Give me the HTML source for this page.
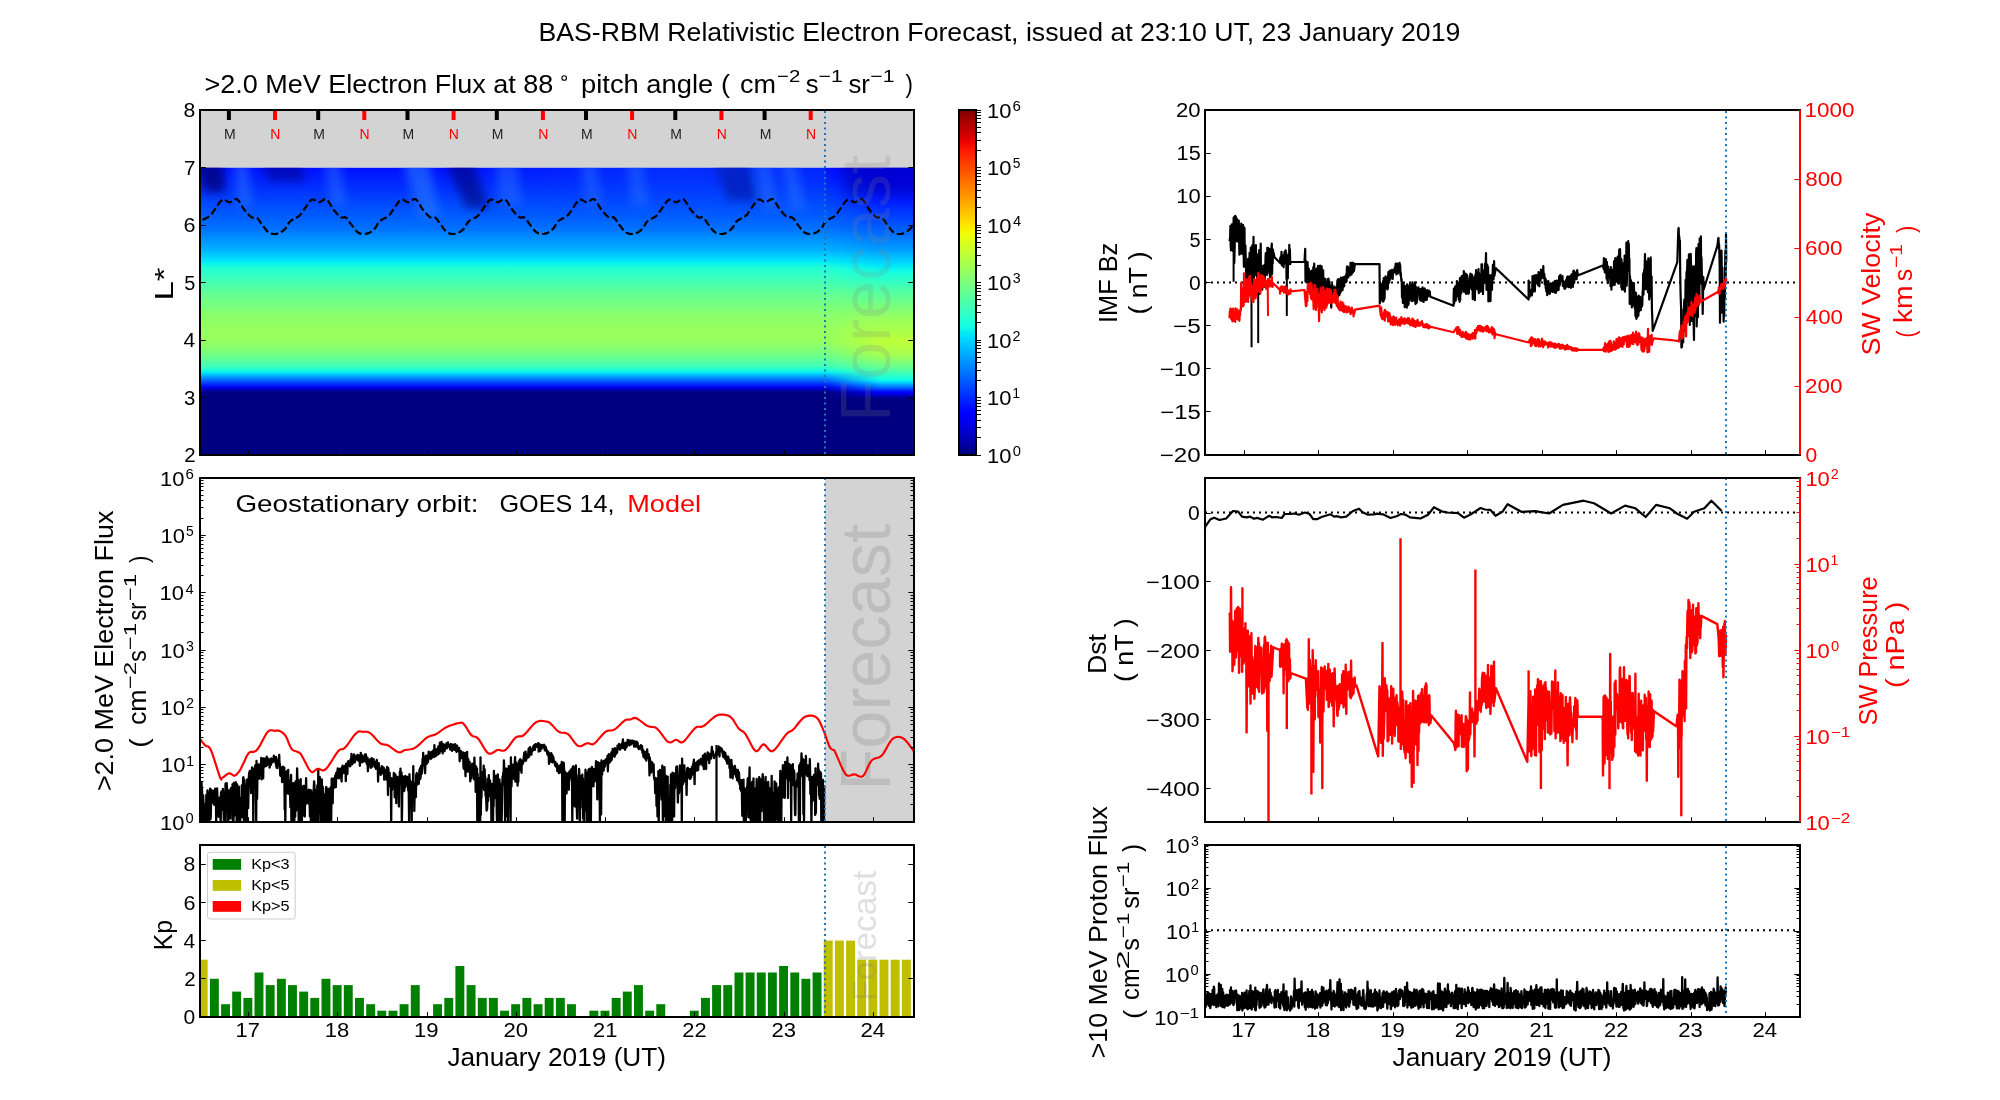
<!DOCTYPE html>
<html><head><meta charset="utf-8"><style>
html,body{margin:0;padding:0;background:#fff;}
svg{display:block;will-change:transform;}
text{font-family:"Liberation Sans", sans-serif;}
</style></head><body>
<svg width="2000" height="1100" viewBox="0 0 2000 1100">
<defs><linearGradient id="hmA" x1="0" y1="0" x2="0" y2="1"><stop offset="0.0000" stop-color="#000fff"/><stop offset="0.0139" stop-color="#0016ff"/><stop offset="0.0278" stop-color="#001cff"/><stop offset="0.0417" stop-color="#0022ff"/><stop offset="0.0557" stop-color="#0028ff"/><stop offset="0.0678" stop-color="#002eff"/><stop offset="0.0696" stop-color="#002fff"/><stop offset="0.0835" stop-color="#0035ff"/><stop offset="0.0974" stop-color="#003cff"/><stop offset="0.1113" stop-color="#0042ff"/><stop offset="0.1130" stop-color="#0043ff"/><stop offset="0.1252" stop-color="#0049ff"/><stop offset="0.1391" stop-color="#004fff"/><stop offset="0.1530" stop-color="#0056ff"/><stop offset="0.1670" stop-color="#005cff"/><stop offset="0.1809" stop-color="#0062ff"/><stop offset="0.1948" stop-color="#0069ff"/><stop offset="0.2087" stop-color="#006fff"/><stop offset="0.2104" stop-color="#0070ff"/><stop offset="0.2174" stop-color="#0076ff"/><stop offset="0.2226" stop-color="#007bff"/><stop offset="0.2365" stop-color="#0087ff"/><stop offset="0.2504" stop-color="#0093ff"/><stop offset="0.2643" stop-color="#009fff"/><stop offset="0.2783" stop-color="#00abff"/><stop offset="0.2870" stop-color="#00b2ff"/><stop offset="0.2922" stop-color="#00baff"/><stop offset="0.3061" stop-color="#00ccff"/><stop offset="0.3200" stop-color="#00dffc"/><stop offset="0.3287" stop-color="#04ebf3"/><stop offset="0.3339" stop-color="#0bf4eb"/><stop offset="0.3478" stop-color="#1fffd8"/><stop offset="0.3496" stop-color="#21ffd6"/><stop offset="0.3617" stop-color="#2affcd"/><stop offset="0.3757" stop-color="#34ffc3"/><stop offset="0.3896" stop-color="#3effb9"/><stop offset="0.4035" stop-color="#48ffaf"/><stop offset="0.4174" stop-color="#52ffa5"/><stop offset="0.4313" stop-color="#5cff9a"/><stop offset="0.4400" stop-color="#63ff94"/><stop offset="0.4452" stop-color="#66ff91"/><stop offset="0.4591" stop-color="#6dff8a"/><stop offset="0.4730" stop-color="#74ff82"/><stop offset="0.4870" stop-color="#7cff7b"/><stop offset="0.5009" stop-color="#83ff73"/><stop offset="0.5148" stop-color="#8bff6c"/><stop offset="0.5165" stop-color="#8cff6b"/><stop offset="0.5287" stop-color="#8fff68"/><stop offset="0.5304" stop-color="#8fff67"/><stop offset="0.5426" stop-color="#92ff64"/><stop offset="0.5565" stop-color="#96ff61"/><stop offset="0.5652" stop-color="#98ff5f"/><stop offset="0.5704" stop-color="#98ff5f"/><stop offset="0.5843" stop-color="#98ff5f"/><stop offset="0.5983" stop-color="#98ff5f"/><stop offset="0.6000" stop-color="#98ff5f"/><stop offset="0.6070" stop-color="#93ff63"/><stop offset="0.6122" stop-color="#90ff67"/><stop offset="0.6261" stop-color="#86ff71"/><stop offset="0.6400" stop-color="#7dff7a"/><stop offset="0.6417" stop-color="#7bff7b"/><stop offset="0.6522" stop-color="#6fff88"/><stop offset="0.6539" stop-color="#6dff8a"/><stop offset="0.6678" stop-color="#5dff9a"/><stop offset="0.6817" stop-color="#4cffab"/><stop offset="0.6904" stop-color="#42ffb5"/><stop offset="0.6957" stop-color="#33ffc3"/><stop offset="0.6974" stop-color="#2fffc8"/><stop offset="0.7096" stop-color="#0df6ea"/><stop offset="0.7113" stop-color="#08f0ef"/><stop offset="0.7235" stop-color="#00b4ff"/><stop offset="0.7322" stop-color="#008aff"/><stop offset="0.7374" stop-color="#0073ff"/><stop offset="0.7426" stop-color="#005cff"/><stop offset="0.7513" stop-color="#0036ff"/><stop offset="0.7530" stop-color="#002eff"/><stop offset="0.7652" stop-color="#0000ec"/><stop offset="0.7670" stop-color="#0000df"/><stop offset="0.7722" stop-color="#0000b9"/><stop offset="0.7791" stop-color="#000093"/><stop offset="0.7826" stop-color="#000080"/><stop offset="0.7878" stop-color="#000080"/><stop offset="0.7930" stop-color="#000080"/><stop offset="0.8052" stop-color="#000080"/><stop offset="0.8070" stop-color="#000080"/><stop offset="0.8209" stop-color="#000080"/><stop offset="1.0000" stop-color="#000080"/></linearGradient>
<linearGradient id="hmB" x1="0" y1="0" x2="0" y2="1"><stop offset="0.0000" stop-color="#0000ff"/><stop offset="0.0139" stop-color="#0000ff"/><stop offset="0.0278" stop-color="#0000ff"/><stop offset="0.0417" stop-color="#0000ff"/><stop offset="0.0557" stop-color="#0005ff"/><stop offset="0.0678" stop-color="#0009ff"/><stop offset="0.0696" stop-color="#000aff"/><stop offset="0.0835" stop-color="#000fff"/><stop offset="0.0974" stop-color="#0014ff"/><stop offset="0.1113" stop-color="#0019ff"/><stop offset="0.1130" stop-color="#0019ff"/><stop offset="0.1252" stop-color="#0022ff"/><stop offset="0.1391" stop-color="#002bff"/><stop offset="0.1530" stop-color="#0035ff"/><stop offset="0.1670" stop-color="#003eff"/><stop offset="0.1809" stop-color="#0048ff"/><stop offset="0.1948" stop-color="#0051ff"/><stop offset="0.2087" stop-color="#005bff"/><stop offset="0.2104" stop-color="#005cff"/><stop offset="0.2174" stop-color="#0061ff"/><stop offset="0.2226" stop-color="#0065ff"/><stop offset="0.2365" stop-color="#0072ff"/><stop offset="0.2504" stop-color="#007eff"/><stop offset="0.2643" stop-color="#008aff"/><stop offset="0.2783" stop-color="#0096ff"/><stop offset="0.2870" stop-color="#009eff"/><stop offset="0.2922" stop-color="#00a5ff"/><stop offset="0.3061" stop-color="#00b7ff"/><stop offset="0.3200" stop-color="#00c9ff"/><stop offset="0.3287" stop-color="#00d4ff"/><stop offset="0.3339" stop-color="#00dbff"/><stop offset="0.3478" stop-color="#06edf0"/><stop offset="0.3496" stop-color="#08f0ef"/><stop offset="0.3617" stop-color="#13fde3"/><stop offset="0.3757" stop-color="#20ffd7"/><stop offset="0.3896" stop-color="#2dffca"/><stop offset="0.4035" stop-color="#39ffbe"/><stop offset="0.4174" stop-color="#46ffb1"/><stop offset="0.4313" stop-color="#53ffa4"/><stop offset="0.4400" stop-color="#5aff9c"/><stop offset="0.4452" stop-color="#5eff98"/><stop offset="0.4591" stop-color="#68ff8e"/><stop offset="0.4730" stop-color="#73ff84"/><stop offset="0.4870" stop-color="#7dff7a"/><stop offset="0.5009" stop-color="#87ff70"/><stop offset="0.5148" stop-color="#91ff66"/><stop offset="0.5165" stop-color="#92ff65"/><stop offset="0.5287" stop-color="#9bff5c"/><stop offset="0.5304" stop-color="#9cff5a"/><stop offset="0.5426" stop-color="#a2ff55"/><stop offset="0.5565" stop-color="#a8ff4f"/><stop offset="0.5652" stop-color="#abff4c"/><stop offset="0.5704" stop-color="#adff49"/><stop offset="0.5843" stop-color="#b3ff43"/><stop offset="0.5983" stop-color="#b9ff3d"/><stop offset="0.6000" stop-color="#baff3d"/><stop offset="0.6070" stop-color="#bdff3a"/><stop offset="0.6122" stop-color="#baff3c"/><stop offset="0.6261" stop-color="#b3ff44"/><stop offset="0.6400" stop-color="#abff4c"/><stop offset="0.6417" stop-color="#aaff4d"/><stop offset="0.6522" stop-color="#a5ff52"/><stop offset="0.6539" stop-color="#a2ff55"/><stop offset="0.6678" stop-color="#8eff69"/><stop offset="0.6817" stop-color="#79ff7d"/><stop offset="0.6904" stop-color="#6dff8a"/><stop offset="0.6957" stop-color="#65ff92"/><stop offset="0.6974" stop-color="#63ff94"/><stop offset="0.7096" stop-color="#4affac"/><stop offset="0.7113" stop-color="#47ffb0"/><stop offset="0.7235" stop-color="#2fffc8"/><stop offset="0.7322" stop-color="#1dffda"/><stop offset="0.7374" stop-color="#13fde4"/><stop offset="0.7426" stop-color="#08f0ef"/><stop offset="0.7513" stop-color="#00bdff"/><stop offset="0.7530" stop-color="#00b2ff"/><stop offset="0.7652" stop-color="#006bff"/><stop offset="0.7670" stop-color="#0061ff"/><stop offset="0.7722" stop-color="#003dff"/><stop offset="0.7791" stop-color="#000eff"/><stop offset="0.7826" stop-color="#0000ff"/><stop offset="0.7878" stop-color="#0000dc"/><stop offset="0.7930" stop-color="#0000c0"/><stop offset="0.8052" stop-color="#000080"/><stop offset="0.8070" stop-color="#000080"/><stop offset="0.8209" stop-color="#000080"/><stop offset="1.0000" stop-color="#000080"/></linearGradient>
<linearGradient id="fcm" x1="825" y1="0" x2="880" y2="0" gradientUnits="userSpaceOnUse"><stop offset="0" stop-color="#fff" stop-opacity="0"/><stop offset="0.5" stop-color="#fff" stop-opacity="0.5"/><stop offset="1" stop-color="#fff" stop-opacity="1"/></linearGradient>
<mask id="fcmask" maskUnits="userSpaceOnUse" x="800" y="160" width="120" height="300"><rect x="800" y="160" width="120" height="300" fill="url(#fcm)"/></mask>
<filter id="blur3" x="-50%" y="-50%" width="200%" height="200%"><feGaussianBlur stdDeviation="5"/></filter>
<clipPath id="hmclip"><rect x="200" y="167.5" width="714" height="287.5"/></clipPath>
<linearGradient id="vfade" x1="0" y1="0" x2="0" y2="1"><stop offset="0" stop-color="#fff" stop-opacity="1"/><stop offset="1" stop-color="#fff" stop-opacity="0"/></linearGradient>
<linearGradient id="hlight" x1="440" y1="0" x2="825" y2="0" gradientUnits="userSpaceOnUse"><stop offset="0" stop-color="#0a60ff" stop-opacity="0"/><stop offset="0.6" stop-color="#0a60ff" stop-opacity="0.35"/><stop offset="1" stop-color="#0a60ff" stop-opacity="0.25"/></linearGradient>
<mask id="vmask" maskUnits="userSpaceOnUse" x="200" y="160" width="714" height="80"><rect x="200" y="167.5" width="714" height="55" fill="url(#vfade)"/></mask><linearGradient id="cbg" x1="0" y1="0" x2="0" y2="1"><stop offset="0.0000" stop-color="#800000"/><stop offset="0.0167" stop-color="#930000"/><stop offset="0.0333" stop-color="#a60000"/><stop offset="0.0500" stop-color="#b90000"/><stop offset="0.0667" stop-color="#cd0000"/><stop offset="0.0833" stop-color="#e00000"/><stop offset="0.1000" stop-color="#f30900"/><stop offset="0.1167" stop-color="#ff1900"/><stop offset="0.1333" stop-color="#ff2900"/><stop offset="0.1500" stop-color="#ff3900"/><stop offset="0.1667" stop-color="#ff4800"/><stop offset="0.1833" stop-color="#ff5800"/><stop offset="0.2000" stop-color="#ff6800"/><stop offset="0.2167" stop-color="#ff7800"/><stop offset="0.2333" stop-color="#ff8700"/><stop offset="0.2500" stop-color="#ff9700"/><stop offset="0.2667" stop-color="#ffa700"/><stop offset="0.2833" stop-color="#ffb700"/><stop offset="0.3000" stop-color="#ffc600"/><stop offset="0.3167" stop-color="#ffd600"/><stop offset="0.3333" stop-color="#ffe600"/><stop offset="0.3500" stop-color="#f7f600"/><stop offset="0.3667" stop-color="#e9ff0e"/><stop offset="0.3833" stop-color="#dbff1b"/><stop offset="0.4000" stop-color="#ceff29"/><stop offset="0.4167" stop-color="#c0ff37"/><stop offset="0.4333" stop-color="#b2ff45"/><stop offset="0.4500" stop-color="#a5ff52"/><stop offset="0.4667" stop-color="#97ff60"/><stop offset="0.4833" stop-color="#89ff6e"/><stop offset="0.5000" stop-color="#7bff7b"/><stop offset="0.5167" stop-color="#6eff89"/><stop offset="0.5333" stop-color="#60ff97"/><stop offset="0.5500" stop-color="#52ffa5"/><stop offset="0.5667" stop-color="#45ffb2"/><stop offset="0.5833" stop-color="#37ffc0"/><stop offset="0.6000" stop-color="#29ffce"/><stop offset="0.6167" stop-color="#1bffdb"/><stop offset="0.6333" stop-color="#0ef7e9"/><stop offset="0.6500" stop-color="#00e5f7"/><stop offset="0.6667" stop-color="#00d5ff"/><stop offset="0.6833" stop-color="#00c3ff"/><stop offset="0.7000" stop-color="#00b3ff"/><stop offset="0.7167" stop-color="#00a2ff"/><stop offset="0.7333" stop-color="#0091ff"/><stop offset="0.7500" stop-color="#0080ff"/><stop offset="0.7667" stop-color="#006eff"/><stop offset="0.7833" stop-color="#005eff"/><stop offset="0.8000" stop-color="#004cff"/><stop offset="0.8167" stop-color="#003cff"/><stop offset="0.8333" stop-color="#002aff"/><stop offset="0.8500" stop-color="#001aff"/><stop offset="0.8667" stop-color="#0008ff"/><stop offset="0.8833" stop-color="#0000ff"/><stop offset="0.9000" stop-color="#0000f3"/><stop offset="0.9167" stop-color="#0000e0"/><stop offset="0.9333" stop-color="#0000cd"/><stop offset="0.9500" stop-color="#0000b9"/><stop offset="0.9667" stop-color="#0000a6"/><stop offset="0.9833" stop-color="#000093"/><stop offset="1.0000" stop-color="#000080"/></linearGradient></defs>
<rect width="2000" height="1100" fill="#fff"/>
<rect x="200" y="167.5" width="714" height="287.5" fill="url(#hmA)"/>
<rect x="815" y="167.5" width="99" height="287.5" fill="url(#hmB)" mask="url(#fcmask)"/>
<g clip-path="url(#hmclip)"><g filter="url(#blur3)"><polygon points="196,160 222,160 226,192 204,192" fill="#000070" opacity="0.75"/><polygon points="262,160 300,160 306,182 268,182" fill="#000070" opacity="0.45"/><polygon points="445,160 472,160 490,208 466,208" fill="#000070" opacity="0.6"/><polygon points="712,160 748,160 760,200 728,200" fill="#000070" opacity="0.5"/><polygon points="840,160 918,160 918,195 845,195" fill="#000070" opacity="0.3"/><polygon points="234,160 248,160 252,208 238,208" fill="#2a7aff" opacity="0.5"/><polygon points="324,160 340,160 346,206 330,206" fill="#2a7aff" opacity="0.45"/><polygon points="402,160 428,160 440,218 420,218" fill="#2a7aff" opacity="0.6"/><polygon points="495,160 517,160 522,206 500,206" fill="#2a7aff" opacity="0.45"/><polygon points="580,160 597,160 602,206 586,206" fill="#2a7aff" opacity="0.45"/><polygon points="626,160 643,160 649,206 632,206" fill="#2a7aff" opacity="0.45"/><polygon points="754,160 771,160 779,210 762,210" fill="#2a7aff" opacity="0.5"/><polygon points="780,160 796,160 806,210 790,210" fill="#2a7aff" opacity="0.5"/></g></g>
<rect x="440" y="167.5" width="385" height="60" fill="url(#hlight)" mask="url(#vmask)"/>
<rect x="200" y="110" width="714" height="57.5" fill="#d3d3d3"/>
<g clip-path="url(#hmclip)"><path d="M196.3 228.4 197.6 226.7 198.5 224.8 199.6 222.9 201 221.2 203 219.8 205.5 218.5 207.9 217.2 210 215.8 211.6 214.2 212.8 212.4 214 210.6 215.4 208.6 217.1 206.2 218.9 203.5 220.8 201.1 222.6 199.6 224.4 199.6 226.2 200.6 228 201.8 229.8 202.3 231.6 201.6 233.4 200.3 235.2 199.2 237 199.2 238.8 200.9 240.6 203.7 242.4 206.8 244.2 209.5 246 211.8 247.9 214 249.7 215.8 251.4 217.2 252.9 217.7 254.2 217.4 255.5 217.2 256.8 217.6 258.1 218.9 259.4 220.7 260.7 222.8 262.2 224.8 263.8 226.9 265.6 229.3 267.4 231.4 269.4 232.9 271.6 233.7 273.9 234 276.2 233.8 278.4 233.4 280.4 232.6 282.3 231.4 284 229.9 285.6 228.4 286.8 226.7 287.8 224.8 288.9 222.9 290.3 221.2 292.3 219.8 294.7 218.5 297.2 217.2 299.3 215.8 300.8 214.2 302.1 212.4 303.3 210.6 304.7 208.6 306.4 206.2 308.2 203.5 310 201.1 311.9 199.6 313.7 199.6 315.5 200.6 317.3 201.8 319.1 202.3 320.9 201.6 322.7 200.3 324.5 199.2 326.3 199.2 328.1 200.9 329.9 203.7 331.7 206.8 333.5 209.5 335.3 211.8 337.2 214 339 215.8 340.7 217.2 342.2 217.7 343.5 217.4 344.8 217.2 346.1 217.6 347.4 218.9 348.7 220.7 350 222.8 351.5 224.8 353.1 226.9 354.9 229.3 356.7 231.4 358.7 232.9 360.9 233.7 363.2 234 365.5 233.8 367.7 233.4 369.7 232.6 371.6 231.4 373.3 229.9 374.9 228.4 376.1 226.7 377.1 224.8 378.2 222.9 379.6 221.2 381.6 219.8 384 218.5 386.5 217.2 388.6 215.8 390.1 214.2 391.4 212.4 392.6 210.6 394 208.6 395.6 206.2 397.5 203.5 399.3 201.1 401.2 199.6 403 199.6 404.8 200.6 406.6 201.8 408.4 202.3 410.2 201.6 412 200.3 413.8 199.2 415.6 199.2 417.4 200.9 419.2 203.7 421 206.8 422.8 209.5 424.6 211.8 426.5 214 428.3 215.8 430 217.2 431.4 217.7 432.8 217.4 434.1 217.2 435.4 217.6 436.7 218.9 438 220.7 439.3 222.8 440.8 224.8 442.4 226.9 444.1 229.3 446 231.4 448 232.9 450.1 233.7 452.5 234 454.8 233.8 457 233.4 459 232.6 460.8 231.4 462.6 229.9 464.2 228.4 465.4 226.7 466.4 224.8 467.4 222.9 468.9 221.2 470.9 219.8 473.3 218.5 475.8 217.2 477.9 215.8 479.4 214.2 480.7 212.4 481.9 210.6 483.3 208.6 484.9 206.2 486.7 203.5 488.6 201.1 490.5 199.6 492.3 199.6 494.1 200.6 495.9 201.8 497.7 202.3 499.5 201.6 501.3 200.3 503.1 199.2 504.9 199.2 506.7 200.9 508.5 203.7 510.3 206.8 512.1 209.5 513.9 211.8 515.8 214 517.6 215.8 519.3 217.2 520.7 217.7 522.1 217.4 523.4 217.2 524.7 217.6 526 218.9 527.2 220.7 528.6 222.8 530.1 224.8 531.7 226.9 533.4 229.3 535.3 231.4 537.3 232.9 539.4 233.7 541.8 234 544.1 233.8 546.3 233.4 548.2 232.6 550.1 231.4 551.9 229.9 553.5 228.4 554.7 226.7 555.7 224.8 556.7 222.9 558.1 221.2 560.2 219.8 562.6 218.5 565 217.2 567.1 215.8 568.7 214.2 570 212.4 571.2 210.6 572.5 208.6 574.2 206.2 576 203.5 577.9 201.1 579.7 199.6 581.5 199.6 583.3 200.6 585.1 201.8 586.9 202.3 588.7 201.6 590.5 200.3 592.3 199.2 594.1 199.2 595.9 200.9 597.7 203.7 599.5 206.8 601.3 209.5 603.2 211.8 605.1 214 606.9 215.8 608.5 217.2 610 217.7 611.4 217.4 612.6 217.2 613.9 217.6 615.3 218.9 616.5 220.7 617.9 222.8 619.3 224.8 621 226.9 622.7 229.3 624.6 231.4 626.5 232.9 628.7 233.7 631 234 633.4 233.8 635.5 233.4 637.5 232.6 639.4 231.4 641.2 229.9 642.7 228.4 644 226.7 645 224.8 646 222.9 647.4 221.2 649.5 219.8 651.9 218.5 654.3 217.2 656.4 215.8 658 214.2 659.2 212.4 660.4 210.6 661.8 208.6 663.5 206.2 665.3 203.5 667.2 201.1 669 199.6 670.8 199.6 672.6 200.6 674.4 201.8 676.2 202.3 678 201.6 679.8 200.3 681.6 199.2 683.4 199.2 685.2 200.9 687 203.7 688.8 206.8 690.6 209.5 692.5 211.8 694.3 214 696.2 215.8 697.8 217.2 699.3 217.7 700.6 217.4 701.9 217.2 703.2 217.6 704.5 218.9 705.8 220.7 707.2 222.8 708.6 224.8 710.3 226.9 712 229.3 713.9 231.4 715.8 232.9 718 233.7 720.3 234 722.7 233.8 724.8 233.4 726.8 232.6 728.7 231.4 730.4 229.9 732 228.4 733.3 226.7 734.3 224.8 735.3 222.9 736.7 221.2 738.7 219.8 741.2 218.5 743.6 217.2 745.7 215.8 747.3 214.2 748.5 212.4 749.7 210.6 751.1 208.6 752.8 206.2 754.6 203.5 756.5 201.1 758.3 199.6 760.1 199.6 761.9 200.6 763.7 201.8 765.5 202.3 767.3 201.6 769.1 200.3 770.9 199.2 772.7 199.2 774.5 200.9 776.3 203.7 778.1 206.8 779.9 209.5 781.8 211.8 783.6 214 785.4 215.8 787.1 217.2 788.6 217.7 789.9 217.4 791.2 217.2 792.5 217.6 793.8 218.9 795.1 220.7 796.4 222.8 797.9 224.8 799.5 226.9 801.3 229.3 803.1 231.4 805.1 232.9 807.3 233.7 809.6 234 812 233.8 814.1 233.4 816.1 232.6 818 231.4 819.7 229.9 821.3 228.4 822.6 226.7 823.5 224.8 824.6 222.9 826 221.2 828 219.8 830.5 218.5 832.9 217.2 835 215.8 836.6 214.2 837.8 212.4 839 210.6 840.4 208.6 842.1 206.2 843.9 203.5 845.8 201.1 847.6 199.6 849.4 199.6 851.2 200.6 853 201.8 854.8 202.3 856.6 201.6 858.4 200.3 860.2 199.2 862 199.2 863.8 200.9 865.6 203.7 867.4 206.8 869.2 209.5 871 211.8 872.9 214 874.7 215.8 876.4 217.2 877.9 217.7 879.2 217.4 880.5 217.2 881.8 217.6 883.1 218.9 884.4 220.7 885.7 222.8 887.2 224.8 888.8 226.9 890.6 229.3 892.4 231.4 894.4 232.9 896.6 233.7 898.9 234 901.2 233.8 903.4 233.4 905.4 232.6 907.3 231.4 909 229.9 910.6 228.4 911.8 226.7 912.8 224.8 913.9 222.9 915.3 221.2 917.3 219.8 919.7 218.5" fill="none" stroke="#000" stroke-width="2.2" stroke-dasharray="7.4 3.2"/></g>
<text x="890.4" y="422" font-size="71" fill="#808080" textLength="267.1" lengthAdjust="spacingAndGlyphs" transform="rotate(-90 890.4 422)" fill-opacity="0.2">Forecast</text>
<path d="M228.9 111v9M318.2 111v9M407.5 111v9M496.8 111v9M586 111v9M675.3 111v9M764.6 111v9" stroke="#000" stroke-width="4"/>
<path d="M275 111v9M364.3 111v9M453.6 111v9M542.9 111v9M632.1 111v9M721.4 111v9M810.7 111v9" stroke="#f00" stroke-width="4"/>
<text x="229.8" y="138.8" font-size="14" text-anchor="middle" fill="#222">M</text>
<text x="275.3" y="138.8" font-size="14" text-anchor="middle" fill="#f00">N</text>
<text x="319.1" y="138.8" font-size="14" text-anchor="middle" fill="#222">M</text>
<text x="364.6" y="138.8" font-size="14" text-anchor="middle" fill="#f00">N</text>
<text x="408.4" y="138.8" font-size="14" text-anchor="middle" fill="#222">M</text>
<text x="453.9" y="138.8" font-size="14" text-anchor="middle" fill="#f00">N</text>
<text x="497.7" y="138.8" font-size="14" text-anchor="middle" fill="#222">M</text>
<text x="543.2" y="138.8" font-size="14" text-anchor="middle" fill="#f00">N</text>
<text x="586.9" y="138.8" font-size="14" text-anchor="middle" fill="#222">M</text>
<text x="632.4" y="138.8" font-size="14" text-anchor="middle" fill="#f00">N</text>
<text x="676.2" y="138.8" font-size="14" text-anchor="middle" fill="#222">M</text>
<text x="721.7" y="138.8" font-size="14" text-anchor="middle" fill="#f00">N</text>
<text x="765.5" y="138.8" font-size="14" text-anchor="middle" fill="#222">M</text>
<text x="811" y="138.8" font-size="14" text-anchor="middle" fill="#f00">N</text>
<rect x="959" y="110" width="17" height="345" fill="url(#cbg)"/>
<rect x="825" y="478" width="89" height="344" fill="#d3d3d3"/>
<text x="889.8" y="790.5" font-size="71" fill="#808080" textLength="266.5" lengthAdjust="spacingAndGlyphs" transform="rotate(-90 889.8 790.5)" fill-opacity="0.27">Forecast</text>
<clipPath id="geoclip"><rect x="200" y="478" width="714" height="344"/></clipPath>
<g clip-path="url(#geoclip)"><path d="M200.5 822.7 200.8 821.5 201.1 811.8 201.5 782.4 201.8 788.1 202.1 791.4 202.4 824 202.7 798.7 203.1 795.4 203.4 801.2 203.7 824 204 822.8 204.3 811.3 204.7 804.4 205 822 205.3 813.5 205.6 824 205.9 824 206.3 794.9 206.6 824 206.9 824 207.2 796.6 207.5 790.3 207.9 811 208.2 826.8 208.5 824 208.8 824 209.1 820.6 209.5 792.3 209.8 803.3 210.1 788.7 210.4 819.4 210.7 817.7 211.1 801.5 211.4 789.9 211.7 798.5 212 791.1 212.3 795.2 212.7 796.4 213 802.5 213.3 790.8 213.6 797.9 213.9 804.5 214.3 790.7 214.6 804.8 214.9 804.7 215.2 788.7 215.5 797.4 215.9 798.4 216.2 822.7 216.5 796.1 216.8 816.7 217.1 788.5 217.5 798.3 217.8 798.6 218.1 816 218.4 801.6 218.7 816.8 219.1 802.2 219.4 806.8 219.7 797.8 220 797.2 220.3 809.7 220.7 824 221 792.5 221.3 809.3 221.6 791.5 221.9 809.5 222.3 808.8 222.6 796.2 222.9 788.8 223.2 793.7 223.5 808 223.9 824 224.2 820.4 224.5 818.8 224.8 817.6 225.1 822.9 225.5 783.6 225.8 791.9 226.1 799.5 226.4 793 226.7 783.2 227.1 789.4 227.4 801.4 227.7 824 228 807.1 228.3 824 228.7 808.6 229 790.4 229.3 793.8 229.6 799 229.9 817.3 230.3 818.5 230.6 799.6 230.9 788.2 231.2 804.9 231.5 799.3 231.9 797.2 232.2 807.7 232.5 784.5 232.8 824 233.1 810.9 233.5 824 233.8 782.9 234.1 793.1 234.4 803.6 234.7 796.7 235.1 815.4 235.4 786.7 235.7 782.1 236 783.7 236.3 789.6 236.7 824 237 784.1 237.3 794.7 237.6 824 237.9 824 238.3 820.2 238.6 799.7 238.9 786.6 239.2 814.9 239.5 821 239.9 816.6 240.2 824 240.5 802.7 240.8 806.3 241.1 797.7 241.5 813.2 241.8 785.4 242.1 793.9 242.4 817.3 242.7 799 243.1 777.7 243.4 777.2 243.7 793.7 244 824 244.3 779.7 244.7 783.6 245 788.6 245.3 819.9 245.6 792.6 245.9 794.7 246.3 787 246.6 799.1 246.9 824 247.2 779.4 247.5 791.3 247.9 782.7 248.2 808 248.5 791.3 248.8 779.5 249.1 772.7 249.5 777.8 249.8 771 250.1 775.8 250.4 775.8 250.7 777.6 251.1 793.1 251.4 779.1 251.7 776.8 252 767.5 252.3 788.6 252.7 777.8 253 771.7 253.3 824 253.6 790.2 253.9 775.3 254.3 768.2 254.6 772.9 254.9 775.1 255.2 765.3 255.5 779 255.9 782.2 256.2 821.2 256.5 761 256.8 779.3 257.1 798.9 257.5 768.9 257.8 779.4 258.1 767.7 258.4 773.7 258.7 764.3 259.1 778.6 259.4 768.8 259.7 773.6 260 765.4 260.3 767 260.7 772.9 261 763 261.3 757.8 261.6 779.4 261.9 770.6 262.3 762.4 262.6 760.6 262.9 760.4 263.2 778.3 263.5 758.5 263.9 760.9 264.2 766.9 264.5 758.7 264.8 764.7 265.1 764.7 265.5 760.4 265.8 762.9 266.1 766.1 266.4 759.1 266.7 756.7 267.1 765.1 267.4 762.4 267.7 762.3 268 758.6 268.3 762.5 268.7 762.2 269 761.2 269.3 759.3 269.6 767.6 269.9 766.1 270.3 763.8 270.6 764.5 270.9 764.8 271.2 758.3 271.5 759.8 271.9 762.5 272.2 760.2 272.5 762.2 272.8 760.2 273.1 759 273.5 761.5 273.8 755.7 274.1 758 274.4 761 274.7 757.7 275.1 757.6 275.4 757.2 275.7 763.6 276 757 276.3 766.2 276.7 767.7 277 760.1 277.3 768.1 277.6 765.8 277.9 760.4 278.3 765.8 278.6 758.7 278.9 760.5 279.2 754.8 279.5 762.9 279.9 764.3 280.2 775.1 280.5 775.7 280.8 775.5 281.1 767.1 281.5 774.2 281.8 770.2 282.1 782.2 282.4 771.8 282.7 767.7 283.1 766.8 283.4 777.1 283.7 773.5 284 781.7 284.3 767.7 284.7 809.5 285 781.8 285.3 824 285.6 787.1 285.9 772.7 286.3 784.2 286.6 771.5 286.9 782.4 287.2 792.4 287.5 793.3 287.9 789.7 288.2 769.8 288.5 791.8 288.8 793.9 289.1 792.9 289.5 792.1 289.8 780.4 290.1 794.4 290.4 807.1 290.7 785.3 291.1 774.8 291.4 824 291.7 819.4 292 796.4 292.3 793.9 292.7 807.1 293 786.9 293.3 783.2 293.6 821.8 293.9 788.1 294.3 824 294.6 789.8 294.9 783.2 295.2 816.7 295.5 781.5 295.9 785.4 296.2 810.6 296.5 797.4 296.8 788.6 297.1 768.3 297.5 780.8 297.8 782.2 298.1 780 298.4 793.2 298.7 824 299.1 821.7 299.4 800.7 299.7 790.5 300 813.6 300.3 781.3 300.7 779.2 301 823.5 301.3 791.9 301.6 798.9 301.9 822.5 302.3 799.6 302.6 793.3 302.9 789.9 303.2 786 303.5 791 303.9 795.9 304.2 815.7 304.5 786 304.8 816.5 305.1 799.5 305.5 791.6 305.8 795.8 306.1 778.2 306.4 793.5 306.7 803.5 307.1 792.8 307.4 799.6 307.7 801.5 308 802.8 308.3 800 308.7 789.7 309 803.9 309.3 795.8 309.6 802.1 309.9 816.4 310.3 798.8 310.6 790.1 310.9 824 311.2 790.7 311.5 818.9 311.9 824 312.2 824 312.5 799.5 312.8 821 313.1 793.4 313.5 795.5 313.8 788.1 314.1 781.3 314.4 784.2 314.7 824 315.1 789.6 315.4 824 315.7 790.5 316 824 316.3 813.8 316.7 794 317 818.1 317.3 785.4 317.6 786.5 317.9 820.9 318.3 770.6 318.6 802.8 318.9 787.2 319.2 813.2 319.5 798.9 319.9 777.2 320.2 806.4 320.5 824 320.8 793.7 321.1 815.3 321.5 825.1 321.8 779.4 322.1 802.7 322.4 824.4 322.7 786.5 323.1 796.5 323.4 793.7 323.7 804.6 324 816 324.3 794.2 324.7 824 325 824 325.3 799.9 325.6 821.1 325.9 788.8 326.3 787 326.6 803.8 326.9 795.3 327.2 824 327.5 824 327.9 824 328.2 788.8 328.5 814.8 328.8 790.8 329.1 804.3 329.5 790.8 329.8 824 330.1 814.5 330.4 787.7 330.7 796.9 331.1 825.9 331.4 801.3 331.7 778.7 332 791.6 332.3 785.4 332.7 803.3 333 783.1 333.3 787.4 333.6 778.5 333.9 785.5 334.3 779.2 334.6 787.5 334.9 785.6 335.2 775.5 335.5 784 335.9 787.1 336.2 773 336.5 774.3 336.8 774.9 337.1 775.3 337.5 770.9 337.8 768.4 338.1 778 338.4 772.4 338.7 772.3 339.1 778.3 339.4 768.9 339.7 773.7 340 770.2 340.3 768.8 340.7 769.4 341 773.1 341.3 775.8 341.6 781.5 341.9 767.3 342.3 774 342.6 765.7 342.9 767.5 343.2 772.2 343.5 766.5 343.9 768.9 344.2 771.9 344.5 772.9 344.8 772 345.1 765.7 345.5 767.1 345.8 781.2 346.1 763.9 346.4 770.8 346.7 771.3 347.1 765.7 347.4 774 347.7 762.4 348 763.5 348.3 761.1 348.7 763.5 349 765.3 349.3 763.5 349.6 761.7 349.9 766.3 350.3 766.3 350.6 759.2 350.9 760.5 351.2 761.7 351.5 753.8 351.9 757.6 352.2 764.4 352.5 763.4 352.8 759.5 353.1 757.6 353.5 758.6 353.8 758.2 354.1 754.4 354.4 762.4 354.7 762.5 355.1 759.4 355.4 756.4 355.7 760.4 356 758.6 356.3 756.9 356.7 758.9 357 756 357.3 755 357.6 755.7 357.9 755 358.3 760.6 358.6 759.1 358.9 757.8 359.2 758.1 359.5 755.3 359.9 765.8 360.2 756.9 360.5 761.5 360.8 752.8 361.1 756.1 361.5 760.6 361.8 758.2 362.1 762.3 362.4 755.4 362.7 756.9 363.1 761.6 363.4 757.1 363.7 761.4 364 757.9 364.3 757.2 364.7 761.1 365 754.5 365.3 756.8 365.6 759 365.9 754.3 366.3 759.1 366.6 763.4 366.9 757.5 367.2 764.7 367.5 757.7 367.9 771.3 368.2 764.9 368.5 765.9 368.8 762.8 369.1 761.6 369.5 763.5 369.8 759.5 370.1 761.8 370.4 762 370.7 767.8 371.1 765.8 371.4 767.4 371.7 758.1 372 766.6 372.3 763.2 372.7 763.9 373 759.7 373.3 762.1 373.6 759.2 373.9 763 374.3 762.1 374.6 766.8 374.9 765.8 375.2 766.2 375.5 765.2 375.9 768.8 376.2 761.3 376.5 767.8 376.8 760 377.1 768.4 377.5 762.8 377.8 768.2 378.1 781.5 378.4 768.3 378.7 763.1 379.1 767.6 379.4 768.5 379.7 772.1 380 770.1 380.3 768.6 380.7 774.9 381 768.9 381.3 769.6 381.6 771.9 381.9 766.1 382.3 770.9 382.6 769.5 382.9 773.5 383.2 773.6 383.5 767.3 383.9 768.8 384.2 779.6 384.5 769.8 384.8 771 385.1 770.6 385.5 770 385.8 778.7 386.1 772.4 386.4 779.6 386.7 774.5 387.1 766.9 387.4 776.1 387.7 778.8 388 795 388.3 768.2 388.7 775.8 389 773.1 389.3 776 389.6 772.8 389.9 786.1 390.3 779.1 390.6 786.3 390.9 786.3 391.2 824 391.5 778.2 391.9 790.1 392.2 778.7 392.5 780.6 392.8 781.1 393.1 787.7 393.5 788.4 393.8 773 394.1 787 394.4 779.9 394.7 797.3 395.1 782.4 395.4 774.5 395.7 787.6 396 787.8 396.3 803.2 396.7 776.8 397 781.8 397.3 778.3 397.6 777 397.9 790 398.3 777.8 398.6 785.8 398.9 806.5 399.2 781.7 399.5 783.9 399.9 771.8 400.2 779.4 400.5 768.6 400.8 784.2 401.1 780.4 401.5 772.5 401.8 824 402.1 809.3 402.4 776 402.7 777.3 403.1 791.1 403.4 783.9 403.7 777.3 404 791.1 404.3 790.7 404.7 780.1 405 787.7 405.3 775.8 405.6 776.6 405.9 784.2 406.3 776.8 406.6 776.9 406.9 784.7 407.2 778.2 407.5 786.8 407.9 781.6 408.2 790.5 408.5 776.3 408.8 795.4 409.1 823.1 409.5 774.2 409.8 793.9 410.1 780.2 410.4 806.2 410.7 806.4 411.1 795.1 411.4 782.2 411.7 824 412 783.1 412.3 788.6 412.7 796.4 413 784.4 413.3 766.1 413.6 799.9 413.9 783 414.3 811 414.6 797.2 414.9 788 415.2 783.7 415.5 795 415.9 797.1 416.2 774.8 416.5 774.2 416.8 773 417.1 784.9 417.5 775.5 417.8 782.7 418.1 778.1 418.4 775.2 418.7 783.8 419.1 779.7 419.4 770.1 419.7 773.9 420 768.2 420.3 778.9 420.7 776.1 421 766 421.3 771.6 421.6 773.9 421.9 772.7 422.3 768.7 422.6 758.8 422.9 762.3 423.2 752.9 423.5 765.5 423.9 756.5 424.2 764.8 424.5 757.7 424.8 762.5 425.1 773.3 425.5 760.8 425.8 759.2 426.1 755.6 426.4 758.5 426.7 763.9 427.1 755.8 427.4 757.7 427.7 760.2 428 762.2 428.3 757.7 428.7 751.6 429 756.9 429.3 754.9 429.6 753.2 429.9 757.7 430.3 755.1 430.6 759 430.9 754.3 431.2 752 431.5 758.3 431.9 757.5 432.2 756.1 432.5 751.9 432.8 753.8 433.1 750.7 433.5 756.5 433.8 752.4 434.1 757 434.4 745.1 434.7 750.5 435.1 754.5 435.4 751.3 435.7 756.2 436 754.5 436.3 750.1 436.7 749.1 437 751.7 437.3 749.9 437.6 754.6 437.9 754.5 438.3 746.3 438.6 746.9 438.9 752.7 439.2 751.5 439.5 753.4 439.9 742.7 440.2 745.8 440.5 751 440.8 746.4 441.1 745.9 441.5 742 441.8 751.5 442.1 747.2 442.4 747.8 442.7 753.4 443.1 746.2 443.4 744.1 443.7 748.4 444 748.6 444.3 747.5 444.7 751 445 745.9 445.3 747.1 445.6 744.7 445.9 747.5 446.3 747 446.6 743.2 446.9 748.4 447.2 746.8 447.5 745.9 447.9 742.3 448.2 746.5 448.5 744.8 448.8 746 449.1 746.9 449.5 745.6 449.8 744.8 450.1 749.5 450.4 747 450.7 743.8 451.1 746.7 451.4 745.1 451.7 747.2 452 750.8 452.3 746.3 452.7 744.9 453 744.4 453.3 747.9 453.6 746.4 453.9 747.2 454.3 749.9 454.6 747.3 454.9 746.9 455.2 744.2 455.5 744.8 455.9 746.9 456.2 751 456.5 751.8 456.8 751.5 457.1 745.7 457.5 751.1 457.8 750.8 458.1 748.9 458.4 748.3 458.7 750.4 459.1 747.8 459.4 751.8 459.7 761.3 460 755.3 460.3 751.7 460.7 751.1 461 751.2 461.3 758.1 461.6 753.3 461.9 757.6 462.3 753.8 462.6 753.6 462.9 752.4 463.2 758 463.5 767 463.9 768.8 464.2 753.8 464.5 758.6 464.8 752.8 465.1 764.1 465.5 776.3 465.8 764.2 466.1 767.6 466.4 765.1 466.7 756.3 467.1 751.8 467.4 768 467.7 771.7 468 763.2 468.3 759.2 468.7 768.5 469 771 469.3 763.8 469.6 761.8 469.9 770.9 470.3 781.4 470.6 773.7 470.9 774.1 471.2 765.9 471.5 778.3 471.9 772.5 472.2 763.6 472.5 765.6 472.8 770.1 473.1 773.7 473.5 764.5 473.8 764.8 474.1 779.4 474.4 757.6 474.7 767.9 475.1 766.3 475.4 772.5 475.7 791.9 476 766.4 476.3 777.1 476.7 772.3 477 768.3 477.3 824 477.6 774 477.9 824 478.3 807.5 478.6 777.9 478.9 824 479.2 800.3 479.5 824 479.9 824 480.2 824 480.5 757.5 480.8 814.9 481.1 796.2 481.5 797.4 481.8 775.2 482.1 786 482.4 772.1 482.7 775.5 483.1 772.1 483.4 782.7 483.7 765.6 484 788.7 484.3 790 484.7 769.5 485 789.9 485.3 777.1 485.6 795.9 485.9 786.1 486.3 802.1 486.6 810.7 486.9 791.2 487.2 809 487.5 789.7 487.9 778.8 488.2 800.9 488.5 792.4 488.8 775.1 489.1 782 489.5 788.4 489.8 795.9 490.1 780.5 490.4 785.9 490.7 792.4 491.1 789.8 491.4 821.6 491.7 824 492 787.6 492.3 783.9 492.7 792 493 824 493.3 795.1 493.6 806.6 493.9 770.8 494.3 798.4 494.6 779.6 494.9 778.8 495.2 781.3 495.5 796 495.9 775.7 496.2 789.9 496.5 795.6 496.8 814.9 497.1 824 497.5 790.6 497.8 774.4 498.1 790.8 498.4 797.9 498.7 813.8 499.1 824 499.4 779.3 499.7 784.7 500 790.6 500.3 784.1 500.7 792.7 501 792.8 501.3 820 501.6 823.4 501.9 808.5 502.3 783.7 502.6 776.4 502.9 784.8 503.2 772.7 503.5 784.1 503.9 760.5 504.2 766.1 504.5 776 504.8 787.5 505.1 824 505.5 776.8 505.8 773.7 506.1 768.6 506.4 768.7 506.7 777.6 507.1 789.6 507.4 816.7 507.7 772.9 508 824 508.3 788.4 508.7 766.1 509 788 509.3 783.6 509.6 776.2 509.9 783.4 510.3 774.6 510.6 824 510.9 757.4 511.2 779.1 511.5 786.5 511.9 770.7 512.2 776 512.5 775.5 512.8 764.6 513.1 771.1 513.5 774.9 513.8 778.5 514.1 779.1 514.4 777.2 514.7 763.5 515.1 757.2 515.4 781.7 515.7 772.1 516 762.5 516.3 777 516.7 763.6 517 771.2 517.3 775.7 517.6 785.7 517.9 769.8 518.3 781.8 518.6 769.4 518.9 761.1 519.2 761.7 519.5 767.5 519.9 759.5 520.2 759.2 520.5 770 520.8 760.5 521.1 762.7 521.5 772.8 521.8 760.5 522.1 760.8 522.4 762.5 522.7 763.9 523.1 760.7 523.4 762.1 523.7 758 524 755.5 524.3 752.7 524.7 758.9 525 760.7 525.3 755 525.6 751.7 525.9 760.7 526.3 759.1 526.6 756.6 526.9 754.4 527.2 755.6 527.5 754.2 527.9 757.5 528.2 755.5 528.5 749.9 528.8 748.5 529.1 756.8 529.5 753.5 529.8 754 530.1 747.1 530.4 748.2 530.7 750.7 531.1 751.2 531.4 754.7 531.7 750.2 532 751 532.3 750.7 532.7 748.8 533 750.3 533.3 746.3 533.6 748.7 533.9 745.3 534.3 748.1 534.6 747 534.9 749.9 535.2 744.8 535.5 744.1 535.9 747 536.2 744.9 536.5 746.9 536.8 745.4 537.1 746.7 537.5 746.6 537.8 743.4 538.1 745.7 538.4 743.1 538.7 751.6 539.1 745.9 539.4 745.5 539.7 745.7 540 744.5 540.3 750.8 540.7 746.3 541 748.5 541.3 747.1 541.6 748.6 541.9 744.9 542.3 747.4 542.6 745.2 542.9 745.7 543.2 746.9 543.5 747.3 543.9 745.8 544.2 744.8 544.5 747.7 544.8 750.4 545.1 747.8 545.5 746.8 545.8 746.8 546.1 748.9 546.4 751.1 546.7 749.8 547.1 753.5 547.4 750.8 547.7 755 548 753.9 548.3 752.2 548.7 752.3 549 763.9 549.3 756.8 549.6 755.8 549.9 754.2 550.3 753.7 550.6 761.6 550.9 759.2 551.2 753.1 551.5 755.6 551.9 754.4 552.2 761.2 552.5 762.4 552.8 756.2 553.1 756.4 553.5 758.1 553.8 761.8 554.1 761.6 554.4 761.6 554.7 762.7 555.1 765.7 555.4 761.8 555.7 766 556 764.2 556.3 767 556.7 765.7 557 764 557.3 771.1 557.6 767.7 557.9 769.3 558.3 766 558.6 770.2 558.9 773.1 559.2 768.2 559.5 771.5 559.9 771.2 560.2 770 560.5 765 560.8 772.4 561.1 767 561.5 772 561.8 761.9 562.1 764.3 562.4 824 562.7 764.7 563.1 766.2 563.4 774.8 563.7 762.7 564 768.1 564.3 777.9 564.7 824 565 771.5 565.3 772.5 565.6 778.5 565.9 779 566.3 776.8 566.6 793.4 566.9 773.7 567.2 783.6 567.5 774.5 567.9 779.1 568.2 773.2 568.5 773.1 568.8 789.8 569.1 774.7 569.5 771.5 569.8 774 570.1 777.4 570.4 776.7 570.7 771.2 571.1 769.3 571.4 776.3 571.7 780.7 572 773 572.3 824 572.7 766.9 573 766.8 573.3 766.3 573.6 768.6 573.9 776 574.3 775.9 574.6 806.3 574.9 770.5 575.2 806.5 575.5 773 575.9 765.3 576.2 788.5 576.5 775.1 576.8 808.1 577.1 818.7 577.5 787.7 577.8 784.8 578.1 780.6 578.4 786.8 578.7 787.5 579.1 769 579.4 775.5 579.7 824 580 824 580.3 783.5 580.7 784.7 581 787.7 581.3 776 581.6 780.4 581.9 776.8 582.3 774.6 582.6 808.1 582.9 778.3 583.2 818.4 583.5 788.2 583.9 824 584.2 783.7 584.5 782.4 584.8 811.2 585.1 789.9 585.5 769.7 585.8 791.7 586.1 773.8 586.4 783.1 586.7 824 587.1 824 587.4 772.3 587.7 779.8 588 783.4 588.3 771.1 588.7 769.4 589 776.2 589.3 824 589.6 824 589.9 768.6 590.3 773.7 590.6 783.8 590.9 823 591.2 772.4 591.5 774.3 591.9 766.9 592.2 778.9 592.5 772.2 592.8 786.1 593.1 784.2 593.5 786.4 593.8 768.8 594.1 771.2 594.4 782 594.7 779 595.1 778 595.4 773.3 595.7 771.5 596 761.2 596.3 769.9 596.7 781.2 597 772.7 597.3 799.4 597.6 777 597.9 762.1 598.3 766.9 598.6 769 598.9 776.1 599.2 792.5 599.5 763.1 599.9 824 600.2 769.6 600.5 766 600.8 775.7 601.1 814.6 601.5 760.4 601.8 768.7 602.1 774.8 602.4 765.5 602.7 771.2 603.1 764.7 603.4 762.1 603.7 770.5 604 760.8 604.3 766.3 604.7 766.7 605 766.1 605.3 763.4 605.6 759.6 605.9 760.7 606.3 763.2 606.6 758.9 606.9 762.8 607.2 759.4 607.5 755.9 607.9 771.4 608.2 757.9 608.5 757.2 608.8 754.2 609.1 763.1 609.5 762.6 609.8 761.3 610.1 759.7 610.4 761.4 610.7 760.8 611.1 754.3 611.4 752.4 611.7 759.8 612 755.6 612.3 752.8 612.7 748.9 613 753.1 613.3 750.2 613.6 749.9 613.9 756 614.3 753.4 614.6 756.8 614.9 748.2 615.2 755.2 615.5 748.9 615.9 752.1 616.2 753.6 616.5 751.7 616.8 749.4 617.1 752.8 617.5 745.7 617.8 749.7 618.1 747.4 618.4 747.4 618.7 745.5 619.1 744 619.4 748.6 619.7 744.6 620 749.7 620.3 749.2 620.7 747.3 621 745 621.3 746.9 621.6 748 621.9 743.5 622.3 746.3 622.6 747.1 622.9 739.4 623.2 748 623.5 747.2 623.9 745.2 624.2 743.6 624.5 743.8 624.8 746.3 625.1 749.8 625.5 742.6 625.8 747.1 626.1 744.7 626.4 747.3 626.7 746.6 627.1 745.6 627.4 744.4 627.7 740 628 743.7 628.3 740.4 628.7 740.6 629 743.8 629.3 745 629.6 745.4 629.9 740.5 630.3 741.5 630.6 741.4 630.9 741.6 631.2 744.3 631.5 743.6 631.9 741.9 632.2 740.5 632.5 741.3 632.8 741.6 633.1 743 633.5 741.1 633.8 743.5 634.1 746.6 634.4 743.4 634.7 741.4 635.1 745.8 635.4 745.6 635.7 746.5 636 745.7 636.3 742 636.7 741.6 637 742.5 637.3 743.2 637.6 742.7 637.9 747.8 638.3 745.8 638.6 746.1 638.9 749.1 639.2 746.7 639.5 747.8 639.9 746.7 640.2 748.2 640.5 746.3 640.8 745.2 641.1 747.2 641.5 749.9 641.8 749.3 642.1 746.2 642.4 751.9 642.7 753.3 643.1 750 643.4 756.7 643.7 751.1 644 753.3 644.3 752.7 644.7 758.1 645 754 645.3 758.7 645.6 752.9 645.9 751.8 646.3 760.7 646.6 752.3 646.9 755.5 647.2 749.5 647.5 755 647.9 754.5 648.2 758.2 648.5 754.1 648.8 754.4 649.1 759.5 649.5 775.4 649.8 757.6 650.1 760.9 650.4 770 650.7 766.2 651.1 765 651.4 772.4 651.7 761.9 652 768.1 652.3 763 652.7 768.1 653 771.2 653.3 770 653.6 764.4 653.9 776.4 654.3 778.9 654.6 779.9 654.9 779.7 655.2 793.2 655.5 777.8 655.9 778.1 656.2 786.2 656.5 805.9 656.8 781.9 657.1 787.4 657.5 816.4 657.8 779.2 658.1 793.2 658.4 771.1 658.7 824 659.1 792 659.4 786.7 659.7 783.6 660 769.9 660.3 788.3 660.7 780.3 661 779.8 661.3 792.9 661.6 799.7 661.9 795.3 662.3 765.7 662.6 793.1 662.9 824 663.2 824 663.5 772.9 663.9 802.4 664.2 799 664.5 767.1 664.8 796.9 665.1 816.2 665.5 798.4 665.8 775.7 666.1 821.3 666.4 783 666.7 795.6 667.1 802.5 667.4 778.3 667.7 776.6 668 824 668.3 797.9 668.7 817.1 669 800.8 669.3 824 669.6 818.2 669.9 824 670.3 784.9 670.6 819.9 670.9 774.4 671.2 776.6 671.5 784.7 671.9 774.5 672.2 824 672.5 772.7 672.8 773.3 673.1 790.2 673.5 773.9 673.8 815.2 674.1 816.4 674.4 782.3 674.7 773.5 675.1 788.2 675.4 775.3 675.7 776.5 676 781.7 676.3 766.8 676.7 770.9 677 766.5 677.3 776.5 677.6 788.4 677.9 802.5 678.3 778.6 678.6 779.4 678.9 793.3 679.2 791.5 679.5 777.2 679.9 765.4 680.2 774.7 680.5 775.3 680.8 770.5 681.1 773.6 681.5 780.8 681.8 824 682.1 758.6 682.4 776 682.7 784.6 683.1 783.8 683.4 777.5 683.7 771.3 684 781.9 684.3 765.5 684.7 777.8 685 772.1 685.3 772.3 685.6 777.4 685.9 774.6 686.3 781.5 686.6 795 686.9 775.6 687.2 768.2 687.5 776.1 687.9 768 688.2 771 688.5 776 688.8 773.2 689.1 777.5 689.5 778.7 689.8 769.2 690.1 778.9 690.4 770.5 690.7 770.5 691.1 777.7 691.4 768.9 691.7 769.1 692 766.9 692.3 774.6 692.7 768.5 693 764.4 693.3 763.9 693.6 763.3 693.9 759.7 694.3 770.1 694.6 784.2 694.9 764.5 695.2 769.8 695.5 768.3 695.9 767.1 696.2 762.9 696.5 769.3 696.8 770.7 697.1 764.2 697.5 761.3 697.8 770.1 698.1 770.1 698.4 764.6 698.7 760.3 699.1 762 699.4 761.1 699.7 762.7 700 764.3 700.3 761.2 700.7 759 701 761.6 701.3 761.5 701.6 763.2 701.9 761.4 702.3 761.3 702.6 765.7 702.9 755.6 703.2 758.3 703.5 763.4 703.9 769.1 704.2 762.5 704.5 754.4 704.8 758.1 705.1 753.6 705.5 760.1 705.8 758.1 706.1 769 706.4 757.3 706.7 758.5 707.1 756.2 707.4 759.6 707.7 752.4 708 758.6 708.3 756.4 708.7 758.3 709 753.7 709.3 763.1 709.6 756.1 709.9 756.5 710.3 756 710.6 758.3 710.9 758.5 711.2 753.7 711.5 753 711.9 746.8 712.2 754.2 712.5 751.6 712.8 751.2 713.1 755.4 713.5 754.9 713.8 758 714.1 758.1 714.4 757.2 714.7 755.2 715.1 755.8 715.4 755.2 715.7 753.4 716 752.9 716.3 752 716.7 755.2 717 753.5 717.3 754.3 717.6 749.5 717.9 753.4 718.3 749 718.6 746.3 718.9 750.2 719.2 749.8 719.5 756.5 719.9 749.1 720.2 748.9 720.5 747.7 720.8 748.1 721.1 748.9 721.5 750.8 721.8 748.9 722.1 751.9 722.4 750.4 722.7 753.6 723.1 756.5 723.4 753 723.7 757 724 751.8 724.3 753.1 724.7 758.5 725 756.7 725.3 753 725.6 757.2 725.9 755.6 726.3 760.6 726.6 761.5 726.9 759.3 727.2 763.6 727.5 756.7 727.9 758.8 728.2 756.6 728.5 762.2 728.8 762.9 729.1 759.2 729.5 767.9 729.8 768.3 730.1 762.4 730.4 777.5 730.7 762 731.1 765.6 731.4 760 731.7 764.5 732 764.9 732.3 769.3 732.7 778.4 733 766.8 733.3 767.8 733.6 774.3 733.9 774.3 734.3 769 734.6 772.5 734.9 765.8 735.2 770.9 735.5 768.6 735.9 770.9 736.2 777 736.5 775.6 736.8 772.8 737.1 780.1 737.5 777.6 737.8 769.9 738.1 780.9 738.4 781.6 738.7 772 739.1 773.7 739.4 784 739.7 779.6 740 782.4 740.3 789.4 740.7 785.9 741 785.5 741.3 791.3 741.6 780.1 741.9 792 742.3 815.7 742.6 816 742.9 809.4 743.2 793.9 743.5 779.6 743.9 824 744.2 811.3 744.5 817 744.8 788.7 745.1 823.3 745.5 800.1 745.8 820.7 746.1 795.7 746.4 800.8 746.7 797.9 747.1 786.3 747.4 786.4 747.7 779.4 748 778.1 748.3 817.3 748.7 779.6 749 778.6 749.3 779.2 749.6 767.5 749.9 817.9 750.3 790.5 750.6 819.7 750.9 818.5 751.2 824 751.5 788.6 751.9 783 752.2 781.9 752.5 824 752.8 821.1 753.1 820.2 753.5 778.3 753.8 824 754.1 824 754.4 824 754.7 822.1 755.1 788.7 755.4 824 755.7 806.3 756 804.6 756.3 794.9 756.7 778.9 757 800.9 757.3 823.3 757.6 824 757.9 794.3 758.3 783 758.6 814.6 758.9 791.8 759.2 777.1 759.5 785.1 759.9 822.9 760.2 824 760.5 779.5 760.8 789.3 761.1 810.1 761.5 811.2 761.8 785 762.1 800.1 762.4 779.5 762.7 774.2 763.1 781.2 763.4 785 763.7 785 764 824 764.3 782.2 764.7 789.9 765 828.8 765.3 798.1 765.6 777 765.9 801 766.3 823.2 766.6 824 766.9 822.9 767.2 782.6 767.5 801.4 767.9 824 768.2 781.9 768.5 793.7 768.8 824 769.1 824 769.5 788.5 769.8 823.4 770.1 809.2 770.4 824 770.7 807.6 771.1 824 771.4 796 771.7 775.8 772 839 772.3 803.3 772.7 806.7 773 823.4 773.3 793 773.6 823.5 773.9 824 774.3 801.6 774.6 781.5 774.9 823.7 775.2 790.4 775.5 794.5 775.9 801 776.2 783.5 776.5 812 776.8 810.6 777.1 819.8 777.5 793.1 777.8 797.5 778.1 789.5 778.4 824 778.7 787.5 779.1 824 779.4 787.7 779.7 788.8 780 791.7 780.3 770.9 780.7 790 781 781 781.3 824 781.6 781.6 781.9 786.8 782.3 785.4 782.6 773.2 782.9 765.2 783.2 797.4 783.5 769.3 783.9 779.8 784.2 768.5 784.5 771.3 784.8 797.9 785.1 761.9 785.5 775.3 785.8 766.3 786.1 774.7 786.4 778.4 786.7 771.2 787.1 771.3 787.4 757.4 787.7 770.7 788 798.1 788.3 767.1 788.7 779.6 789 763.8 789.3 780.5 789.6 765.6 789.9 775.8 790.3 764.9 790.6 766.7 790.9 774.5 791.2 820.5 791.5 773 791.9 773.8 792.2 775.3 792.5 768.1 792.8 764.1 793.1 785 793.5 777.3 793.8 770.1 794.1 771.3 794.4 773.3 794.7 798 795.1 815.1 795.4 814.6 795.7 785.8 796 782.2 796.3 782.6 796.7 786.2 797 780.2 797.3 786.4 797.6 773.5 797.9 786.1 798.3 777.9 798.6 785.4 798.9 824 799.2 765.5 799.5 769.7 799.9 824 800.2 767.9 800.5 762.8 800.8 776.5 801.1 767.5 801.5 753.3 801.8 760.6 802.1 758.4 802.4 760.2 802.7 758.9 803.1 772 803.4 814.3 803.7 759.8 804 824 804.3 785.7 804.7 761.4 805 762.9 805.3 760.4 805.6 768.7 805.9 756 806.3 772.2 806.6 774.7 806.9 772.8 807.2 774.3 807.5 776.2 807.9 765.3 808.2 766.2 808.5 775.3 808.8 768.9 809.1 767.2 809.5 780.1 809.8 759.2 810.1 772.1 810.4 794.2 810.7 785.8 811.1 788.9 811.4 824 811.7 801.7 812 776.9 812.3 784.1 812.7 800.6 813 788.3 813.3 796.7 813.6 794.7 813.9 774.8 814.3 785.3 814.6 787.4 814.9 788.8 815.2 814.9 815.5 768.3 815.9 812.9 816.2 774.8 816.5 778 816.8 775.4 817.1 784.9 817.5 776.4 817.8 778.6 818.1 763.7 818.4 781.6 818.7 769.6 819.1 795.5 819.4 778.3 819.7 798.8 820 781 820.3 772 820.7 791.4 821 773.3 821.3 823.5 821.6 787.7 821.9 799.9 822.3 818.1 822.6 824 822.9 779.8 823.2 821.6 823.5 824 823.9 822.6 824.2 785.2" fill="none" stroke="#000" stroke-width="2.3" stroke-linejoin="round"/><path d="M716.5 745V824" stroke="#000" stroke-width="2.2"/><path d="M199 736.8 199.2 737.1 199.4 737.6 199.7 738.2 200.1 739 200.7 739.8 201.4 740.8 202.2 741.9 203.2 743.1 204.2 744.3 205.2 745.5 206.2 746.1 207.3 746.3 208.3 746.6 209.5 747.7 210.9 750 212.6 754.4 214.6 760.6 216.7 767.2 218.6 773.2 220 777.3 220.8 779.2 221.2 779.7 221.4 779.3 221.6 778.5 222.3 777.8 223.4 777.1 224.7 776.1 226.2 774.9 227.7 773.9 229.1 773.3 230.3 773.5 231.4 774.1 232.6 774.9 233.7 775.6 234.8 775.6 235.9 775 236.9 774.1 238 772.9 239.2 771.3 240.5 769.3 241.9 766.5 243.6 763 245.3 759.2 246.9 755.8 248.4 753.4 249.7 752.2 250.9 751.8 252 751.9 253.1 752 254.1 751.7 255 751.2 255.8 750.9 256.5 750.3 257.5 749.3 258.6 747.7 260.2 745.1 262.1 741.5 264 737.7 266 734.2 267.7 731.8 269.3 730.6 270.7 730.2 272 730.3 273.3 730.6 274.5 730.7 275.8 730.6 276.9 730.6 278 730.6 279.1 730.8 280.2 731.2 281.4 731.9 282.5 732.6 283.6 733.6 284.8 734.8 285.9 736.4 287 738.5 288.1 741.3 289.2 744.2 290.4 746.8 291.6 748.9 292.9 750.1 294.4 750.9 295.9 751.3 297.2 751.7 298.4 752.3 299.2 752.8 299.7 753 300.2 753.4 300.8 754.2 301.8 755.7 303.3 758.4 305.2 762 307.2 766 309.1 769.4 310.9 771.6 312.4 772.2 313.7 771.6 315 770.5 316.3 769.4 317.7 768.8 319.2 768.9 320.6 769.6 322.1 770.3 323.8 770.3 325.7 769.3 328 766.6 330.6 762.7 333.4 758.2 336 754.1 338.2 751.1 339.8 749.7 341.1 749.3 342.2 749.2 343.4 748.9 345 747.7 347.1 745.3 349.4 742 351.9 738.4 354.3 735.2 356.4 733 358 731.8 359.4 731.4 360.7 731.5 361.9 731.7 363.2 731.8 364.5 731.8 365.7 731.7 367 731.7 368.4 732.1 370 733 371.9 734.5 374 736.8 376.1 739.2 378.3 741.5 380.2 743.2 381.9 744.1 383.5 744.4 384.9 744.6 386.5 744.8 388.2 745.5 390.1 746.7 392.3 748.3 394.5 750 396.5 751.4 398.4 752.3 399.9 752.4 401.2 752 402.4 751.3 403.7 750.6 405.2 750 407 749.7 408.9 749.5 410.9 749.2 413 748.7 415.1 747.7 417.4 746.1 419.9 743.9 422.4 741.5 424.8 739.2 427 737.5 429 736.4 430.8 735.8 432.6 735.4 434.3 734.9 436.1 734.1 438.1 732.9 440 731.5 442 730 444.1 728.5 446.4 727.3 449 726.1 452 725 455 723.9 457.8 723.2 460 722.7 461.5 722.6 462.4 722.8 463 723.2 463.6 723.9 464.5 725 465.8 726.6 467.1 728.8 468.5 731.2 470 733.5 471.4 735.2 472.7 736.2 473.9 736.5 475.2 736.8 476.6 737.3 478.2 738.6 480 741.2 482.1 744.6 484.2 748.3 486.4 751.4 488.4 753.4 490.3 753.8 492.2 753.2 494 752 495.8 750.8 497.5 750 499.1 750 500.7 750.4 502.2 750.7 503.7 750.7 505.5 750 507.4 748.1 509.5 745.4 511.6 742.4 513.7 739.5 515.7 737.5 517.3 736.6 518.8 736.4 520.2 736.4 521.8 736.2 523.6 735.2 525.9 733.1 528.4 730.2 531.1 727 533.7 724.1 536.1 722.2 538.4 721.2 540.7 720.9 542.8 721 544.7 721.3 546.4 721.6 547.6 721.8 548.4 722 549.1 722.4 549.9 723 550.9 723.9 552.3 725.2 553.8 726.9 555.4 728.8 557.1 730.5 558.9 731.8 560.6 732.5 562.4 732.7 564.2 732.8 566 733.1 568 734.1 569.9 736.1 572 738.9 574.1 741.9 576.2 744.4 578.2 746 580.1 746.3 582 745.8 583.9 744.8 585.6 743.8 587.3 743.2 588.7 743.3 589.9 743.8 591.1 744.3 592.5 744.4 594.1 743.8 596.1 742 598.4 739.4 600.9 736.5 603.3 733.8 605.5 731.8 607.4 730.9 609.2 730.5 610.9 730.5 612.7 730.3 614.5 729.5 616.6 728 618.8 726 621 723.8 623 721.9 624.8 720.5 626.1 719.8 627.2 719.5 628.1 719.5 629.1 719.6 630.1 719.5 631.2 719.2 632.3 718.6 633.5 718.1 634.8 717.9 636.4 718.2 638.3 719.3 640.6 721 643.1 722.9 645.5 724.8 647.7 726.1 649.7 726.8 651.4 726.9 653.1 727 654.9 727.3 656.8 728.4 659 730.7 661.4 733.8 663.8 737.2 666.1 740.2 668.2 742 670 742.5 671.7 742.1 673.2 741.1 674.7 740.2 676.1 739.8 677.5 740.2 678.7 741.1 679.9 742.1 681.2 742.6 683 742 685.2 740.1 687.8 736.9 690.5 733.4 693.2 730.1 695.5 727.8 697.3 726.8 698.7 726.7 700.1 726.8 701.6 726.8 703.4 726.1 705.7 724.5 708.2 722.2 710.9 719.8 713.6 717.5 715.9 715.9 718 715 719.9 714.6 721.7 714.5 723.4 714.6 725 714.8 726.5 715.1 727.9 715.5 729.2 716.1 730.5 717 731.8 718.2 733.2 719.9 734.5 722 735.9 724.3 737.3 726.5 738.6 728.4 739.9 729.7 741.2 730.5 742.5 731.2 743.9 732.3 745.5 734.1 747.3 737.2 749.4 741.2 751.6 745.5 753.7 749.1 755.7 751.1 757.4 751.1 759 749.5 760.5 747.2 762 745.2 763.6 744.3 765.3 745.2 767 747.2 768.7 749.5 770.6 751.1 772.7 751.1 775.3 749.1 778.2 745.4 781.2 741.2 784 737.1 786.4 734.1 788.1 732.5 789.4 731.8 790.5 731.3 791.6 730.8 793.2 729.5 795.2 727.4 797.4 724.5 799.8 721.5 802.2 718.9 804.5 717 806.9 716.1 809.3 715.6 811.7 715.6 813.9 716.1 815.9 717 817.6 718.5 819 720.4 820.2 722.8 821.4 725.5 822.7 728.4 824.1 731.8 825.6 735.9 827 740 828.4 743.8 829.5 746.6 830.6 748.3 831.5 749.1 832.3 749.5 833 749.8 833.6 750.2 833.9 750.4 834 750.1 834.1 750.1 834.4 750.6 835.2 752.3 836.8 755.8 838.9 760.7 841.2 766.1 843.6 771 845.7 774.3 847.5 775.7 849.3 775.8 851 775.3 852.6 774.6 854.3 774.3 856.1 774.8 857.8 775.7 859.5 776.5 861.2 776.8 863 776.1 864.7 773.9 866.3 770.6 868 766.8 869.8 763.2 871.6 760.5 873.6 759 875.6 758.2 877.7 757.7 879.9 756.9 882 755.3 884 752.6 886.1 748.9 888.2 745 890.3 741.6 892.3 739.1 894.4 737.7 896.5 737 898.5 736.8 900.6 737.2 902.7 738.1 904.9 739.7 907.2 742.2 909.4 745.1 911.5 747.9 913.1 750.2 914.2 752 914.9 753.6 915.4 755 915.7 756.2 916 757.1" fill="none" stroke="#f00" stroke-width="2.15" stroke-linejoin="round"/></g>
<text x="235.4" y="511.5" font-size="24.5" textLength="243.1" lengthAdjust="spacingAndGlyphs">Geostationary orbit:</text>
<text x="499.4" y="511.5" font-size="24.5" textLength="115.1" lengthAdjust="spacingAndGlyphs">GOES 14,</text>
<text x="627.2" y="511.5" font-size="24.5" fill="#f00" textLength="73.9" lengthAdjust="spacingAndGlyphs">Model</text>
<clipPath id="kpclip"><rect x="200" y="845" width="714" height="172"/></clipPath>
<g clip-path="url(#kpclip)"><rect x="198.7" y="959.7" width="8.93" height="57.3" fill="#bfbf00"/><rect x="209.9" y="978.8" width="8.93" height="38.2" fill="#008000"/><rect x="221.1" y="1004.2" width="8.93" height="12.8" fill="#008000"/><rect x="232.2" y="991.6" width="8.93" height="25.4" fill="#008000"/><rect x="243.4" y="997.9" width="8.93" height="19.1" fill="#008000"/><rect x="254.5" y="972.5" width="8.93" height="44.5" fill="#008000"/><rect x="265.7" y="985.1" width="8.93" height="31.9" fill="#008000"/><rect x="276.9" y="978.8" width="8.93" height="38.2" fill="#008000"/><rect x="288" y="985.1" width="8.93" height="31.9" fill="#008000"/><rect x="299.2" y="991.6" width="8.93" height="25.4" fill="#008000"/><rect x="310.3" y="997.9" width="8.93" height="19.1" fill="#008000"/><rect x="321.5" y="978.8" width="8.93" height="38.2" fill="#008000"/><rect x="332.7" y="985.1" width="8.93" height="31.9" fill="#008000"/><rect x="343.8" y="985.1" width="8.93" height="31.9" fill="#008000"/><rect x="355" y="997.9" width="8.93" height="19.1" fill="#008000"/><rect x="366.2" y="1004.2" width="8.93" height="12.8" fill="#008000"/><rect x="377.3" y="1010.7" width="8.93" height="6.3" fill="#008000"/><rect x="388.5" y="1010.7" width="8.93" height="6.3" fill="#008000"/><rect x="399.6" y="1004.2" width="8.93" height="12.8" fill="#008000"/><rect x="410.8" y="985.1" width="8.93" height="31.9" fill="#008000"/><rect x="433.1" y="1004.2" width="8.93" height="12.8" fill="#008000"/><rect x="444.3" y="997.9" width="8.93" height="19.1" fill="#008000"/><rect x="455.4" y="966" width="8.93" height="51" fill="#008000"/><rect x="466.6" y="985.1" width="8.93" height="31.9" fill="#008000"/><rect x="477.8" y="997.9" width="8.93" height="19.1" fill="#008000"/><rect x="488.9" y="997.9" width="8.93" height="19.1" fill="#008000"/><rect x="500.1" y="1010.7" width="8.93" height="6.3" fill="#008000"/><rect x="511.2" y="1004.2" width="8.93" height="12.8" fill="#008000"/><rect x="522.4" y="997.9" width="8.93" height="19.1" fill="#008000"/><rect x="533.6" y="1004.2" width="8.93" height="12.8" fill="#008000"/><rect x="544.7" y="997.9" width="8.93" height="19.1" fill="#008000"/><rect x="555.9" y="997.9" width="8.93" height="19.1" fill="#008000"/><rect x="567" y="1004.2" width="8.93" height="12.8" fill="#008000"/><rect x="589.4" y="1010.7" width="8.93" height="6.3" fill="#008000"/><rect x="600.5" y="1010.7" width="8.93" height="6.3" fill="#008000"/><rect x="611.7" y="997.9" width="8.93" height="19.1" fill="#008000"/><rect x="622.8" y="991.6" width="8.93" height="25.4" fill="#008000"/><rect x="634" y="985.1" width="8.93" height="31.9" fill="#008000"/><rect x="645.2" y="1010.7" width="8.93" height="6.3" fill="#008000"/><rect x="656.3" y="1004.2" width="8.93" height="12.8" fill="#008000"/><rect x="689.8" y="1010.7" width="8.93" height="6.3" fill="#008000"/><rect x="701" y="997.9" width="8.93" height="19.1" fill="#008000"/><rect x="712.1" y="985.1" width="8.93" height="31.9" fill="#008000"/><rect x="723.3" y="985.1" width="8.93" height="31.9" fill="#008000"/><rect x="734.5" y="972.5" width="8.93" height="44.5" fill="#008000"/><rect x="745.6" y="972.5" width="8.93" height="44.5" fill="#008000"/><rect x="756.8" y="972.5" width="8.93" height="44.5" fill="#008000"/><rect x="767.9" y="972.5" width="8.93" height="44.5" fill="#008000"/><rect x="779.1" y="966" width="8.93" height="51" fill="#008000"/><rect x="790.3" y="972.5" width="8.93" height="44.5" fill="#008000"/><rect x="801.4" y="978.8" width="8.93" height="38.2" fill="#008000"/><rect x="812.6" y="972.5" width="8.93" height="44.5" fill="#008000"/><rect x="823.7" y="940.6" width="8.93" height="76.4" fill="#bfbf00"/><rect x="834.9" y="940.6" width="8.93" height="76.4" fill="#bfbf00"/><rect x="846.1" y="940.6" width="8.93" height="76.4" fill="#bfbf00"/><rect x="857.2" y="959.7" width="8.93" height="57.3" fill="#bfbf00"/><rect x="868.4" y="959.7" width="8.93" height="57.3" fill="#bfbf00"/><rect x="879.5" y="959.7" width="8.93" height="57.3" fill="#bfbf00"/><rect x="890.7" y="959.7" width="8.93" height="57.3" fill="#bfbf00"/><rect x="901.9" y="959.7" width="8.93" height="57.3" fill="#bfbf00"/></g>
<text x="875.7" y="1000.7" font-size="33" fill="#808080" textLength="130" lengthAdjust="spacingAndGlyphs" transform="rotate(-90 875.7 1000.7)" fill-opacity="0.25">Forecast</text>
<rect x="207.5" y="852.3" width="87.7" height="66.7" rx="2.5" fill="#fff" fill-opacity="0.8" stroke="#ccc" stroke-width="1"/>
<rect x="212.7" y="859" width="28.4" height="10.8" fill="#008000"/>
<text x="251.2" y="869" font-size="14" textLength="38.4" lengthAdjust="spacingAndGlyphs">Kp&lt;3</text>
<rect x="212.7" y="880" width="28.4" height="10.8" fill="#bfbf00"/>
<text x="251.2" y="890" font-size="14" textLength="38.4" lengthAdjust="spacingAndGlyphs">Kp&lt;5</text>
<rect x="212.7" y="901" width="28.4" height="10.8" fill="#ff0000"/>
<text x="251.2" y="911" font-size="14" textLength="38.4" lengthAdjust="spacingAndGlyphs">Kp&gt;5</text>
<clipPath id="bzclip"><rect x="1205" y="110" width="595" height="345"/></clipPath>
<clipPath id="dsclip"><rect x="1205" y="478" width="595" height="344"/></clipPath>
<clipPath id="prclip"><rect x="1205" y="845" width="595" height="172"/></clipPath>
<path d="M1205 282.5H1800M1205 512.5H1800M1205 930.3H1800" stroke="#000" stroke-width="2" stroke-dasharray="2 4"/>
<g clip-path="url(#bzclip)"><path d="M1229.5 241.1 1229.8 239.2 1230.1 238.2 1230.4 225.9 1230.7 246.3 1231 250.5 1231.3 239.1 1231.6 234.8 1231.9 224.4 1232.2 230.6 1232.5 237.2 1232.8 231.1 1233.1 251.2 1233.4 227.3 1233.7 217.4 1234 245.1 1234.3 262.9 1234.6 250.6 1234.9 236.4 1235.2 215.8 1235.5 241.3 1235.8 216.5 1236.1 219.8 1236.4 219.9 1236.7 235 1237 218.9 1237.3 241.4 1237.6 220.7 1237.9 238 1238.2 224.5 1238.5 230.3 1238.8 220.7 1239.1 240.1 1239.4 254.7 1239.7 252.4 1240 254.1 1240.3 226 1240.6 228.5 1240.9 247 1241.2 223.6 1241.5 250.9 1241.8 248.6 1242.1 253.8 1242.4 247.2 1242.7 236.6 1243 224.8 1243.3 227.4 1243.6 251.2 1243.9 266.8 1244.2 259.4 1244.5 227.9 1244.8 262.7 1245.1 258.9 1245.4 245.3 1245.7 256.2 1246 268.9 1246.3 280.7 1246.6 282.1 1246.9 277.1 1247.2 269.7 1247.5 269.3 1247.8 290.9 1248.1 258.8 1248.4 261.9 1248.7 277.1 1249 262.7 1249.3 264.5 1249.6 252.9 1249.9 275.3 1250.2 286.4 1250.5 285.5 1250.8 247.6 1251.1 288.9 1251.4 269.8 1251.7 263.3 1252 277 1252.3 245.4 1252.6 247 1252.9 263.4 1253.2 292.7 1253.5 236.8 1253.8 273.4 1254.1 277.5 1254.4 257 1254.7 246.5 1255 267 1255.3 269.4 1255.6 273.4 1255.9 245 1256.2 275.1 1256.5 253.6 1256.8 269 1257.1 278.6 1257.4 284.9 1257.7 256.9 1258 254.9 1258.3 280.1 1258.6 272 1258.9 282.3 1259.2 250 1259.5 294 1259.8 259.1 1260.1 261.9 1260.4 272.4 1260.7 243.7 1261 283.5 1261.3 281.9 1261.6 265.6 1261.9 276.2 1262.2 289.8 1262.5 266.1 1262.8 272.8 1263.1 269.9 1263.4 284 1263.7 282.9 1264 268.5 1264.3 265 1264.6 286.8 1264.9 277.8 1265.2 272.2 1265.5 258.5 1265.8 253 1266.1 259.7 1266.4 263.3 1266.7 268.8 1267 274.9 1267.3 247.8 1267.6 253.4 1267.9 269.3 1268.2 247.9 1268.5 256.6 1268.8 260.5 1269.1 264 1269.4 273.4 1269.7 249 1270 277.3 1270.3 277.2 1270.6 277.1 1270.9 269.7 1271.2 272.2 1271.5 246.8 1271.8 243.7 1272.1 274.1 1272.4 259.6 1272.7 263.5 1273 249.7 1273.3 257.8 1273.6 252.7 1274.5 257.3 1280 262.7 1280 263.1 1280.3 257.6 1280.6 257.2 1280.9 260.6 1281.2 258.7 1281.5 251.8 1281.8 265.3 1282.1 265.2 1282.4 265.4 1282.7 259.8 1283 258.4 1283.3 255.3 1283.6 267.2 1283.9 261.5 1284.2 264.2 1284.5 252 1284.8 259.4 1285.1 251.1 1285.4 254.4 1285.7 250.3 1286 261.6 1286.3 253.2 1286.6 279 1286.9 265.5 1287.2 276.8 1287.5 263.1 1287.8 278.4 1288.1 255 1288.4 264.6 1288.7 256.5 1289 263.7 1289.3 244.8 1289.6 256.4 1289.9 249.4 1290.2 264.1 1290.9 262 1304.5 262 1305.2 248.8 1305.5 281.6 1305.8 273.4 1306.1 261.4 1306.4 264.2 1306.7 282.6 1307 264.6 1307.3 265.9 1307.6 262.2 1307.9 277.5 1308.2 274 1308.5 278.5 1308.8 268.7 1309.1 285.8 1309.4 281 1309.7 271.2 1310 291 1310.3 282 1310.6 278.9 1310.9 291.6 1311.2 278.6 1311.5 294.3 1311.8 270.6 1312.1 292.4 1312.4 275.7 1312.7 297.8 1313 282.7 1313.3 267.2 1313.6 280.9 1313.9 289.2 1314.2 263.6 1314.5 277.3 1314.8 289.7 1315.1 293.8 1315.4 297.9 1315.7 277.1 1316 269 1316.3 277.5 1316.6 277.1 1316.9 292.1 1317.2 269.8 1317.5 267.7 1317.8 276.4 1318.1 265.8 1318.4 283.8 1318.7 278.8 1319 292.1 1319.3 294.5 1319.6 283.2 1319.9 270.3 1320.2 265.6 1320.5 266.8 1320.8 274.5 1321.1 288.6 1321.4 267.3 1321.7 266.3 1322 295 1322.3 273 1322.6 294 1322.9 276 1323.2 270.3 1323.5 301.8 1323.8 287.3 1324.1 285.9 1324.4 283.9 1324.7 278.5 1325 280.3 1325.3 292.4 1325.6 284.8 1325.9 284.9 1326.2 298 1326.5 296.7 1326.8 286.5 1327.1 292.5 1327.4 279 1327.7 295 1328 283.9 1328.3 279 1328.6 278.7 1328.9 284.5 1329.2 282 1329.5 281.6 1329.8 298.7 1330.1 291.6 1330.4 300.4 1330.7 292.2 1331 303.4 1331.3 307.6 1331.6 285.4 1331.9 299.8 1332.2 284.3 1332.5 289 1332.8 294.1 1333.1 300.8 1333.4 292.8 1333.7 294.3 1334 299.9 1334.3 300.2 1334.6 286.5 1334.9 292.8 1335.2 287.9 1335.5 301.6 1335.8 298.6 1336.1 294 1336.4 299 1336.7 291.7 1337 290.8 1337.3 281.9 1337.6 280 1337.9 296.8 1338.2 279.1 1338.5 288.8 1338.8 290.3 1339.1 284.2 1339.4 295.2 1339.7 292.9 1340 279.1 1340.3 292.8 1340.6 291.5 1340.9 277.7 1341.2 291.1 1341.5 287.4 1341.8 285 1342.1 285.8 1342.4 284.9 1342.7 289.9 1343 277.3 1343.3 280.6 1343.6 283.9 1343.9 282.9 1344.2 286.3 1344.5 276.5 1344.8 276.8 1345.1 277.9 1345.4 279.5 1345.7 279.9 1346 282.2 1346.3 274 1346.6 281.4 1346.9 267.3 1347.2 266.4 1347.5 275.4 1347.8 274.7 1348.1 273.1 1348.4 277.3 1348.7 267.3 1349 269.5 1349.3 273.7 1349.6 275.2 1349.9 267.4 1350.2 275.3 1350.5 262.8 1350.8 269.8 1351.1 269.3 1351.4 264.9 1351.7 274.4 1352 265.3 1352.3 262.7 1352.6 265.5 1352.9 272.4 1353.2 270.6 1353.5 263.2 1353.8 271.1 1354.1 270.2 1354.4 267.6 1355 264.1 1379.5 264.1 1379.8 303.4 1380.1 301.4 1380.4 284.2 1380.7 299.9 1381 288.3 1381.3 290.9 1381.6 300.1 1381.9 296.1 1382.2 283.7 1382.5 295 1382.8 301.4 1383.1 281.2 1383.4 301.4 1383.7 278 1384 300 1384.3 297.3 1384.6 298.6 1384.9 281.1 1385.2 287.6 1385.5 276.4 1385.8 280.7 1386.1 286.2 1386.4 288.2 1386.7 277.6 1387 278.1 1387.3 289.5 1387.6 284.4 1387.9 288.7 1388.2 274.3 1388.5 271.8 1388.8 278.6 1389.1 282.6 1389.4 271.6 1389.7 280.2 1390 270.6 1390.3 276.6 1390.6 272.3 1390.9 273.4 1391.2 275 1391.5 278.5 1391.8 269.9 1392.1 276.9 1392.4 278.6 1392.7 278.8 1393 270.8 1393.3 269.9 1393.6 272.6 1393.9 272.7 1394.2 271 1394.5 271.8 1394.8 267.4 1395.1 270.1 1395.4 266.9 1395.7 263.7 1396 271.4 1396.3 274.5 1396.6 268.9 1396.9 269.8 1397.2 267 1397.5 263.6 1397.8 265.2 1398.1 273.4 1398.4 269.7 1398.7 270.7 1399 263.6 1399.3 266.4 1399.6 262.8 1399.9 267.4 1400.2 265.2 1400.5 275.4 1400.8 272.9 1401.1 277.6 1401.4 281.1 1401.7 279.4 1402 297.6 1402.3 282.8 1402.6 292.8 1402.9 302.9 1403.2 289.5 1403.5 282.9 1403.8 294.1 1404.1 287.3 1404.4 291.1 1404.7 307.2 1405 304.5 1405.3 286.2 1405.6 306.5 1405.9 304.8 1406.2 306.4 1406.5 291.1 1406.8 307.7 1407.1 284.3 1407.4 299.3 1407.7 288.3 1408 305.3 1408.3 286.6 1408.6 304.2 1408.9 290.7 1409.2 297.5 1409.5 292.3 1409.8 284.2 1410.1 286.2 1410.4 299 1410.7 299.8 1411 290.6 1411.3 300.7 1411.6 285.3 1411.9 285.8 1412.2 283.7 1412.5 286.9 1412.8 287.2 1413.1 292.4 1413.4 291.4 1413.7 296 1414 300.6 1414.3 285 1414.6 289.9 1414.9 282.3 1415.2 286.8 1415.5 304.1 1415.8 286.6 1416.1 288.1 1410 295.5 1410.3 291.7 1410.6 291.2 1410.9 295.7 1411.2 298 1411.5 288 1411.8 295.1 1412.1 301.2 1412.4 282.4 1412.7 294.9 1413 300.3 1413.3 287.1 1413.6 288.4 1413.9 289 1414.2 294.2 1414.5 288.5 1414.8 296.1 1415.1 301.4 1415.4 289.6 1415.7 297.4 1416 301.4 1416.3 300.3 1416.6 303 1416.9 301.7 1417.2 291.1 1417.5 294 1417.8 292.6 1418.1 289 1418.4 287.3 1418.7 289.1 1419 293.4 1419.3 293.9 1419.6 299.1 1419.9 296.4 1420.2 300.4 1420.5 289 1420.8 298.2 1421.1 299.1 1421.4 298 1421.7 301 1422 299 1422.3 288.3 1422.6 287.4 1422.9 301 1423.2 292.6 1423.5 302 1423.8 299.4 1424.1 291.1 1424.4 288.8 1424.7 288.5 1425 291.2 1425.3 295.3 1425.6 300.1 1425.9 291.2 1426.2 293.5 1426.5 295.7 1426.8 299.8 1427.1 290 1427.4 292.4 1427.7 294.3 1428 296.4 1428.3 291.8 1428.6 291.5 1428.9 290.6 1429.2 295.6 1429.5 295.3 1429.8 291.6 1430.1 295.5 1430.4 296.8 1453.6 305.7 1453.6 297.8 1453.9 288.5 1454.2 303.3 1454.5 292 1454.8 289.1 1455.1 286.5 1455.4 290.1 1455.7 300.7 1456 294.7 1456.3 285.5 1456.6 296.2 1456.9 281.1 1457.2 286.1 1457.5 294.5 1457.8 294 1458.1 283.6 1458.4 289.7 1458.7 299.5 1459 294.5 1459.3 294.1 1459.6 301.8 1459.9 278 1460.2 300.1 1460.5 280.4 1460.8 288.2 1461.1 293.6 1461.4 277.7 1461.7 276 1462 285.9 1462.3 288.5 1462.6 279.1 1462.9 280.2 1463.2 275.4 1463.5 291.7 1463.8 271 1464.1 279.4 1464.4 277.1 1464.7 286.6 1465 291.6 1465.3 280.7 1465.6 273.5 1465.9 293.5 1466.2 293.9 1466.5 289.9 1466.8 292.8 1467.1 274.9 1467.4 283.9 1467.7 283.1 1468 289.2 1468.3 293.7 1468.6 292.1 1468.9 293.1 1469.2 281.3 1469.5 279.5 1469.8 276.9 1470.1 276.8 1470.4 273.5 1470.7 277.9 1471 281.1 1471.3 288.5 1471.6 289.3 1471.9 274.6 1472.2 275.3 1472.5 285.1 1472.8 299.2 1473.1 290.3 1473.4 288 1473.7 291.6 1474 279.1 1474.3 285.9 1474.6 276.8 1474.9 300.2 1475.2 280.1 1475.5 274.4 1475.8 279.8 1476.1 270.2 1476.4 284.8 1476.7 273.2 1477 281.7 1477.3 289.4 1477.6 272.5 1477.9 272.7 1478.2 289.3 1478.5 269 1478.8 293.2 1479.1 273 1479.4 280.6 1479.7 290.1 1480 289.9 1480.3 275.5 1480.6 291.6 1480.9 281.3 1481.2 288.6 1481.5 264.3 1481.8 284 1482.1 264.3 1482.4 290.3 1482.7 282 1483 294.1 1483.3 279.3 1483.6 271.8 1483.9 278.2 1484.2 270.3 1484.5 270 1484.8 282.8 1485.1 263.7 1485.4 280.2 1485.7 266.7 1486 253.2 1486.3 279.4 1486.6 290 1486.9 284.7 1487.2 264.5 1487.5 266.2 1487.8 286.8 1488.1 267 1488.4 301.5 1488.7 275.2 1489 287.1 1489.3 301 1489.6 287.1 1489.9 277.6 1490.2 275.4 1490.5 301.2 1490.8 282.4 1491.1 275.4 1491.4 287.5 1491.7 282.1 1492 289.8 1492.3 275 1492.6 274.2 1492.9 264.8 1493.2 274 1493.5 279.4 1493.8 275.2 1494.1 261 1494.4 275.7 1495.9 268.2 1528.6 299.5 1528.6 280.5 1528.9 282 1529.2 285.2 1529.5 297 1529.8 296.2 1530.1 292 1530.4 289.8 1530.7 294.1 1531 292.9 1531.3 291 1531.6 295.3 1531.9 295.3 1532.2 291.8 1532.5 276.1 1532.8 291.9 1533.1 281.8 1533.4 280.3 1533.7 280 1534 282.3 1534.3 275.7 1534.6 281.5 1534.9 291.4 1535.2 275.3 1535.5 282.8 1535.8 278.8 1536.1 281.1 1536.4 275.1 1536.7 278 1537 279.2 1537.3 280 1537.6 284.1 1537.9 282.4 1538.2 285.3 1538.5 272.1 1538.8 277.3 1539.1 278.7 1539.4 286.3 1539.7 273.3 1540 272.9 1540.3 276.7 1540.6 280.3 1540.9 269.6 1541.2 270.3 1541.5 276.2 1541.8 278.2 1542.1 275 1542.4 273.8 1542.7 272.7 1543 272.9 1543.3 266 1543.6 276.7 1543.9 278.4 1544.2 273.6 1544.5 277 1544.8 284.4 1545.1 284.6 1545.4 278.4 1545.7 288.3 1546 280.2 1546.3 291.4 1546.6 281.5 1546.9 284.3 1547.2 295.1 1547.5 293.4 1547.8 291.9 1548.1 291.2 1548.4 281.1 1548.7 288.1 1549 287.1 1549.3 286.1 1549.6 294 1549.9 293.1 1550.2 285.3 1550.5 287.1 1550.8 283.3 1551.1 284.4 1551.4 287.7 1551.7 290.9 1552 288.7 1552.3 291.9 1552.6 286.5 1552.9 282.7 1553.2 284.4 1553.5 291.4 1553.8 288.5 1554.1 289.5 1554.4 292.3 1554.7 286.6 1555 280.9 1555.3 292 1555.6 289.3 1555.9 292.8 1556.2 281.4 1556.5 283.2 1556.8 280.5 1557.1 286.5 1557.4 290.4 1557.7 284.7 1558 285.5 1558.3 281.7 1558.6 289.9 1558.9 281.4 1559.2 276.4 1559.5 285.7 1559.8 284.6 1560.1 279.7 1560.4 274.8 1560.7 277.2 1561 277.3 1561.3 281.3 1561.6 281.3 1561.9 280.7 1562.2 278.1 1562.5 276.2 1562.8 285.9 1563.1 283.9 1563.4 285.2 1563.7 281.4 1564 283.3 1564.3 288.5 1564.6 285.9 1564.9 289 1565.2 281.6 1565.5 287.8 1565.8 284.5 1566.1 280 1566.4 286.5 1566.7 282.3 1567 277.2 1567.3 286.5 1567.6 284.6 1567.9 276.3 1568.2 277.3 1568.5 287.1 1568.8 285.3 1569.1 286.9 1569.4 282.2 1569.7 279.1 1570 276.3 1570.3 277.4 1570.6 275.9 1570.9 287.9 1571.2 285.8 1571.5 274.3 1571.8 284.6 1572.1 276.7 1572.4 278.4 1572.7 274.6 1573 286.9 1573.3 271.1 1573.6 272.2 1573.9 270.7 1574.2 282.9 1574.5 278.4 1574.8 274.1 1575.1 272.3 1575.4 273.3 1575.7 273.1 1576 278.6 1576.3 277.1 1576.6 279.2 1576.9 274 1577.2 270.1 1577.5 273.2 1578.3 275.3 1602.8 265.5 1603.6 268.8 1603.9 258 1604.2 268.7 1604.5 269 1604.8 272.3 1605.1 265.4 1605.4 264.9 1605.7 259 1606 261.4 1606.3 269.5 1606.6 278.7 1606.9 261.9 1607.2 278.1 1607.5 280.8 1607.8 283.1 1608.1 266.6 1608.4 278.4 1608.7 274.5 1609 276.1 1609.3 270.5 1609.6 274.2 1609.9 276.3 1610.2 269.6 1610.5 286.3 1610.8 267 1611.1 276.6 1611.4 289.6 1611.7 279.7 1612 275.7 1612.3 272 1612.6 285.4 1612.9 269.5 1613.2 273.5 1613.5 269.5 1613.8 270.7 1614.1 261 1614.4 281.9 1614.7 285 1615 262.1 1615.3 258.2 1615.6 278.2 1615.9 281.8 1616.2 258.7 1616.5 279 1616.8 260.4 1617.1 273.3 1617.4 281.2 1617.7 256.6 1618 283.2 1618.3 256.5 1618.6 258.7 1618.9 283.7 1619.2 249.5 1619.5 270.7 1619.8 278.2 1620.1 249.2 1620.4 278 1620.7 260.3 1621 258.6 1621.3 287.3 1621.6 259.8 1621.9 289.5 1622.2 284.2 1622.5 263.7 1622.8 289.7 1623.1 274.2 1623.4 271.2 1623.7 263.2 1624 277.5 1624.3 282.2 1624.6 255.7 1624.9 291.7 1625.2 282.3 1625.5 268.7 1625.8 284.6 1626.1 285.6 1626.4 242.7 1626.7 285.7 1627 274.9 1627.3 243.3 1627.6 265.1 1627.9 270.5 1628.2 241.2 1628.5 249.9 1628.8 244.1 1629.1 264.7 1629.4 258.7 1629.7 304 1630 276.2 1630.3 288.9 1630.6 299.3 1630.9 280 1631.2 293.3 1631.5 296 1631.8 307.5 1632.1 296.9 1632.4 283.9 1632.7 293.9 1633 301.1 1633.3 291.2 1633.6 305.5 1633.9 283 1634.2 299.7 1634.5 291.7 1634.8 308.5 1635.1 296.1 1635.4 315.9 1635.7 307.6 1636 292.8 1636.3 318.8 1636.6 315.9 1636.9 308.9 1637.2 297.1 1637.5 316.8 1637.8 309.6 1638.1 313.4 1638.4 315.4 1638.7 295.6 1639 311.7 1639.3 303.7 1639.6 296.9 1639.9 305 1640.2 296.8 1640.5 305.1 1640.8 310.2 1641.1 298.5 1641.4 298.1 1641.7 306.6 1642 305.8 1642.3 304.9 1642.6 292.3 1642.9 289.3 1643.2 273.4 1643.5 294.6 1643.8 286.8 1644.1 270.3 1644.4 274.6 1644.7 265.5 1645 254 1645.3 288.9 1645.6 267.6 1645.9 273.9 1646.2 261.3 1646.5 272 1646.8 289.6 1647.1 263.2 1647.4 272.5 1647.7 263.6 1648 292.4 1648.3 258.4 1648.6 260.1 1648.9 267.8 1649.2 299.6 1649.5 277.6 1649.8 260.4 1650.1 264.3 1650.4 284.8 1650.7 257.4 1651 296.7 1651.3 281 1651.6 276.5 1651.9 308.8 1652.2 315.4 1652.5 324.5 1652.7 330.9 1677.3 262.2 1678.1 236.1 1678.4 228.8 1678.7 228 1679 245.6 1679.3 236.7 1679.6 246 1679.9 240.4 1680.2 271.4 1680.5 290.3 1680.8 300.4 1681.1 308.2 1681.4 347.6 1681.7 332.9 1682 347 1682.3 334.7 1682.6 332.2 1682.9 324.7 1683.2 342.3 1683.5 309.6 1683.8 330.6 1684.1 302.5 1684.4 299.4 1684.7 330.7 1685 330.7 1685.3 306.6 1685.6 279.9 1685.9 327.7 1686.2 299.5 1686.5 272.1 1686.8 284.4 1687.1 271.4 1687.4 259.8 1687.7 284.4 1688 289.2 1688.3 291.8 1688.6 319.2 1688.9 254.4 1689.2 278.8 1689.5 290.2 1689.8 325 1690.1 270.7 1690.4 285.7 1690.7 253.8 1691 264.1 1691.3 270.1 1691.6 305.8 1691.9 321 1692.2 267.7 1692.5 320.4 1692.8 266.6 1693.1 277.3 1693.4 321.8 1693.7 325.8 1694 339.9 1694.3 266.3 1694.6 267.8 1694.9 285.9 1695.2 275.4 1695.5 311.6 1695.8 316.2 1696.1 253.5 1696.4 248.2 1696.7 326.5 1697 312.5 1697.3 296.6 1697.6 300.2 1697.9 317.2 1698.2 272.1 1698.5 244.1 1698.8 264.1 1699.1 285.8 1699.4 302.4 1699.7 238.5 1700 283.6 1700.3 246.7 1700.6 261.1 1700.9 236.4 1701.2 282.5 1701.5 257.4 1701.8 272.4 1702.1 284.5 1702.4 286.1 1702.7 314 1703 297.1 1703.3 276.9 1703.5 290 1717.4 245.8 1718.2 238.4 1718.5 237.9 1718.8 247.9 1719.1 244.2 1719.4 253.4 1719.7 266.6 1720 322.8 1720.3 301.7 1720.6 302.3 1720.9 308.3 1721.2 285.2 1721.5 250.6 1721.8 271.9 1722.1 312.7 1722.4 267.9 1722.7 305 1723 312.4 1723.3 286.3 1723.6 321.6 1723.9 309.8 1724.2 316.3 1724.5 290.7 1724.8 298.9 1725.1 270.6 1725.4 250.3 1725.7 282 1726 233.9 1726.3 261.8" fill="none" stroke="#000" stroke-width="2.2" stroke-linejoin="round"/><path d="M1286.8 265.4 1286.8 315.9" fill="none" stroke="#000" stroke-width="2" stroke-linejoin="round"/><path d="M1251.4 281.8 1251.6 347.2" fill="none" stroke="#000" stroke-width="2" stroke-linejoin="round"/><path d="M1258.2 281.8 1258.2 343.1" fill="none" stroke="#000" stroke-width="2" stroke-linejoin="round"/><path d="M1233.6 240.9 1233.6 281.8" fill="none" stroke="#000" stroke-width="2" stroke-linejoin="round"/><path d="M1229.5 318.2 1229.8 311.5 1230.1 316 1230.4 308.5 1230.7 309.5 1231 311.5 1231.3 319.3 1231.6 309.3 1231.9 310.5 1232.2 310.9 1232.5 321.4 1232.8 313.2 1233.1 308.5 1233.4 318.8 1233.7 321 1234 316.8 1234.3 314.9 1234.6 320.9 1234.9 312.9 1235.2 321.8 1235.5 308.4 1235.8 314.8 1236.1 318.5 1236.4 315.9 1236.7 310 1237 313 1237.3 309.3 1237.6 319.3 1237.9 318 1238.2 314.7 1238.5 317.7 1238.8 314.6 1239.1 311.8 1239.4 320.8 1239.7 310.7 1240 315.6 1240.3 309.7 1240.6 311.1 1240.9 309.7 1241.2 282.7 1241.5 302.9 1241.8 293.2 1242.1 290.5 1242.4 301.6 1242.7 306.5 1243 298.3 1243.3 288.2 1243.6 305.6 1243.9 283.3 1244.2 284.2 1244.5 283.8 1244.8 292.7 1245.1 283.7 1245.4 293.4 1245.7 302 1246 279.9 1246.3 298.3 1246.6 285.3 1246.9 279.2 1247.2 300.9 1247.5 291.6 1247.8 292 1248.1 301.9 1248.4 290.7 1248.7 297.2 1249 283.9 1249.3 276.8 1249.6 295.1 1249.9 276.1 1250.2 288.8 1250.5 280.9 1250.8 281.3 1251.1 294.2 1251.4 284.8 1251.7 299.9 1252 287.6 1252.3 295.7 1252.6 293.2 1252.9 293.8 1253.2 286.7 1253.5 302.1 1253.8 283.9 1254.1 279.2 1254.4 282.3 1254.7 286.7 1255 293.6 1255.3 291.5 1255.6 298.4 1255.9 295.2 1256.2 279.7 1256.5 283.5 1256.8 284.8 1257.1 278.1 1257.4 278.1 1257.7 291.7 1258 273.9 1258.3 286.5 1258.6 272.9 1258.9 278.8 1259.2 281 1259.5 291.4 1259.8 277 1260.1 278 1260.4 293.4 1260.7 285.3 1261 289.3 1261.3 274.9 1261.6 286.2 1261.9 281.1 1262.2 280.1 1262.5 276.5 1262.8 287.4 1263.1 276 1263.4 286.7 1263.7 276.5 1264 281.6 1264.3 283.6 1264.6 279.1 1264.9 283.6 1265.2 285.7 1265.5 287.1 1265.8 285 1266.1 288 1266.4 289 1266.7 288.9 1267 280.9 1267.3 286 1267.6 287.7 1267.9 279.1 1268.2 286.1 1268.5 281.3 1268.8 279 1269.1 281.4 1269.4 281.6 1269.7 283.9 1270 286.5 1270.3 282.1 1270.6 280.9 1270.9 284.7 1271.2 280.9 1271.5 279.2 1271.8 276.7 1272.1 284.9 1272.4 287 1273.2 283.2 1280 290 1280 293.7 1280.3 290.7 1280.6 287.2 1280.9 287.8 1281.2 286.5 1281.5 289.8 1281.8 286.3 1282.1 291 1282.4 289.1 1282.7 290.6 1283 286.8 1283.3 290.8 1283.6 287.8 1283.9 292.6 1284.2 286.8 1284.5 290.4 1284.8 288.8 1285.1 291.9 1285.4 286.6 1285.7 292.4 1286 293.2 1286.3 287.7 1286.6 289.4 1286.9 291.7 1287.2 293.9 1287.5 292.7 1287.8 290.1 1288.1 290.5 1288.4 294.5 1288.7 291 1289 293.2 1289.3 293.9 1289.6 293.7 1289.9 292.4 1290.2 293.6 1290.5 289.3 1290.9 291.3 1304.5 290 1305.9 306.2 1306.2 304.3 1306.5 305.7 1306.8 291.8 1307.1 298.1 1307.4 301.1 1307.7 286.1 1308 284.3 1308.3 284.6 1308.6 287 1308.9 284 1309.2 285.6 1309.5 286 1309.8 292.2 1310.1 294.2 1310.4 283.1 1310.7 282.6 1311 298.6 1311.3 288.1 1311.6 284 1311.9 299.4 1312.2 288.2 1312.5 293.3 1312.8 299.9 1313.1 291.8 1313.4 301.6 1313.7 309.3 1314 295.3 1314.3 299.7 1314.6 284.9 1314.9 287 1315.2 285.3 1315.5 306.4 1315.8 300.9 1316.1 310 1316.4 293.9 1316.7 299.1 1317 297.7 1317.3 288.9 1317.6 294 1317.9 293.1 1318.2 294.3 1318.5 307.2 1318.8 308.2 1319.1 321.1 1319.4 295.9 1319.7 298.9 1320 294.1 1320.3 307.5 1320.6 287.9 1320.9 301 1321.2 308.1 1321.5 309.2 1321.8 312.3 1322.1 308.2 1322.4 308 1322.7 303.2 1323 287.2 1323.3 287.3 1323.6 290 1323.9 292.7 1324.2 296.2 1324.5 310.1 1324.8 300.1 1325.1 298.6 1325.4 301 1325.7 291 1326 290.8 1326.3 307.6 1326.6 297.2 1326.9 305.6 1327.2 288.6 1327.5 302.1 1327.8 303.5 1328.1 289.8 1328.4 296.9 1328.7 290.4 1329 301 1329.3 289.2 1329.6 293.5 1329.9 302.6 1330.2 297.5 1330.5 296 1330.8 290 1331.1 296.3 1331.4 298.3 1331.7 303.6 1332 296.7 1332.3 298 1332.6 302.2 1332.9 295.4 1333.2 300.6 1333.5 296.6 1333.8 292.8 1334.1 293.1 1334.4 302.5 1334.7 289.9 1335 291.6 1335.3 297.8 1335.6 290.2 1335.9 303.4 1336.2 300 1336.5 299.1 1336.8 305.9 1337.1 304.2 1337.4 295.6 1337.7 298.8 1338 307.6 1338.3 304 1338.6 304.8 1338.9 308.9 1339.2 308.9 1339.5 304.5 1339.8 310.1 1340.1 305.6 1340.4 301.5 1340.7 310.3 1341 305.2 1341.3 304 1341.6 303.9 1341.9 304.6 1342.2 309.9 1342.5 302.3 1342.8 311.2 1343.1 310.9 1343.4 303.7 1343.7 307.7 1344 312.2 1344.3 307.5 1344.6 306.4 1344.9 306.3 1345.2 308.6 1345.5 310.5 1345.8 306 1346.1 310.5 1346.4 312.5 1346.7 307.5 1347 307.6 1347.3 312.1 1347.6 310.8 1347.9 307.6 1348.2 308.5 1348.5 306.6 1348.8 308.3 1349.1 307.6 1349.4 311.8 1349.7 311 1350 308.6 1350.3 309.5 1350.6 314.1 1350.9 310.6 1351.2 308.8 1351.5 309.9 1351.8 307.5 1352.1 312.6 1352.4 312.5 1352.7 310.1 1353 313 1353.3 313.4 1353.6 316.4 1353.9 310.8 1354.2 313.8 1355 309.7 1379.5 305.7 1380.9 315.9 1381.2 307.6 1381.5 311.6 1381.8 318.4 1382.1 318.3 1382.4 317.2 1382.7 315.4 1383 319.2 1383.3 314.7 1383.6 316.3 1383.9 312.5 1384.2 319.5 1384.5 310.7 1384.8 320.7 1385.1 309.8 1385.4 316.5 1385.7 315 1386 314.2 1386.3 314.2 1386.6 312.4 1386.9 311.8 1387.2 314.6 1387.5 317.1 1387.8 316.2 1388.1 321.5 1388.4 318.2 1388.7 312.6 1389 316.3 1389.3 319.1 1389.6 313.4 1389.9 321.8 1390.2 316 1390.5 318.1 1390.8 324.4 1391.1 317.5 1391.4 323 1391.7 323.4 1392 318 1392.3 319.5 1392.6 323.1 1392.9 325.1 1393.2 316.8 1393.5 316.5 1393.8 316.8 1394.1 324.2 1394.4 322.3 1394.7 324.6 1395 324 1395.3 324.5 1395.6 321 1395.9 321.7 1396.2 317.5 1396.5 322.8 1396.8 320.8 1397.1 321.8 1397.4 323.4 1397.7 325.3 1398 322.4 1398.3 324.2 1398.6 323.2 1398.9 319.7 1399.2 319.5 1399.5 323.8 1399.8 319 1400.1 325.6 1400.4 319.7 1400.7 320.3 1401 323.8 1401.3 317.2 1401.6 323.6 1401.9 323.3 1402.2 321.8 1402.5 319.4 1402.8 322.7 1403.1 318.9 1403.4 322.4 1403.7 319.1 1404 318.6 1404.3 324.1 1404.6 318.3 1404.9 319.2 1405.2 319.5 1405.5 323.1 1405.8 322.6 1406.1 321.4 1406.4 319.6 1406.7 321 1407 321 1407.3 322.6 1407.6 320.3 1407.9 318 1408.2 323.7 1408.5 319.7 1408.8 320.7 1409.1 318.4 1409.4 321.8 1409.7 322.6 1410 323 1410.3 325.3 1410.6 324.6 1410.9 322 1411.2 322.6 1411.5 320 1411.8 322.5 1412.1 321.2 1412.4 318.5 1412.7 326 1413 322.5 1413.3 319.4 1413.6 320.2 1413.9 322.4 1414.2 325.9 1414.5 324.6 1414.8 326.5 1415.1 323 1415.4 327 1415.7 323.4 1416 326.5 1416.3 322.5 1416.6 321.3 1416.9 325 1417.2 323.3 1417.5 319.9 1417.8 325.4 1418.1 325 1418.4 325.7 1418.7 324.1 1419 325.8 1419.3 325 1419.6 325.1 1419.9 325.3 1414.1 321.3 1414.4 321.1 1414.7 321.5 1415 321.1 1415.3 321.4 1415.6 322 1415.9 324.8 1416.2 323.6 1416.5 323.5 1416.8 323.7 1417.1 322.4 1417.4 320.4 1417.7 321.7 1418 324.3 1418.3 321.5 1418.6 323.9 1418.9 324.5 1419.2 322.9 1419.5 325.5 1419.8 324.9 1420.1 325.6 1420.4 324.1 1420.7 324.9 1421 323.2 1421.3 322.1 1421.6 324.4 1421.9 321.2 1422.2 323.5 1422.5 323 1422.8 325 1423.1 326.2 1423.4 327.2 1423.7 325.2 1424 326.6 1424.3 326.5 1424.6 324.9 1424.9 325.9 1425.2 327.3 1425.5 325.4 1425.8 327.3 1426.1 324 1426.4 326.8 1426.7 326.9 1427 324.1 1427.3 326 1427.6 326.5 1427.9 325.3 1428.2 328.4 1428.5 328.3 1428.8 325.4 1429.1 325.6 1429.4 326.6 1429.7 327.8 1430 326.3 1430.4 326.8 1453.6 332.2 1456.4 327.9 1456.7 327.6 1457 331.1 1457.3 334 1457.6 326.9 1457.9 331.4 1458.2 332.3 1458.5 327.3 1458.8 333.3 1459.1 332.7 1459.4 331.5 1459.7 334.9 1460 329.9 1460.3 331.5 1460.6 332.5 1460.9 332.7 1461.2 333.2 1461.5 336.9 1461.8 337 1462.1 335.2 1462.4 336.5 1462.7 331.9 1463 333.6 1463.3 334.5 1463.6 333.8 1463.9 336.4 1464.2 336.8 1464.5 333.9 1464.8 333.9 1465.1 333.4 1465.4 336.7 1465.7 331.8 1466 338.5 1466.3 333.3 1466.6 332.8 1466.9 334 1467.2 333.7 1467.5 335.9 1467.8 339.2 1468.1 336.1 1468.4 334.3 1468.7 338.2 1469 337.4 1469.3 339.2 1469.6 334.6 1469.9 338.5 1470.2 339.5 1470.5 335.9 1470.8 335.2 1471.1 334.7 1471.4 335.6 1471.7 334.6 1472 338.4 1472.3 338.6 1472.6 333.2 1472.9 337.3 1473.2 338.1 1473.5 337.3 1473.8 334.9 1474.1 335.8 1474.4 332.7 1474.7 335.4 1475 329.9 1475.3 338.6 1475.6 332.7 1475.9 331.9 1476.2 333.4 1476.5 331.9 1476.8 331.3 1477.1 327.5 1477.4 330.6 1477.7 329.5 1478 326.2 1478.3 328.7 1478.6 327.9 1478.9 330 1479.2 328.2 1479.5 325.9 1479.8 328.8 1480.1 329.8 1480.4 331.2 1480.7 326.2 1481 329 1481.3 330.7 1481.6 329 1481.9 327.2 1482.2 330.9 1482.5 327.1 1482.8 330.5 1483.1 331.7 1483.4 328.3 1483.7 327.9 1484 329.7 1484.3 328.9 1484.6 328.3 1484.9 330.3 1485.2 330.1 1485.5 329.8 1485.8 326.5 1486.1 326.7 1486.4 327.6 1486.7 331.3 1487 325.9 1487.3 325.9 1487.6 326.8 1487.9 326.6 1488.2 328.6 1488.5 327.8 1488.8 332.4 1489.1 331.1 1489.4 332.4 1489.7 329.3 1490 330.9 1490.3 330.1 1490.6 330.4 1490.9 332.2 1491.2 329.3 1491.5 329.7 1491.8 327.1 1492.1 327.8 1492.4 334.4 1492.7 327.9 1493 331.1 1493.3 331.1 1493.6 331.6 1493.9 329.2 1494.2 329.6 1494.5 338.2 1494.8 332 1495.1 335.8 1495.4 333.3 1495.9 334.3 1528.6 342.5 1530 339.4 1530.3 342.4 1530.6 342.2 1530.9 346.2 1531.2 337.5 1531.5 337.4 1531.8 345.1 1532.1 338.2 1532.4 338.9 1532.7 338 1533 339 1533.3 339.3 1533.6 343 1533.9 343.3 1534.2 340.3 1534.5 342.1 1534.8 345.4 1535.1 339.4 1535.4 339.1 1535.7 340.3 1536 346.1 1536.3 342.7 1536.6 343.9 1536.9 340.7 1537.2 340.6 1537.5 343.8 1537.8 340.2 1538.1 339 1538.4 346.4 1538.7 346.2 1539 339.5 1539.3 341.5 1539.6 346.3 1539.9 343.6 1540.2 342.3 1540.5 346.4 1540.8 345.5 1541.1 344.8 1541.4 341.5 1541.7 341.2 1542 338.7 1542.3 340.6 1542.6 343.5 1542.9 345.5 1543.2 347.2 1543.5 341.5 1543.8 342.2 1544.1 344.1 1544.4 345.1 1544.7 344.1 1545 341.3 1545.3 343.4 1545.6 344.4 1545.9 342.4 1546.2 343.4 1546.5 343.2 1546.8 343.1 1547.1 344.4 1547.4 344.6 1547.7 343 1548 347.3 1548.3 343.9 1548.6 343.9 1548.9 346.4 1549.2 342.3 1549.5 344.8 1549.8 342.1 1550.1 344.2 1550.4 346.2 1550.7 342.9 1551 346.6 1551.3 345.7 1551.6 342.7 1551.9 343 1552.2 344.3 1552.5 346.4 1552.8 343.5 1553.1 345.2 1553.4 346.1 1553.7 347.1 1554 346.7 1554.3 347.7 1554.6 343.6 1554.9 347.7 1555.2 345.3 1555.5 344 1555.8 344.9 1556.1 347.7 1556.4 346.3 1556.7 345.6 1557 344.7 1557.3 344.5 1557.6 344.7 1557.9 346.2 1558.2 346.9 1558.5 343.8 1558.8 344.1 1559.1 344.1 1559.4 347.3 1559.7 348.6 1560 348 1560.3 346.1 1560.6 347.9 1560.9 345 1561.2 348.6 1561.5 346.4 1561.8 344.7 1562.1 344.6 1562.4 345.4 1562.7 344.9 1563 345.6 1563.3 345.5 1563.6 348.7 1563.9 346.9 1564.2 346.9 1564.5 346.1 1564.8 348.3 1565.1 345.9 1565.4 349.6 1565.7 346 1566 349.2 1566.3 349 1566.6 348.1 1566.9 347.3 1567.2 344.9 1567.5 348.1 1567.8 347.9 1568.1 349.1 1568.4 347 1568.7 347.3 1569 346.5 1569.3 347.7 1569.6 348.3 1569.9 348.5 1570.2 347 1570.5 347.4 1570.8 347.1 1571.1 349.1 1571.4 347.8 1571.7 350.2 1572 347.8 1572.3 349.6 1572.6 348.5 1572.9 350.2 1573.2 350.6 1573.5 348.5 1573.8 348.3 1574.1 349.9 1574.4 349.8 1574.7 350.4 1575 348 1575.3 348.5 1575.6 350.7 1575.9 348.5 1576.2 350.9 1576.5 348.5 1576.8 349.7 1577.1 350.7 1577.4 348.8 1578.3 349.8 1602.8 349.8 1603.6 348.1 1603.9 351.2 1604.2 347.1 1604.5 347.5 1604.8 348.2 1605.1 343.2 1605.4 347.5 1605.7 351.6 1606 345.1 1606.3 347.3 1606.6 345.8 1606.9 349.9 1607.2 350.1 1607.5 344 1607.8 345.5 1608.1 350.4 1608.4 351.9 1608.7 342.3 1609 343.8 1609.3 341.3 1609.6 342.6 1609.9 345.9 1610.2 351.3 1610.5 340.8 1610.8 343.7 1611.1 344.1 1611.4 351 1611.7 345.8 1612 345.1 1612.3 346 1612.6 347.4 1612.9 350 1613.2 348.3 1613.5 343.5 1613.8 341.3 1614.1 348.8 1614.4 345.9 1614.7 343.3 1615 343 1615.3 349.6 1615.6 348.6 1615.9 348.8 1616.2 345.8 1616.5 339 1616.8 345.5 1617.1 348.2 1617.4 347.8 1617.7 343.5 1618 341.6 1618.3 348 1618.6 337.5 1618.9 342.9 1619.2 337.3 1619.5 346.8 1619.8 346.6 1620.1 338.1 1620.4 341.4 1620.7 345.4 1621 343.1 1621.3 345.9 1621.6 341.5 1621.9 338 1622.2 338.4 1622.5 346.9 1622.8 339.7 1623.1 337.1 1623.4 338.4 1623.7 344.7 1624 338.2 1624.3 338.5 1624.6 337.2 1624.9 337.9 1625.2 336.6 1625.5 339.3 1625.8 337.9 1626.1 341.7 1626.4 336.5 1626.7 342.7 1627 346.8 1627.3 345.3 1627.6 338.8 1627.9 335.5 1628.2 345.4 1628.5 346.9 1628.8 341.1 1629.1 337.7 1629.4 338.6 1629.7 346.4 1630 343.1 1630.3 335.4 1630.6 340.4 1630.9 338.6 1631.2 343.3 1631.5 335.1 1631.8 341.7 1632.1 343.6 1632.4 341.7 1632.7 339.5 1633 332.5 1633.3 344.1 1633.6 334.8 1633.9 334.5 1634.2 340.1 1634.5 338.7 1634.8 341.9 1635.1 341.1 1635.4 336.4 1635.7 336.2 1636 331.7 1636.3 339 1636.6 343.8 1636.9 334.2 1637.2 344.2 1637.5 345.2 1637.8 342 1638.1 335.3 1638.4 344.1 1638.7 333.2 1639 340.9 1639.3 333.8 1639.6 340.5 1639.9 341.9 1640.2 337.2 1640.5 336.9 1640.8 342.6 1641.1 340.9 1641.4 348.8 1641.7 350.4 1642 347.3 1642.3 337.9 1642.6 351.4 1642.9 345.6 1643.2 342.3 1643.5 338.7 1643.8 347.2 1644.1 351.4 1644.4 341.1 1644.7 348.7 1645 341.5 1645.3 344.7 1645.6 338.8 1645.9 345.2 1646.2 342.9 1646.5 341.4 1646.8 342.3 1647.1 337.6 1647.4 352.4 1647.7 344 1648 328.8 1648.3 341.5 1648.6 346 1648.9 346.7 1649.2 351.8 1649.5 341.1 1649.8 339.5 1650.1 336.1 1650.4 341.2 1650.7 344.1 1651 336 1651.3 336.2 1651.6 334.8 1651.9 344.8 1652.2 342.8 1652.5 341.8 1653.6 338.3 1677.3 340.8 1678.9 341.5 1679.2 338.6 1679.5 335 1679.8 331.8 1680.1 333.7 1680.4 330.1 1680.7 330.8 1681 336.5 1681.3 334.6 1681.6 325.6 1681.9 338.7 1682.2 329.1 1682.5 329.5 1682.8 337.4 1683.1 329 1683.4 336.7 1683.7 321.9 1684 321.5 1684.3 327.2 1684.6 319.7 1684.9 317.9 1685.2 328.2 1685.5 316.9 1685.8 315.3 1686.1 336.5 1686.4 318.1 1686.7 323.7 1687 315.4 1687.3 313 1687.6 322.3 1687.9 319.9 1688.2 317.2 1688.5 312.6 1688.8 313.3 1689.1 307.3 1689.4 311.5 1689.7 312.1 1690 315.3 1690.3 313.6 1690.6 310.8 1690.9 313.1 1691.2 309.3 1691.5 301.8 1691.8 307.8 1692.1 306.9 1692.4 315.9 1692.7 311.7 1693 304.6 1693.3 306.4 1693.6 309.3 1693.9 311.4 1694.2 306.1 1694.5 312.8 1694.8 310.8 1695.1 297.9 1695.4 310.4 1695.7 299.3 1696 306.8 1696.3 300 1696.6 294.2 1696.9 296.4 1697.2 305.7 1697.5 296.6 1697.8 297.3 1698.1 299.6 1698.4 296.7 1698.7 300.4 1699 305 1699.3 299.1 1699.6 295.6 1699.9 302.3 1701 301.5 1718.2 291.7 1718.2 291.1 1718.5 292.9 1718.8 287.7 1719.1 288.7 1719.4 294.2 1719.7 290.4 1720 289.1 1720.3 288.7 1720.6 289.5 1720.9 285.7 1721.2 284.2 1721.5 284.6 1721.8 285.1 1722.1 288.5 1722.4 283.8 1722.7 288 1723 285 1723.3 288.8 1723.6 285.6 1723.9 283.6 1724.2 282.4 1724.5 286.1 1724.8 284.7 1725.1 280.2 1725.4 284.2 1725.7 278.5 1726 278.2 1726.3 283.9" fill="none" stroke="#f00" stroke-width="2.2" stroke-linejoin="round"/><path d="M1243.9 272.3 1243.9 295.4" fill="none" stroke="#f00" stroke-width="2" stroke-linejoin="round"/><path d="M1267.7 281.8 1268 315.9" fill="none" stroke="#f00" stroke-width="2" stroke-linejoin="round"/></g>
<g clip-path="url(#dsclip)"><path d="M1205 529 1205.2 526.7 1210.5 519.2 1214.2 517.7 1219.5 520 1226.2 518.5 1233 511 1238.2 511.7 1242 516.7 1246.5 517.3 1250.2 516.7 1254 518.8 1257 517.9 1263 519.7 1269 515.8 1272 517.3 1276.5 517 1281.7 518 1284.7 514 1290 514 1294.5 513.5 1299 514.7 1305 512.5 1309.5 514 1313.2 519.2 1317 519.2 1321.5 517 1330.5 514.3 1334.2 516.7 1337.2 516.2 1341 517.4 1346.2 516.7 1353 511 1359 508.7 1362.7 512.2 1368 514.7 1374 514.3 1377 513.7 1383 514.3 1390.5 518 1396.5 516.2 1401 514 1405.5 514.7 1410 517.4 1420.5 518.5 1428 514.7 1434 507.2 1441.5 511.3 1447.5 512.5 1458 513.2 1464 517.7 1470 514.7 1476 511 1480.5 508 1485 509.5 1490.2 509.8 1495.5 515.8 1502.4 511.8 1507.6 504.2 1521.4 511.8 1535.2 511.1 1549.1 513.5 1562.9 504.9 1583.6 500.7 1594 503.2 1611.2 513.5 1625 505.6 1635.4 508.3 1645.7 517 1656.1 504.9 1669.9 508.3 1676.8 513.5 1687.2 518.7 1694.1 511.8 1704.4 508.3 1711.4 500.7 1721.7 511.1" fill="none" stroke="#000" stroke-width="2.2" stroke-linejoin="round"/><path d="M1229.5 612.6 1229.8 614.8 1230.1 651.7 1230.4 646.7 1230.7 632.9 1231 587.2 1231.3 625.4 1231.6 619.5 1231.9 640.8 1232.2 629.5 1232.5 671.2 1232.8 663.9 1233.1 657 1233.4 644.6 1233.7 621.7 1234 641.1 1234.3 664.7 1234.6 621.4 1234.9 637.2 1235.2 610.9 1235.5 644.3 1235.8 657.6 1236.1 611.8 1236.4 629.6 1236.7 608.5 1237 611.7 1237.3 650.8 1237.6 636.8 1237.9 627.8 1238.2 607 1238.5 651 1238.8 656.8 1239.1 672.8 1239.4 631.1 1239.7 608.7 1240 611.8 1240.3 620.3 1240.6 619.6 1240.9 643.2 1241.2 643.5 1241.5 656.4 1241.8 617.9 1242.1 671.7 1242.4 624.2 1242.7 639.4 1243 632.5 1243.3 649.1 1243.6 663.5 1243.9 654.6 1244.2 628.4 1244.5 641.3 1244.8 628.9 1245.1 661 1245.4 623.1 1245.7 651.2 1246 641.3 1246.3 653 1246.6 732.4 1246.9 681.8 1247.2 673.6 1247.5 679.8 1247.8 630.6 1248.1 648.2 1248.4 671.5 1248.7 650.1 1249 668.2 1249.3 686.5 1249.6 636.5 1249.9 656.6 1250.2 640.6 1250.5 703.5 1250.8 654.8 1251.1 669.6 1251.4 633.1 1251.7 663.8 1252 693.3 1252.3 656.8 1252.6 689.7 1252.9 693.7 1253.2 660.2 1253.5 689.7 1253.8 665 1254.1 685.8 1254.4 698.8 1254.7 690.5 1255 675 1255.3 646 1255.6 659 1255.9 656.7 1256.2 680.4 1256.5 649 1256.8 647.5 1257.1 687 1257.4 664.8 1257.7 687.5 1258 657.5 1258.3 638 1258.6 689.7 1258.9 642.6 1259.2 691.8 1259.5 674.7 1259.8 670.2 1260.1 670.5 1260.4 654.2 1260.7 647.4 1261 672.2 1261.3 648.3 1261.6 667 1261.9 661.9 1262.2 693.5 1262.5 682.7 1262.8 692.8 1263.1 685.8 1263.4 692.2 1263.7 692.2 1264 645.1 1264.3 689.2 1264.6 639 1264.9 636.8 1265.2 639.5 1265.5 645.5 1265.8 642.7 1266.1 676.5 1266.4 649.8 1266.7 686.9 1267 674.7 1267.3 730.7 1267.6 644.1 1267.9 642.8 1268.2 661.9 1268.5 659.3 1268.8 666.2 1269.1 681.3 1269.4 656.1 1269.7 680.7 1270 654.3 1270.3 660.5 1270.6 664.5 1270.9 660.2 1271.2 645.7 1271.5 676.9 1273.2 647.3 1280 650 1280 666.6 1280.3 666.7 1280.6 648.7 1280.9 662.2 1281.2 659.8 1281.5 654.2 1281.8 643.8 1282.1 659.9 1282.4 666.5 1282.7 644.3 1283 650 1283.3 647 1283.6 693.3 1283.9 648.3 1284.2 675.2 1284.5 644.4 1284.8 651.3 1285.1 646 1285.4 657.2 1285.7 660.3 1286 640.4 1286.3 669.6 1286.6 639.3 1286.9 651.7 1287.2 646.1 1287.5 641.2 1287.8 670.4 1288.1 660.9 1288.4 681 1288.7 656 1289 643.4 1289.3 665.5 1289.6 671.7 1289.9 659.2 1290.2 678.5 1290.9 673.2 1305.9 678.6 1307.3 708 1307.6 678.5 1307.9 709.7 1308.2 679.9 1308.5 701.6 1308.8 639.1 1309.1 703.6 1309.4 678.5 1309.7 659.7 1310 663.5 1310.3 691.8 1310.6 690.8 1310.9 674.6 1311.2 693 1311.5 716.7 1311.8 667.3 1312.1 691.9 1312.4 699.6 1312.7 650.1 1313 675.2 1313.3 771.9 1313.6 713 1313.9 688.1 1314.2 695.6 1314.5 671.6 1314.8 719.3 1315.1 665.6 1315.4 689.6 1315.7 660.1 1316 667.2 1316.3 686.5 1316.6 689.9 1316.9 681 1317.2 690.4 1317.5 675.1 1317.8 696.6 1318.1 671.2 1318.4 716.6 1318.7 717.2 1319 690.4 1319.3 698.1 1319.6 711.3 1319.9 690 1320.2 742.6 1320.5 699.3 1320.8 687.6 1321.1 667.4 1321.4 674 1321.7 697.1 1322 721 1322.3 668.4 1322.6 694.2 1322.9 694.7 1323.2 672.5 1323.5 711.4 1323.8 684.5 1324.1 686.8 1324.4 671.3 1324.7 666.5 1325 668.9 1325.3 670.5 1325.6 674.2 1325.9 675.8 1326.2 689.7 1326.5 671.7 1326.8 699.7 1327.1 675.8 1327.4 671.1 1327.7 670.9 1328 690.4 1328.3 664 1328.6 706.7 1328.9 706.7 1329.2 676.5 1329.5 674.6 1329.8 669.8 1330.1 678.9 1330.4 674 1330.7 687.6 1331 697.3 1331.3 702 1331.6 674.3 1331.9 699.5 1332.2 705.6 1332.5 697.3 1332.8 673.2 1333.1 683.2 1333.4 682.1 1333.7 726.2 1334 698.7 1334.3 683.6 1334.6 668.4 1334.9 680.3 1335.2 687 1335.5 685.4 1335.8 698.3 1336.1 699.5 1336.4 696.5 1336.7 701.4 1337 706.2 1337.3 715.3 1337.6 715.8 1337.9 685.9 1338.2 697.2 1338.5 709.7 1338.8 706.8 1339.1 705 1339.4 705.9 1339.7 684.3 1340 689 1340.3 693 1340.6 702.7 1340.9 699.2 1341.2 687.8 1341.5 685.8 1341.8 695.3 1342.1 674.4 1342.4 703.2 1342.7 703.8 1343 688.5 1343.3 671.2 1343.6 707.2 1343.9 675 1344.2 678.6 1344.5 705.2 1344.8 702 1345.1 673.8 1345.4 692.1 1345.7 664.7 1346 691.7 1346.3 713.8 1346.6 671.9 1346.9 688.4 1347.2 685 1347.5 689.7 1347.8 688.7 1348.1 680.7 1348.4 684.9 1348.7 675.7 1349 673.9 1349.3 671.7 1349.6 673.8 1349.9 696.5 1350.2 675.4 1350.5 688.8 1350.8 698.3 1351.1 660.8 1351.4 687.9 1351.7 691.2 1352 695.7 1352.3 678.8 1352.6 681.3 1352.9 687.6 1353.2 693 1353.5 693.5 1353.8 680.3 1354.1 678.9 1354.4 687.5 1354.7 677.5 1355 685.9 1356.4 685.4 1378.2 756.3 1379.5 686.2 1379.8 737.9 1380.1 707.3 1380.4 726 1380.7 704.7 1381 742.8 1381.3 687.7 1381.6 704.3 1381.9 719.1 1382.2 685.4 1382.5 643 1382.8 755.8 1383.1 728.3 1383.4 726.4 1383.7 738.9 1384 725.5 1384.3 718.1 1384.6 678.2 1384.9 679.4 1385.2 710.9 1385.5 709.5 1385.8 699.1 1386.1 708.5 1386.4 685.5 1386.7 688.7 1387 704 1387.3 690.4 1387.6 741.2 1387.9 720 1388.2 735.3 1388.5 740.6 1388.8 698.4 1389.1 715.3 1389.4 724.5 1389.7 733.7 1390 734.9 1390.3 710.1 1390.6 724.5 1390.9 722.7 1391.2 686.1 1391.5 720.6 1391.8 697.5 1392.1 743.6 1392.4 705.8 1392.7 725.9 1393 695 1393.3 688.7 1393.6 726.4 1393.9 718.5 1394.2 699.9 1394.5 732.4 1394.8 735.9 1395.1 718.2 1395.4 697.6 1395.7 703.1 1396 725.3 1396.3 717.8 1396.6 695.3 1396.9 724 1397.2 718.9 1397.5 702.8 1397.8 723.5 1398.1 707.3 1398.4 741.6 1398.7 728 1399 737.4 1399.3 718.1 1399.6 722.7 1399.9 717.4 1400.2 710.1 1400.5 704.9 1400.8 748.9 1401.1 693.6 1401.4 700.1 1401.7 744.4 1402 691.5 1402.3 693.4 1402.6 708.8 1402.9 735.3 1403.2 699.8 1403.5 706.4 1403.8 739.8 1404.1 749.9 1404.4 746.2 1404.7 752.8 1405 740.1 1405.3 748.9 1405.6 758.4 1405.9 748.3 1406.2 701.2 1406.5 745.3 1406.8 734.1 1407.1 732.1 1407.4 730.6 1407.7 709.3 1408 707.6 1408.3 752 1408.6 705.5 1408.9 748.7 1409.2 724.3 1409.5 717.5 1409.8 740.7 1410.1 762.6 1410.4 703.2 1410.7 750.9 1411 746.2 1411.3 732.8 1411.6 759.4 1411.9 742.3 1412.2 720.2 1412.5 743.8 1412.8 720.5 1413.1 690.9 1413.4 731.7 1413.7 749.3 1414 702.5 1414.3 719 1414.6 719 1414.9 717.3 1415.2 700.6 1415.5 702.4 1415.8 736.6 1416.1 726.3 1416.4 741.1 1416.7 720 1417 732.8 1417.3 717.6 1417.6 715.5 1417.9 723.3 1418.2 726.4 1418.5 750.8 1418.8 705.5 1419.1 732.4 1419.4 702.3 1419.7 722.4 1410 730.8 1410.3 744.5 1410.6 712.3 1410.9 720.4 1411.2 757.3 1411.5 734.7 1411.8 786.7 1412.1 752.6 1412.4 722.6 1412.7 746.6 1413 714.2 1413.3 720.4 1413.6 719.8 1413.9 714.8 1414.2 709 1414.5 737.7 1414.8 735.8 1415.1 731 1415.4 723 1415.7 744.4 1416 716.1 1416.3 721 1416.6 701.5 1416.9 728.4 1417.2 707 1417.5 765.1 1417.8 704.8 1418.1 696.2 1418.4 695.6 1418.7 697.8 1419 705.9 1419.3 704.9 1419.6 711.9 1419.9 722 1420.2 702.7 1420.5 723.1 1420.8 693.2 1421.1 705 1421.4 708.5 1421.7 711.9 1422 689.2 1422.3 721.6 1422.6 712.1 1422.9 706.1 1423.2 695.3 1423.5 700.1 1423.8 706.9 1424.1 722.2 1424.4 717.1 1424.7 693.4 1425 686.5 1425.3 701.9 1425.6 706.8 1425.9 683.4 1426.2 722.4 1426.5 684.9 1426.8 713.8 1427.1 713.6 1427.4 714.4 1427.7 696.1 1428 718.9 1428.3 698.3 1428.6 720.9 1428.9 725.2 1429.2 695.3 1429.5 700.2 1429.8 723.4 1430.1 714.4 1430.4 723 1431.3 715.4 1453.6 742.7 1455 747.3 1455.3 750 1455.6 723.7 1455.9 710.8 1456.2 734.5 1456.5 747.3 1456.8 714.2 1457.1 729.1 1457.4 714.4 1457.7 724.1 1458 717.2 1458.3 742.3 1458.6 746.3 1458.9 715.1 1459.2 734.8 1459.5 717.8 1459.8 717.4 1460.1 727.1 1460.4 733.6 1460.7 718 1461 728.1 1461.3 719.1 1461.6 715.3 1461.9 746.7 1462.2 723.3 1462.5 740.3 1462.8 743 1463.1 742.9 1463.4 730.5 1463.7 724.1 1464 746.9 1464.3 742.9 1464.6 726.4 1464.9 730.3 1465.2 742.1 1465.5 729.4 1465.8 716.1 1466.1 716.6 1466.4 719 1466.7 771.3 1467 719.9 1467.3 735.4 1467.6 730.7 1467.9 769.2 1468.2 721.4 1468.5 730.8 1468.8 740.3 1469.1 738.6 1469.4 737.4 1469.7 722.7 1470 692.4 1470.3 734.2 1470.6 721.9 1470.9 717.1 1471.2 713.5 1471.5 713.3 1471.8 712 1472.1 708.7 1472.4 721.5 1472.7 711.7 1473 719.2 1473.3 722.2 1473.6 720.6 1473.9 723.9 1474.2 718.5 1474.5 756.4 1474.8 713.8 1475.1 716.1 1475.4 715.7 1475.7 707.7 1476 723.8 1476.3 718.9 1476.6 723.6 1476.9 701.1 1477.2 704.3 1477.5 720.7 1477.8 705.4 1478.1 710.8 1478.4 708.6 1478.7 706.7 1479 695.7 1479.3 688.8 1479.6 692.6 1479.9 704.1 1480.2 693.8 1480.5 706 1480.8 711.7 1481.1 701.8 1481.4 690.9 1481.7 705.3 1482 678.7 1482.3 676.1 1482.6 673.8 1482.9 672.6 1483.2 687.6 1483.5 701.7 1483.8 688 1484.1 688.3 1484.4 673.2 1484.7 679.8 1485 682.7 1485.3 692.1 1485.6 695.2 1485.9 700.4 1486.2 708 1486.5 707.6 1486.8 675.8 1487.1 686.6 1487.4 683 1487.7 686.5 1488 664.9 1488.3 706.8 1488.6 680.1 1488.9 706.1 1489.2 694 1489.5 677.8 1489.8 681.7 1490.1 694.8 1490.4 713.9 1490.7 706.1 1491 695.6 1491.3 665.6 1491.6 666.6 1491.9 682.7 1492.2 685.1 1492.5 675.8 1492.8 689.5 1493.1 702.4 1493.4 686.8 1493.7 706 1494 661.6 1494.3 702.2 1495.9 688.2 1527.3 761.8 1528.6 698.4 1528.9 751.4 1529.2 702.8 1529.5 709.5 1529.8 704.6 1530.1 706.2 1530.4 691.1 1530.7 717.7 1531 719.6 1531.3 756.1 1531.6 748.2 1531.9 723 1532.2 742.7 1532.5 748.9 1532.8 713.9 1533.1 696.8 1533.4 717.3 1533.7 707.2 1534 734 1534.3 700 1534.6 739.2 1534.9 755.1 1535.2 689.4 1535.5 701 1535.8 710.5 1536.1 755.6 1536.4 701.4 1536.7 725.5 1537 695.8 1537.3 685.3 1537.6 724.1 1537.9 679.3 1538.2 718.1 1538.5 680 1538.8 721.1 1539.1 688.9 1539.4 752.1 1539.7 715.8 1540 745.5 1540.3 726 1540.6 721.7 1540.9 681.3 1541.2 746.2 1541.5 702.1 1541.8 750.1 1542.1 685.8 1542.4 691 1542.7 700.4 1543 695.5 1543.3 695.4 1543.6 728.8 1543.9 691.2 1544.2 721.9 1544.5 684 1544.8 739.1 1545.1 690.9 1545.4 682.1 1545.7 705.2 1546 687.8 1546.3 702.6 1546.6 719.9 1546.9 699.7 1547.2 691.3 1547.5 701.9 1547.8 732.4 1548.1 710.1 1548.4 730.1 1548.7 732.2 1549 691.8 1549.3 699.8 1549.6 723.8 1549.9 734.2 1550.2 720 1550.5 734.4 1550.8 721.4 1551.1 707.3 1551.4 733.4 1551.7 710.4 1552 681.4 1552.3 709 1552.6 708.6 1552.9 688.9 1553.2 699.4 1553.5 694.5 1553.8 701.4 1554.1 682.3 1554.4 731 1554.7 701 1555 721.8 1555.3 670.5 1555.6 738.2 1555.9 690.2 1556.2 717.2 1556.5 717.8 1556.8 733 1557.1 705.3 1557.4 722.6 1557.7 720.6 1558 682.4 1558.3 731.9 1558.6 716.6 1558.9 701 1559.2 731.9 1559.5 699.1 1559.8 733.8 1560.1 696.7 1560.4 741 1560.7 693.3 1561 739.6 1561.3 734.9 1561.6 699.6 1561.9 706.8 1562.2 710.8 1562.5 695 1562.8 737.8 1563.1 725.3 1563.4 721.9 1563.7 742.8 1564 708.2 1564.3 731.9 1564.6 721 1564.9 708 1565.2 740.7 1565.5 732.2 1565.8 696.9 1566.1 708.9 1566.4 709.3 1566.7 714.3 1567 713.8 1567.3 739.7 1567.6 765.3 1567.9 726.8 1568.2 703.9 1568.5 735.9 1568.8 719.8 1569.1 735 1569.4 705.2 1569.7 704.6 1570 697.4 1570.3 704.4 1570.6 707.1 1570.9 731.5 1571.2 713 1571.5 719.7 1571.8 735.7 1572.1 727.4 1572.4 742.3 1572.7 730.6 1573 722.8 1573.3 719.7 1573.6 726.7 1573.9 726 1574.2 706.3 1574.5 718.6 1574.8 725.3 1575.1 708.7 1575.4 698 1575.7 719.2 1576 729.9 1576.3 706.3 1576.6 738.8 1576.9 718.6 1577.2 700.3 1577.5 704.3 1577.7 716.8 1602.3 716.8 1603.6 728.5 1603.9 759.9 1604.2 724.5 1604.5 717.7 1604.8 715.9 1605.1 736.1 1605.4 701.9 1605.7 733.5 1606 717 1606.3 707.5 1606.6 698.2 1606.9 724.5 1607.2 744.8 1607.5 750.2 1607.8 733.1 1608.1 749.2 1608.4 750.5 1608.7 707.6 1609 743.1 1609.3 759.1 1609.6 703.5 1602.7 724 1603 775.4 1603.3 742.8 1603.6 696.9 1603.9 704.8 1604.2 696 1604.5 763.5 1604.8 750.7 1605.1 695.4 1605.4 718 1605.7 741.4 1606 754.9 1606.3 697.5 1606.6 723 1606.9 731.8 1607.2 724.4 1607.5 725.9 1607.8 759 1608.1 755 1608.4 711.7 1608.7 736.5 1609 699.7 1609.3 721 1609.6 718.8 1609.9 735 1610.2 654 1610.5 740.8 1610.8 701.4 1611.1 741.7 1611.4 753 1611.7 725.5 1612 724.2 1612.3 759.9 1612.6 755 1612.9 716.7 1613.2 756.8 1613.5 737.3 1613.8 747.7 1614.1 732.7 1614.4 746.7 1614.7 682.9 1615 723.2 1615.3 734.5 1615.6 680.6 1615.9 709.8 1616.2 703.2 1616.5 697.7 1616.8 706.8 1617.1 694.2 1617.4 705.9 1617.7 703.3 1618 708.2 1618.3 728.3 1618.6 708 1618.9 708.8 1619.2 699.5 1619.5 722.3 1619.8 670.2 1620.1 667.5 1620.4 691.2 1620.7 680.9 1621 721.4 1621.3 680.6 1621.6 709 1621.9 722 1622.2 723.3 1622.5 678.9 1622.8 726.6 1623.1 728.4 1623.4 710.7 1623.7 721.2 1624 667.2 1624.3 711.9 1624.6 688.4 1624.9 684.5 1625.2 702.1 1625.5 720.7 1625.8 719.5 1626.1 710.3 1626.4 680 1626.7 694.2 1627 690.5 1627.3 727.2 1627.6 734.6 1627.9 714.9 1628.2 738.3 1628.5 684.1 1628.8 680.9 1629.1 707.9 1629.4 675.9 1629.7 676.7 1630 702.9 1630.3 711.6 1630.6 720.6 1630.9 731.3 1631.2 732.7 1631.5 709.3 1631.8 740 1632.1 693.3 1632.4 721.9 1632.7 693 1633 703.2 1633.3 710 1633.6 700.4 1633.9 728.2 1634.2 714.3 1634.5 700.4 1634.8 710.4 1635.1 751.2 1635.4 673.8 1635.7 747.3 1636 716.4 1636.3 752.5 1636.6 731.7 1636.9 731.4 1637.2 750.9 1637.5 734.6 1637.8 733.7 1638.1 755.5 1638.4 721.5 1638.7 693.7 1639 739.5 1639.3 709.5 1639.6 750.5 1639.9 721.3 1640.2 722.4 1640.5 755.6 1640.8 723.6 1641.1 700.7 1641.4 711.1 1641.7 743.9 1642 749.9 1642.3 725.6 1642.6 738.7 1642.9 750.3 1643.2 710.3 1643.5 705.3 1643.8 718.8 1644.1 723.6 1644.4 730.8 1644.7 694.8 1645 698.2 1645.3 725.1 1645.6 729 1645.9 698 1646.2 738.9 1646.5 710.6 1646.8 780.8 1647.1 716.2 1647.4 748 1647.7 706.2 1648 741.1 1648.3 741.8 1648.6 691.4 1648.9 742.9 1649.2 729.3 1649.5 741.1 1649.8 747 1650.1 694.3 1650.4 716.2 1650.7 740 1651 732.9 1651.3 702.6 1651.6 700.6 1651.9 737.9 1652.2 726.9 1652.5 736.8 1652.8 709.7 1653.1 731.6 1654 711.3 1676.4 726.3 1677.7 714.6 1678 718.9 1678.3 776.7 1678.6 714.6 1678.9 748.4 1679.2 716.3 1679.5 679.8 1679.8 723.7 1680.1 695.7 1680.4 680.8 1680.7 705.4 1681 722.9 1681.3 739.3 1681.6 733.5 1681.9 695.1 1682.2 712.7 1682.5 671.2 1682.8 688.5 1683.1 715.5 1683.4 702.6 1683.7 709.6 1684 709.8 1684.3 683.5 1684.6 721.1 1684.9 660.8 1685.2 692.9 1685.5 701.4 1685.8 644.6 1686.1 708.6 1686.4 646.3 1686.7 636.6 1687 648.6 1687.3 623 1687.6 610.9 1687.9 636.1 1688.2 635.5 1688.5 599.9 1688.8 617.2 1689.1 612.9 1689.4 602.4 1689.7 612.1 1690 631.2 1690.3 658.1 1690.6 632.4 1690.9 620.2 1691.2 629.8 1691.5 610.4 1691.8 652.3 1692.1 648.8 1692.4 650.8 1692.7 618.6 1693 604.8 1693.3 629 1693.6 642.1 1693.9 616.5 1694.2 618.6 1694.5 644.8 1694.8 635.9 1695.1 636.1 1695.4 653.4 1695.7 652.9 1696 652 1696.3 608.3 1696.6 640.9 1696.9 645.5 1697.2 616.3 1697.5 642.7 1697.8 624.4 1698.1 633.8 1698.4 603.2 1698.7 629.7 1699 614.3 1699.3 622.2 1699.6 622.4 1699.9 624.4 1700.2 638.1 1700.5 625.4 1700.8 627.4 1701.4 615.9 1717.3 624.1 1718.6 637.7 1718.9 644.8 1719.2 656.2 1719.5 651.6 1719.8 652.1 1720.1 630.8 1720.4 638.3 1720.7 638.8 1721 655.9 1721.3 630.1 1721.6 631.1 1721.9 645.1 1722.2 641.1 1722.5 646.6 1722.8 667.3 1723.1 626.8 1723.4 677.2 1723.7 658.9 1724 643.2 1724.3 624.2 1724.6 622.7 1724.9 621 1725.2 654.5 1725.5 652.7 1725.8 643.7 1726.1 634.6" fill="none" stroke="#f00" stroke-width="2.4" stroke-linejoin="round"/><path d="M1242.4 624.2 1242.4 587.3" fill="none" stroke="#f00" stroke-width="2.4" stroke-linejoin="round"/><path d="M1268.5 659.3 1268.5 830" fill="none" stroke="#f00" stroke-width="2.4" stroke-linejoin="round"/><path d="M1286.8 651.7 1286.8 729.1" fill="none" stroke="#f00" stroke-width="2.4" stroke-linejoin="round"/><path d="M1311.4 716.7 1311.4 794.5" fill="none" stroke="#f00" stroke-width="2.4" stroke-linejoin="round"/><path d="M1322.3 668.4 1322.3 789.1" fill="none" stroke="#f00" stroke-width="2.4" stroke-linejoin="round"/><path d="M1400.5 704.9 1400.5 538.2" fill="none" stroke="#f00" stroke-width="2.4" stroke-linejoin="round"/><path d="M1413.6 719.8 1413.6 783.6" fill="none" stroke="#f00" stroke-width="2.4" stroke-linejoin="round"/><path d="M1412.7 746.6 1412.7 783.6" fill="none" stroke="#f00" stroke-width="2.4" stroke-linejoin="round"/><path d="M1475.4 715.7 1475.4 569.5" fill="none" stroke="#f00" stroke-width="2.4" stroke-linejoin="round"/><path d="M1528.6 698.4 1528.6 670.4" fill="none" stroke="#f00" stroke-width="2.4" stroke-linejoin="round"/><path d="M1540.9 681.3 1540.9 789.1" fill="none" stroke="#f00" stroke-width="2.4" stroke-linejoin="round"/><path d="M1681.3 739.3 1681.3 816.3" fill="none" stroke="#f00" stroke-width="2.4" stroke-linejoin="round"/><path d="M1609.5 703.5 1609.5 789.1" fill="none" stroke="#f00" stroke-width="2.4" stroke-linejoin="round"/></g>
<g clip-path="url(#prclip)"><path d="M1205.5 993.4 1205.8 1006.6 1206.1 1002.3 1206.4 996.3 1206.7 1000.5 1207 1002.6 1207.3 998.7 1207.6 992.3 1207.9 993 1208.2 1002.2 1208.5 1004.8 1208.8 1005.7 1209.1 993.3 1209.4 1003.9 1209.7 1002.1 1210 1006.4 1210.3 1008.1 1210.6 994.2 1210.9 1000.3 1211.2 1005.4 1211.5 994.3 1211.8 1001.1 1212.1 1001 1212.4 995.7 1212.7 989.9 1213 1001.8 1213.3 1002.1 1213.6 1005 1213.9 986.6 1214.2 988.6 1214.5 1003.9 1214.8 1002.5 1215.1 1000.2 1215.4 1004.3 1215.7 1001.9 1216 995.6 1216.3 1007.1 1216.6 996.3 1216.9 1001.6 1217.2 997 1217.5 994.3 1217.8 1002.1 1218.1 1006 1218.4 1006.3 1218.7 1005.4 1219 983.3 1219.3 991.1 1219.6 990.8 1219.9 988.9 1220.2 998.6 1220.5 993.4 1220.8 985 1221.1 1006.1 1221.4 1000.8 1221.7 996.7 1222 1005.5 1222.3 988.9 1222.6 1007.2 1222.9 998.9 1223.2 992.5 1223.5 1005 1223.8 998.8 1224.1 995.8 1224.4 1007.5 1224.7 995.9 1225 1006.2 1225.3 1005.9 1225.6 995.4 1225.9 996 1226.2 1004.1 1226.5 999.8 1226.8 994.6 1227.1 998.8 1227.4 998.6 1227.7 1005.9 1228 1005.1 1228.3 1003.2 1228.6 1003.5 1228.9 1003.9 1229.2 995 1229.5 1004.6 1229.8 1004.4 1230.1 990.1 1230.4 998.1 1230.7 1003.3 1231 987.5 1231.3 1001.8 1231.6 990.9 1231.9 999.1 1232.2 997.5 1232.5 1002.4 1232.8 991.2 1233.1 1002.7 1233.4 1005.2 1233.7 1002.4 1234 995.4 1234.3 1003.7 1234.6 1001.3 1234.9 995.9 1235.2 990.6 1235.5 995.7 1235.8 992.8 1236.1 990.6 1236.4 995.6 1236.7 996.2 1237 994.3 1237.3 1010.3 1237.6 1005.2 1237.9 1010 1238.2 997.8 1238.5 1008.2 1238.8 995.5 1239.1 1002 1239.4 1010 1239.7 997.1 1240 1002.8 1240.3 1005.4 1240.6 996.9 1240.9 1007.3 1241.2 996 1241.5 997.8 1241.8 1008.6 1242.1 992.9 1242.4 1010.5 1242.7 999 1243 1005.9 1243.3 1002.9 1243.6 1008 1243.9 1008.2 1244.2 1002.3 1244.5 992.6 1244.8 995.6 1245.1 996.2 1245.4 998.5 1245.7 1005.2 1246 1007.9 1246.3 1001.4 1246.6 990.3 1246.9 1007.2 1247.2 1003.5 1247.5 1009.3 1247.8 1006.2 1248.1 1008.9 1248.4 999 1248.7 995.2 1249 1001.4 1249.3 991 1249.6 1007.9 1249.9 1001.1 1250.2 999.5 1250.5 985.3 1250.8 1008.3 1251.1 1000.5 1251.4 996.3 1251.7 1009.6 1252 994.9 1252.3 991.2 1252.6 992.7 1252.9 991.6 1253.2 995.7 1253.5 1006.7 1253.8 994.8 1254.1 994.8 1254.4 991.6 1254.7 992.9 1255 1009.8 1255.3 987.7 1255.6 1010.4 1255.9 1009.3 1256.2 995.7 1256.5 1005.3 1256.8 998.9 1257.1 994.8 1257.4 991 1257.7 997.6 1258 998.6 1258.3 996.5 1258.6 992.2 1258.9 997.5 1259.2 997.8 1259.5 1007.8 1259.8 1007.8 1260.1 995.9 1260.4 994.1 1260.7 992.8 1261 1006.6 1261.3 1005.9 1261.6 1003 1261.9 1000.2 1262.2 1001 1262.5 993.7 1262.8 997 1263.1 991 1263.4 989.5 1263.7 993.9 1264 1005.6 1264.3 997.6 1264.6 1007.7 1264.9 997.4 1265.2 1006.1 1265.5 1006.9 1265.8 1002.1 1266.1 989.5 1266.4 1005.2 1266.7 989.6 1267 985 1267.3 996.8 1267.6 1002.5 1267.9 998 1268.2 994.2 1268.5 1004.6 1268.8 991.7 1269.1 1001.4 1269.4 1001.8 1269.7 989.4 1270 997.8 1270.3 993.4 1270.6 992.8 1270.9 999 1271.2 995.6 1271.5 1003.1 1271.8 996.6 1272.1 1001 1272.4 1000 1272.7 998 1273 998.7 1273.3 1000 1273.6 1000.4 1273.9 1001 1274.2 1001.2 1274.5 1007.5 1274.8 991.5 1275.1 992.3 1275.4 990.2 1275.7 996.8 1276 1007.1 1276.3 994 1276.6 996.4 1276.9 992.4 1277.2 999.4 1277.5 998.9 1277.8 989.9 1278.1 1001 1278.4 1000.3 1278.7 994.8 1279 1007.1 1279.3 994.4 1279.6 1003.3 1279.9 998.7 1280.2 1008.7 1280.5 994.2 1280.8 1003.2 1281.1 1001 1281.4 992.1 1281.7 995.3 1282 994.5 1282.3 1003.3 1282.6 1000.5 1282.9 991.1 1283.2 1005.6 1283.5 984.5 1283.8 1007.4 1284.1 1006.3 1284.4 1010.1 1284.7 993 1285 1004.2 1285.3 1006.3 1285.6 1008.2 1285.9 1003.7 1286.2 991.2 1286.5 991.3 1286.8 1010.4 1287.1 1003.9 1287.4 996.9 1287.7 1008.2 1288 997.4 1288.3 1004.8 1288.6 1006.9 1288.9 1008.6 1289.2 1007.4 1289.5 1006.2 1289.8 1007.8 1290.1 1010.5 1290.4 1008.9 1290.7 1006.3 1291 996.5 1291.3 1007 1291.6 1008.6 1291.9 1006.2 1292.2 1004.5 1292.5 998.8 1292.8 1000.8 1293.1 1000.9 1293.4 1000.6 1293.7 1001.9 1294 991 1294.3 1006.7 1294.6 978.6 1294.9 993.4 1295.2 998.9 1295.5 1000.3 1295.8 993.8 1296.1 992.6 1296.4 998.3 1296.7 991.4 1297 990.1 1297.3 999.9 1297.6 1000.5 1297.9 996.4 1298.2 1006.8 1298.5 1005.3 1298.8 1008.1 1299.1 989.3 1299.4 989.4 1299.7 993.5 1300 1000.9 1300.3 994.3 1300.6 993 1300.9 999.2 1301.2 997.9 1301.5 981.3 1301.8 996.1 1302.1 1004.8 1302.4 993.2 1302.7 1002.8 1303 993.4 1303.3 1000.9 1303.6 997.6 1303.9 1002.3 1304.2 993.4 1304.5 994.2 1304.8 1007.3 1305.1 1004.9 1305.4 992.4 1305.7 1009.8 1306 1001.1 1306.3 995 1306.6 1002.9 1306.9 992.8 1307.2 1000.3 1307.5 1006.4 1307.8 989.2 1308.1 996.7 1308.4 996.6 1308.7 1007.4 1309 991.9 1309.3 992.1 1309.6 995.5 1309.9 1004.4 1310.2 992 1310.5 992.7 1310.8 1006.8 1311.1 996.6 1311.4 997.8 1311.7 1005.1 1312 990 1312.3 1007.5 1312.6 1004.7 1312.9 992 1313.2 1001.1 1313.5 1005.8 1313.8 1007 1314.1 997.1 1314.4 1005.5 1314.7 1000.8 1315 1008.7 1315.3 998.3 1315.6 991.3 1315.9 994 1316.2 1006.1 1316.5 993.7 1316.8 1006.9 1317.1 1007.7 1317.4 994.4 1317.7 1001 1318 1005.5 1318.3 995.2 1318.6 1003.7 1318.9 995.3 1319.2 999 1319.5 1003.2 1319.8 998 1320.1 993.2 1320.4 1007.7 1320.7 996 1321 995.9 1321.3 1000 1321.6 996.2 1321.9 986.9 1322.2 1005.6 1322.5 1000.7 1322.8 997.9 1323.1 1002.9 1323.4 987.6 1323.7 997.7 1324 1000 1324.3 1001.4 1324.6 991.7 1324.9 998.2 1325.2 995.7 1325.5 998 1325.8 1005 1326.1 1002.9 1326.4 990.7 1326.7 999.4 1327 1005.4 1327.3 991.8 1327.6 997.5 1327.9 1003.1 1328.2 998.8 1328.5 1000.4 1328.8 989.9 1329.1 996.1 1329.4 990.3 1329.7 999.1 1330 988.9 1330.3 980.1 1330.6 992.2 1330.9 999.3 1331.2 1000.8 1331.5 1009.5 1331.8 997.2 1332.1 993.3 1332.4 1001.8 1332.7 1000.2 1333 1004.6 1333.3 1005.9 1333.6 991 1333.9 993.3 1334.2 992.2 1334.5 1001.1 1334.8 1006.5 1335.1 995 1335.4 998.8 1335.7 994.7 1336 1002 1336.3 997.5 1336.6 998.2 1336.9 1005.3 1337.2 992.5 1337.5 982.2 1337.8 998.5 1338.1 1000.9 1338.4 999.5 1338.7 1006.5 1339 1007 1339.3 991.2 1339.6 979.4 1339.9 999.5 1340.2 1000.9 1340.5 991.3 1340.8 983.8 1341.1 1010.2 1341.4 994.9 1341.7 997.5 1342 1007.5 1342.3 991.3 1342.6 999.2 1342.9 998.6 1343.2 998.8 1343.5 1010.2 1343.8 1004 1344.1 1000.4 1344.4 995.2 1344.7 1004.9 1345 992.3 1345.3 1004.9 1345.6 1003.1 1345.9 995.9 1346.2 1007.5 1346.5 993.9 1346.8 995.4 1347.1 1005 1347.4 999.5 1347.7 996.1 1348 1004.9 1348.3 999.5 1348.6 989.8 1348.9 1003.5 1349.2 1006.6 1349.5 1000.3 1349.8 996.1 1350.1 1002.8 1350.4 990.5 1350.7 992.2 1351 989.6 1351.3 993.8 1351.6 998.7 1351.9 990.4 1352.2 999.3 1352.5 990.3 1352.8 995.3 1353.1 992.1 1353.4 1004.6 1353.7 995.6 1354 998.1 1354.3 996.5 1354.6 1005 1354.9 989.9 1355.2 987.9 1355.5 997.6 1355.8 997 1356.1 999.5 1356.4 1007.2 1356.7 1009.1 1357 1003.3 1357.3 1000.6 1357.6 995.4 1357.9 993.6 1358.2 1007.9 1358.5 992 1358.8 995.9 1359.1 1000.3 1359.4 991 1359.7 996.1 1360 1004 1360.3 1002.6 1360.6 1002.9 1360.9 998.9 1361.2 1001.1 1361.5 1005.7 1361.8 997.3 1362.1 998.1 1362.4 997.6 1362.7 1005.7 1363 991.4 1363.3 990 1363.6 996.4 1363.9 1002.9 1364.2 1008.5 1364.5 1002.3 1364.8 1005.7 1365.1 1007.3 1365.4 1009.1 1365.7 1005.2 1366 1007.9 1366.3 1005 1366.6 996.7 1366.9 993.4 1367.2 998.2 1367.5 981.7 1367.8 1003.3 1368.1 988.4 1368.4 995.3 1368.7 1006.1 1369 1000.7 1369.3 999.6 1369.6 991.6 1369.9 998.8 1370.2 997.1 1370.5 1006.4 1370.8 990.1 1371.1 1004.8 1371.4 1005.6 1371.7 996.8 1372 1002.4 1372.3 1006.5 1372.6 994.5 1372.9 996.5 1373.2 993.9 1373.5 1006.5 1373.8 1003.1 1374.1 993.9 1374.4 992.7 1374.7 1002.7 1375 989.7 1375.3 1005.5 1375.6 1004.8 1375.9 1002.8 1376.2 1000.9 1376.5 992.2 1376.8 997.5 1377.1 993.3 1377.4 1010.5 1377.7 1000.3 1378 997.7 1378.3 1008.8 1378.6 996.6 1378.9 995.3 1379.2 1006.5 1379.5 990.5 1379.8 1005.4 1380.1 997.2 1380.4 998.9 1380.7 999.5 1381 1008.1 1381.3 998.9 1381.6 999.4 1381.9 1002.8 1382.2 999.6 1382.5 994.4 1382.8 992.7 1383.1 1006.9 1383.4 996.2 1383.7 991.1 1384 994.7 1384.3 995.5 1384.6 996 1384.9 1002.4 1385.2 994.6 1385.5 1000.8 1385.8 992.8 1386.1 998.6 1386.4 993 1386.7 991.7 1387 1002.4 1387.3 1008.6 1387.6 1002.2 1387.9 999.7 1388.2 994.8 1388.5 993.7 1388.8 1000.6 1389.1 1003.9 1389.4 998.3 1389.7 993.9 1390 1003.3 1390.3 994.9 1390.6 1004 1390.9 1009.1 1391.2 1006.3 1391.5 1000.7 1391.8 992.5 1392.1 995.5 1392.4 1000.8 1392.7 1002.1 1393 1005.6 1393.3 995.9 1393.6 991.4 1393.9 991.2 1394.2 1002.2 1394.5 997.5 1394.8 995.7 1395.1 1007.4 1395.4 996.2 1395.7 997.9 1396 988.8 1396.3 997.5 1396.6 999 1396.9 1001.1 1397.2 1005.2 1397.5 1006.1 1397.8 994.7 1398.1 1005.2 1398.4 1004.9 1398.7 992.8 1399 990.8 1399.3 997 1399.6 989.6 1399.9 999.1 1400.2 989.5 1400.5 992.5 1400.8 994 1401.1 994.4 1401.4 991.4 1401.7 990.3 1402 996.7 1402.3 991 1402.6 995.4 1402.9 993.7 1403.2 1005.9 1403.5 1002.5 1403.8 1003.3 1404.1 1006 1404.4 993.5 1404.7 1005.3 1405 986.9 1405.3 997.1 1405.6 996 1405.9 994.9 1406.2 1001.5 1406.5 999.4 1406.8 1001.7 1407.1 982.7 1407.4 1007.6 1407.7 989.8 1408 995.3 1408.3 999.2 1408.6 1001 1408.9 991.7 1409.2 997.9 1409.5 1002.2 1409.8 1005.4 1410.1 1002.9 1410.4 992.2 1410.7 1004.5 1411 995.1 1411.3 1007.8 1411.6 994.7 1411.9 994.2 1412.2 993.3 1412.5 992.8 1412.8 996.3 1413.1 1007.2 1413.4 1006.3 1413.7 994.9 1414 994.8 1414.3 989.3 1414.6 1001.3 1414.9 1004.9 1415.2 1005.7 1415.5 995.2 1415.8 1002.4 1416.1 990.9 1416.4 996.9 1416.7 990 1417 993.5 1417.3 995.7 1417.6 1005.5 1417.9 995.9 1418.2 995.2 1418.5 1008.8 1418.8 1001.8 1419.1 1001.7 1419.4 991.2 1419.7 996.6 1420 990.8 1420.3 993.5 1420.6 1007.4 1420.9 995 1421.2 1003.5 1421.5 989.7 1421.8 990.7 1422.1 1000.2 1422.4 988.9 1422.7 990.7 1423 1004.8 1423.3 989.9 1423.6 1007.4 1423.9 999.7 1424.2 993.4 1424.5 997.5 1424.8 1002.7 1425.1 993.8 1425.4 995.6 1425.7 993.8 1426 999.3 1426.3 994.2 1426.6 995.5 1426.9 1007.4 1427.2 1008.1 1427.5 1000.5 1427.8 997.7 1428.1 994.9 1428.4 991.4 1428.7 1003 1429 1008.2 1429.3 991.5 1429.6 994.8 1429.9 993 1430.2 999 1430.5 993.6 1430.8 994.7 1431.1 999.2 1431.4 996.7 1431.7 993.3 1432 1009.4 1432.3 993.3 1432.6 992 1432.9 1009.1 1433.2 992.2 1433.5 991.2 1433.8 997.6 1434.1 1009 1434.4 1002.5 1434.7 1005.8 1435 1001.3 1435.3 996.6 1435.6 995.2 1435.9 1002.4 1436.2 1007.7 1436.5 1006.5 1436.8 1006.6 1437.1 1002.8 1437.4 994.3 1437.7 997.3 1438 983.5 1438.3 998.5 1438.6 1009.4 1438.9 995 1439.2 1000 1439.5 995.5 1439.8 983.6 1440.1 1008.8 1440.4 999.4 1440.7 990.6 1441 1003.8 1441.3 1003.5 1441.6 998.8 1441.9 1009.2 1442.2 991.9 1442.5 1000.6 1442.8 993.5 1443.1 1010.5 1443.4 1007.7 1443.7 1006.3 1444 994.8 1444.3 1006.4 1444.6 990.8 1444.9 988.7 1445.2 1006.7 1445.5 990.7 1445.8 992.3 1446.1 997.6 1446.4 1007.2 1446.7 993 1447 994.7 1447.3 993.4 1447.6 999 1447.9 984.5 1448.2 1003.7 1448.5 992.1 1448.8 991 1449.1 995 1449.4 1001.9 1449.7 998.7 1450 997.6 1450.3 996 1450.6 997.2 1450.9 1006.1 1451.2 994 1451.5 997.9 1451.8 992.6 1452.1 1002.5 1452.4 993 1452.7 995.3 1453 997.5 1453.3 1002.4 1453.6 1008 1453.9 1000.2 1454.2 996.3 1454.5 1001.5 1454.8 1008.1 1455.1 991.1 1455.4 1004 1455.7 1007.9 1456 1005 1456.3 984.9 1456.6 995.4 1456.9 1006 1457.2 999.9 1457.5 1002.1 1457.8 1009.2 1458.1 1002.6 1458.4 1003.6 1458.7 988.3 1459 1003.7 1459.3 995.7 1459.6 988.7 1459.9 1002.9 1460.2 997 1460.5 1000.9 1460.8 988.9 1461.1 998.8 1461.4 1003 1461.7 1008.2 1462 988.7 1462.3 1004.3 1462.6 998.8 1462.9 1001.5 1463.2 997.2 1463.5 994.2 1463.8 1000.3 1464.1 997.1 1464.4 1004.2 1464.7 989.5 1465 1003.3 1465.3 997.4 1465.6 993.2 1465.9 1006.2 1466.2 997.6 1466.5 998.9 1466.8 1001.1 1467.1 992.1 1467.4 996.7 1467.7 996.8 1468 987.5 1468.3 1003.2 1468.6 1001.9 1468.9 990.4 1469.2 993 1469.5 1001.7 1469.8 993.3 1470.1 999.7 1470.4 994.8 1470.7 1000.9 1471 993.1 1471.3 1005 1471.6 1000.3 1471.9 1004.3 1472.2 988 1472.5 987.9 1472.8 997.4 1473.1 1005.2 1473.4 1005.6 1473.7 1007.2 1474 992.2 1474.3 1002.6 1474.6 992.3 1474.9 1004.7 1475.2 997.3 1475.5 993.5 1475.8 1009.6 1476.1 992.6 1476.4 993 1476.7 995.3 1477 1007.6 1477.3 989.4 1477.6 1007.5 1477.9 991 1478.2 1000.6 1478.5 1005 1478.8 1007.7 1479.1 993.9 1479.4 990.3 1479.7 1001.4 1480 990 1480.3 1003.7 1480.6 1004.7 1480.9 1004 1481.2 989.6 1481.5 1005.6 1481.8 1000.5 1482.1 1003.4 1482.4 990.5 1482.7 1008.2 1483 1000.3 1483.3 999 1483.6 990.8 1483.9 1007.8 1484.2 1008.2 1484.5 1002.6 1484.8 997.1 1485.1 993.6 1485.4 991 1485.7 1005.6 1486 1005.7 1486.3 993.3 1486.6 1005.8 1486.9 1000.9 1487.2 990.8 1487.5 997.6 1487.8 991.8 1488.1 995.8 1488.4 994.1 1488.7 1002.7 1489 997.5 1489.3 1007.1 1489.6 996.3 1489.9 991.7 1490.2 990.4 1490.5 991.4 1490.8 988.2 1491.1 989.4 1491.4 993.4 1491.7 999.6 1492 995.1 1492.3 1001.7 1492.6 995.3 1492.9 988.8 1493.2 1004.9 1493.5 996.2 1493.8 991.8 1494.1 984.4 1494.4 992.5 1494.7 1003.1 1495 1005.9 1495.3 997.6 1495.6 994.3 1495.9 992.3 1496.2 1002.7 1496.5 989.7 1496.8 995.6 1497.1 1004.3 1497.4 1000.2 1497.7 995.5 1498 990.4 1498.3 1002.8 1498.6 995.2 1498.9 1007.1 1499.2 991 1499.5 1006.8 1499.8 997.1 1500.1 1000.8 1500.4 997.4 1500.7 997.9 1501 1005.2 1501.3 1004.5 1501.6 988.5 1501.9 1000.4 1502.2 1008.2 1502.5 1007.1 1502.8 1007.9 1503.1 1008.1 1503.4 1004.1 1503.7 1007.6 1504 993.7 1504.3 977.8 1504.6 992 1504.9 1003.7 1505.2 998.1 1505.5 996.7 1505.8 1000.7 1506.1 999.6 1506.4 1001.4 1506.7 1008 1507 993 1507.3 998.1 1507.6 982.9 1507.9 996.7 1508.2 1007.6 1508.5 1007 1508.8 1006.6 1509.1 1005.3 1509.4 993.1 1509.7 1002.5 1510 1001.5 1510.3 1008.3 1510.6 988 1510.9 991.6 1511.2 996.3 1511.5 992.8 1511.8 1007.4 1512.1 1007.4 1512.4 999.8 1512.7 1007.9 1513 994.5 1513.3 1004.1 1513.6 993.1 1513.9 998.9 1514.2 991.1 1514.5 1003.1 1514.8 994.9 1515.1 997.1 1515.4 992.5 1515.7 1007.4 1516 990.1 1516.3 1002.8 1516.6 998.7 1516.9 1007.8 1517.2 1006.1 1517.5 999.4 1517.8 991.5 1518.1 992.3 1518.4 1008.3 1518.7 997.5 1519 1006.1 1519.3 994.3 1519.6 994.7 1519.9 997.6 1520.2 1004.9 1520.5 1006.2 1520.8 1007.2 1521.1 1006 1521.4 991.1 1521.7 996 1522 1008.2 1522.3 1003.5 1522.6 998.7 1522.9 996.6 1523.2 999.1 1523.5 997.1 1523.8 1002.5 1524.1 999.2 1524.4 989.5 1524.7 1007.5 1525 1005 1525.3 1000.8 1525.6 1007.3 1525.9 991.5 1526.2 1005.8 1526.5 1005.2 1526.8 1002.4 1527.1 995 1527.4 991.9 1527.7 1004.4 1528 998.4 1528.3 1001.2 1528.6 998.5 1528.9 992.4 1529.2 994.6 1529.5 1000.8 1529.8 996.8 1530.1 991.2 1530.4 991 1530.7 1001.4 1531 986.3 1531.3 1004.9 1531.6 997 1531.9 993.4 1532.2 990.7 1532.5 1004.9 1532.8 1008.8 1533.1 1001 1533.4 996.2 1533.7 1007.2 1534 993.8 1534.3 1008.4 1534.6 989.6 1534.9 993.6 1535.2 997.6 1535.5 992.5 1535.8 994.6 1536.1 989.9 1536.4 985.2 1536.7 1005 1537 1004.2 1537.3 1002.5 1537.6 1003.1 1537.9 1004.8 1538.2 1002.7 1538.5 989.7 1538.8 998.1 1539.1 999 1539.4 1006 1539.7 991.8 1540 999.5 1540.3 988.1 1540.6 987.5 1540.9 988.9 1541.2 992.7 1541.5 987.5 1541.8 1003.8 1542.1 998 1542.4 1001.5 1542.7 998.2 1543 993.8 1543.3 997.8 1543.6 1006.4 1543.9 1006.5 1544.2 1004 1544.5 999.2 1544.8 990.2 1545.1 989.7 1545.4 1008.1 1545.7 992 1546 990.7 1546.3 995 1546.6 1003.8 1546.9 1002.2 1547.2 989.8 1547.5 990.7 1547.8 989.4 1548.1 989.6 1548.4 1008.7 1548.7 995.4 1549 1003.7 1549.3 1000.1 1549.6 999.4 1549.9 995.6 1550.2 1008.9 1550.5 989.6 1550.8 998 1551.1 999.6 1551.4 991 1551.7 995.6 1552 994.9 1552.3 988.9 1552.6 993.3 1552.9 993.9 1553.2 1002.4 1553.5 989.8 1553.8 989.4 1554.1 1001.8 1554.4 1000.1 1554.7 1000.1 1555 1007.5 1555.3 999.5 1555.6 992.3 1555.9 1007.8 1556.2 998.2 1556.5 999.5 1556.8 979.5 1557.1 999.3 1557.4 997.2 1557.7 998.3 1558 996.7 1558.3 997.5 1558.6 1007.4 1558.9 992.5 1559.2 1007.3 1559.5 1006.8 1559.8 1001 1560.1 999.4 1560.4 999 1560.7 994.2 1561 990.5 1561.3 993 1561.6 1006 1561.9 996.5 1562.2 997.4 1562.5 1008 1562.8 990.6 1563.1 1006.9 1563.4 1003.9 1563.7 1000.9 1564 1007.8 1564.3 1002.6 1564.6 997.1 1564.9 1001.9 1565.2 1004.4 1565.5 997.3 1565.8 1002.9 1566.1 1003.9 1566.4 1003.2 1566.7 991 1567 997.2 1567.3 999.3 1567.6 991.8 1567.9 996.1 1568.2 994.3 1568.5 1002.7 1568.8 996.5 1569.1 992.9 1569.4 999.6 1569.7 1004.5 1570 992.3 1570.3 990.6 1570.6 998 1570.9 1005.9 1571.2 996.1 1571.5 996.3 1571.8 993 1572.1 999.5 1572.4 997.2 1572.7 1000.4 1573 995.7 1573.3 994.6 1573.6 994 1573.9 1003.7 1574.2 1009.5 1574.5 1006.6 1574.8 1001.8 1575.1 999.2 1575.4 1001.6 1575.7 1010.5 1576 991.6 1576.3 1003.2 1576.6 994.7 1576.9 992.1 1577.2 981.9 1577.5 992.1 1577.8 1004.3 1578.1 1002.2 1578.4 1007.2 1578.7 1002 1579 1000.5 1579.3 992.2 1579.6 1001.1 1579.9 1008.1 1580.2 1008 1580.5 990.9 1580.8 1004.9 1581.1 1006.7 1581.4 990.5 1581.7 994.8 1582 993.7 1582.3 998.8 1582.6 988.6 1582.9 1004.4 1583.2 1002.7 1583.5 989.3 1583.8 998.3 1584.1 1006.2 1584.4 996.5 1584.7 1006 1585 994.7 1585.3 994.6 1585.6 1008.8 1585.9 993.3 1586.2 1003.7 1586.5 988 1586.8 1002.6 1587.1 990.2 1587.4 1004.1 1587.7 1001.2 1588 1008.2 1588.3 1001.6 1588.6 992.8 1588.9 996.2 1589.2 993.1 1589.5 994.6 1589.8 991.3 1590.1 1003.6 1590.4 993.8 1590.7 992.7 1591 994.3 1591.3 998.5 1591.6 1008 1591.9 1001.7 1592.2 1003.8 1592.5 992 1592.8 1007.2 1593.1 990 1593.4 998.2 1593.7 1007.7 1594 1007.7 1594.3 1009.3 1594.6 994.6 1594.9 1002 1595.2 996.9 1595.5 1003.4 1595.8 992.3 1596.1 1002.5 1596.4 1005 1596.7 1001.9 1597 998.1 1597.3 1002.6 1597.6 1000 1597.9 1001.1 1598.2 992.4 1598.5 990 1598.8 1002.5 1599.1 1009.2 1599.4 990.8 1599.7 1008.3 1600 1005.9 1600.3 992.8 1600.6 997.6 1600.9 1006 1601.2 995 1601.5 1009.2 1601.8 1007.7 1602.1 996.1 1602.4 1007.2 1602.7 998.8 1603 997.6 1603.3 1000.3 1603.6 1001.9 1603.9 994.4 1604.2 990.6 1604.5 1000.6 1604.8 1004.4 1605.1 995 1605.4 993.1 1605.7 997.2 1606 1003.9 1606.3 1007.6 1606.6 995.8 1606.9 994.9 1607.2 982.3 1607.5 1001.8 1607.8 998.2 1608.1 1002.9 1608.4 991 1608.7 995.4 1609 999.3 1609.3 996.2 1609.6 1005.2 1609.9 999.7 1610.2 1004 1610.5 1000 1610.8 1006.2 1611.1 991.2 1611.4 999.5 1611.7 1003.6 1612 1000.8 1612.3 1005.7 1612.6 999.1 1612.9 1008.4 1613.2 998.9 1613.5 1004.2 1613.8 1001.6 1614.1 988.1 1614.4 987.8 1614.7 989.8 1615 990.8 1615.3 1000.2 1615.6 997.8 1615.9 988.6 1616.2 1002.4 1616.5 1006.7 1616.8 991.5 1617.1 1002.1 1617.4 1001.6 1617.7 1001.6 1618 1004.5 1618.3 1006.1 1618.6 1006.8 1618.9 994.2 1619.2 1003.4 1619.5 1006.8 1619.8 1005 1620.1 1004 1620.4 994.1 1620.7 1000.2 1621 992.2 1621.3 1005 1621.6 999.6 1621.9 993.8 1622.2 996.2 1622.5 988.2 1622.8 983.9 1623.1 991.4 1623.4 1008.3 1623.7 997.4 1624 1010.5 1624.3 1006.1 1624.6 992.9 1624.9 1008.4 1625.2 1009.9 1625.5 994 1625.8 1009.6 1626.1 994 1626.4 985.9 1626.7 995.2 1627 999.9 1627.3 1001.5 1627.6 1008.4 1627.9 999.6 1628.2 998.2 1628.5 991 1628.8 1006.6 1629.1 994.2 1629.4 1000.4 1629.7 1009.7 1630 998.5 1630.3 1009.3 1630.6 985 1630.9 990.1 1631.2 1008.1 1631.5 992.1 1631.8 994.6 1632.1 1004.5 1632.4 998.7 1632.7 990.3 1633 997.1 1633.3 997.8 1633.6 1006.9 1633.9 990.5 1634.2 1005.4 1634.5 997.8 1634.8 989.7 1635.1 1000.9 1635.4 1003.8 1635.7 997 1636 996.8 1636.3 995.3 1636.6 997.8 1636.9 992.6 1637.2 997.2 1637.5 1001.2 1637.8 991.6 1638.1 1003.6 1638.4 995.7 1638.7 991.7 1639 994.4 1639.3 1001.2 1639.6 991.9 1639.9 990.4 1640.2 988.5 1640.5 994.6 1640.8 1003.2 1641.1 1002.2 1641.4 990.2 1641.7 998.3 1642 996.8 1642.3 1004.7 1642.6 991 1642.9 996.9 1643.2 1000.7 1643.5 1005.7 1643.8 1001.5 1644.1 998.5 1644.4 982.3 1644.7 998.2 1645 999 1645.3 997.7 1645.6 992.4 1645.9 991.1 1646.2 990.9 1646.5 992.4 1646.8 1006.1 1647.1 1005.3 1647.4 991.9 1647.7 993 1648 998.7 1648.3 1001.4 1648.6 997.6 1648.9 997.1 1649.2 995.8 1649.5 990.4 1649.8 998.3 1650.1 998.8 1650.4 989 1650.7 1001.1 1651 1003.1 1651.3 988.9 1651.6 1000.5 1651.9 993.6 1652.2 990.2 1652.5 1005.6 1652.8 1006.8 1653.1 998.4 1653.4 990.4 1653.7 999.5 1654 1004.4 1654.3 992.7 1654.6 989.2 1654.9 999.7 1655.2 1005.2 1655.5 994.4 1655.8 991.9 1656.1 993.1 1656.4 999.5 1656.7 1002.9 1657 1006.9 1657.3 1000.6 1657.6 997.2 1657.9 999 1658.2 1007.7 1658.5 995 1658.8 992.8 1659.1 994.3 1659.4 1004.6 1659.7 1005.5 1660 1000.1 1660.3 1004.5 1660.6 997.7 1660.9 989.7 1661.2 997.4 1661.5 992 1661.8 996.5 1662.1 1001.8 1662.4 994.1 1662.7 995.1 1663 992.8 1663.3 979.1 1663.6 1005.8 1663.9 997.9 1664.2 1009.5 1664.5 995.4 1664.8 996.7 1665.1 998.2 1665.4 1004.5 1665.7 997.3 1666 1008.1 1666.3 1004.4 1666.6 996.7 1666.9 997.8 1667.2 996.2 1667.5 1003.6 1667.8 992.7 1668.1 1007.4 1668.4 1006 1668.7 994.1 1669 1007.9 1669.3 993.1 1669.6 1007.5 1669.9 1001.3 1670.2 991.3 1670.5 1009.2 1670.8 1003.6 1671.1 1005.7 1671.4 990.9 1671.7 1005.1 1672 999.5 1672.3 1008.4 1672.6 1006.4 1672.9 1000.5 1673.2 1007.7 1673.5 998.2 1673.8 1000.9 1674.1 996.5 1674.4 989.8 1674.7 997.4 1675 995.7 1675.3 1004 1675.6 989.9 1675.9 996 1676.2 1005.1 1676.5 991.3 1676.8 1007.8 1677.1 1008.4 1677.4 1003.4 1677.7 990.9 1678 1004.8 1678.3 1000.8 1678.6 991.4 1678.9 1001.6 1679.2 1008.5 1679.5 995 1679.8 992.9 1680.1 1006.5 1680.4 1005.1 1680.7 1006.1 1681 999.6 1681.3 1005.8 1681.6 1005.4 1681.9 1000.5 1682.2 977.2 1682.5 1008.9 1682.8 990.5 1683.1 1003.2 1683.4 1001.4 1683.7 1007.6 1684 993.7 1684.3 1002.2 1684.6 990.8 1684.9 1002.4 1685.2 979.4 1685.5 999.2 1685.8 992 1686.1 1007 1686.4 990.9 1686.7 1004.3 1687 1001.1 1687.3 992.6 1687.6 989 1687.9 988.9 1688.2 996 1688.5 1002.9 1688.8 993.6 1689.1 991.3 1689.4 1002.4 1689.7 996.5 1690 1004.7 1690.3 1004.2 1690.6 1009 1690.9 1001.7 1691.2 993.9 1691.5 1000.6 1691.8 1001.8 1692.1 994.6 1692.4 994.3 1692.7 1006.7 1693 1003.6 1693.3 1007.5 1693.6 1002.8 1693.9 1002.3 1694.2 992.7 1694.5 1008.4 1694.8 1005.7 1695.1 992.4 1695.4 989.8 1695.7 993.6 1696 998.1 1696.3 991.6 1696.6 1001.8 1696.9 1003.1 1697.2 997.1 1697.5 999.1 1697.8 1001.8 1698.1 989.2 1698.4 995.9 1698.7 995 1699 991.8 1699.3 997.2 1699.6 1007 1699.9 989.3 1700.2 994.4 1700.5 1001.9 1700.8 992.1 1701.1 990.3 1701.4 990.1 1701.7 1004.3 1702 987.5 1702.3 991.6 1702.6 989.9 1702.9 993 1703.2 1000.6 1703.5 1002.5 1703.8 990 1704.1 992.2 1704.4 1000.1 1704.7 996.5 1705 1003.9 1705.3 992.6 1705.6 1005.7 1705.9 994.3 1706.2 994.5 1706.5 998.3 1706.8 997.4 1707.1 1010.1 1707.4 1006.9 1707.7 1006.3 1708 1009.1 1708.3 1004.1 1708.6 1005.8 1708.9 1006.5 1709.2 1008.4 1709.5 993.2 1709.8 1010.5 1710.1 1008.5 1710.4 1010 1710.7 999 1711 991.9 1711.3 993.2 1711.6 1009.5 1711.9 999.1 1712.2 995.5 1712.5 1003.3 1712.8 997.9 1713.1 1005.8 1713.4 993 1713.7 988.7 1714 999.1 1714.3 990.7 1714.6 993.2 1714.9 995.3 1715.2 1006.2 1715.5 1004.8 1715.8 993.4 1716.1 999.9 1716.4 1003 1716.7 1000.2 1717 995.3 1717.3 996.6 1717.6 977.5 1717.9 999.2 1718.2 1005.5 1718.5 991.6 1718.8 998.6 1719.1 1005 1719.4 1001.7 1719.7 999.6 1720 991.6 1720.3 1001.9 1720.6 986.3 1720.9 990.7 1721.2 989.4 1721.5 999.2 1721.8 989.3 1722.1 988.7 1722.4 991.3 1722.7 995.8 1723 1003 1723.3 998.4 1723.6 993.1 1723.9 990.8 1724.2 1001.2 1724.5 1006 1724.8 1000.9 1725.1 993.7 1725.4 996.1 1725.7 987.5 1726 992.5" fill="none" stroke="#000" stroke-width="2.3" stroke-linejoin="round"/></g>
<path d="M825 111V455M825 478V822M825 846V1017M1726 111V455M1726 478V822M1726 846V1017" stroke="#1f77b4" stroke-width="2" stroke-dasharray="2 3.5"/>
<path d="M200 397.5h5.7M914 397.5h-5.7M200 340.5h5.7M914 340.5h-5.7M200 282.5h5.7M914 282.5h-5.7M200 225.5h5.7M914 225.5h-5.7M200 167.5h5.7M914 167.5h-5.7" stroke="#000" stroke-width="1"/>
<path d="M248.5 455v-4.8M337.5 455v-4.8M427.5 455v-4.8M516.5 455v-4.8M605.5 455v-4.8M694.5 455v-4.8M784.5 455v-4.8M873.5 455v-4.8" stroke="#000" stroke-width="1"/>
<text x="184.2" y="462.2" font-size="20" textLength="11.4" lengthAdjust="spacingAndGlyphs">2</text>
<text x="184" y="404.7" font-size="20" textLength="11.3" lengthAdjust="spacingAndGlyphs">3</text>
<text x="183.4" y="347.2" font-size="20" textLength="11.7" lengthAdjust="spacingAndGlyphs">4</text>
<text x="184.3" y="289.7" font-size="20" textLength="11.1" lengthAdjust="spacingAndGlyphs">5</text>
<text x="183.4" y="232.2" font-size="20" textLength="12" lengthAdjust="spacingAndGlyphs">6</text>
<text x="184.1" y="174.7" font-size="20" textLength="11.4" lengthAdjust="spacingAndGlyphs">7</text>
<text x="183.5" y="117.2" font-size="20" textLength="11.8" lengthAdjust="spacingAndGlyphs">8</text>
<path d="M200 764.5h5.7M914 764.5h-5.7M200 707.5h5.7M914 707.5h-5.7M200 650.5h5.7M914 650.5h-5.7M200 592.5h5.7M914 592.5h-5.7M200 535.5h5.7M914 535.5h-5.7" stroke="#000" stroke-width="1"/>
<path d="M200 804.5h3.5M914 804.5h-3.5M200 794.5h3.5M914 794.5h-3.5M200 787.5h3.5M914 787.5h-3.5M200 781.5h3.5M914 781.5h-3.5M200 777.5h3.5M914 777.5h-3.5M200 773.5h3.5M914 773.5h-3.5M200 770.5h3.5M914 770.5h-3.5M200 767.5h3.5M914 767.5h-3.5M200 747.5h3.5M914 747.5h-3.5M200 737.5h3.5M914 737.5h-3.5M200 730.5h3.5M914 730.5h-3.5M200 724.5h3.5M914 724.5h-3.5M200 720.5h3.5M914 720.5h-3.5M200 716.5h3.5M914 716.5h-3.5M200 712.5h3.5M914 712.5h-3.5M200 709.5h3.5M914 709.5h-3.5M200 690.5h3.5M914 690.5h-3.5M200 679.5h3.5M914 679.5h-3.5M200 672.5h3.5M914 672.5h-3.5M200 667.5h3.5M914 667.5h-3.5M200 662.5h3.5M914 662.5h-3.5M200 658.5h3.5M914 658.5h-3.5M200 655.5h3.5M914 655.5h-3.5M200 652.5h3.5M914 652.5h-3.5M200 632.5h3.5M914 632.5h-3.5M200 622.5h3.5M914 622.5h-3.5M200 615.5h3.5M914 615.5h-3.5M200 609.5h3.5M914 609.5h-3.5M200 605.5h3.5M914 605.5h-3.5M200 601.5h3.5M914 601.5h-3.5M200 598.5h3.5M914 598.5h-3.5M200 595.5h3.5M914 595.5h-3.5M200 575.5h3.5M914 575.5h-3.5M200 565.5h3.5M914 565.5h-3.5M200 558.5h3.5M914 558.5h-3.5M200 552.5h3.5M914 552.5h-3.5M200 548.5h3.5M914 548.5h-3.5M200 544.5h3.5M914 544.5h-3.5M200 540.5h3.5M914 540.5h-3.5M200 537.5h3.5M914 537.5h-3.5M200 518.5h3.5M914 518.5h-3.5M200 507.5h3.5M914 507.5h-3.5M200 500.5h3.5M914 500.5h-3.5M200 495.5h3.5M914 495.5h-3.5M200 490.5h3.5M914 490.5h-3.5M200 486.5h3.5M914 486.5h-3.5M200 483.5h3.5M914 483.5h-3.5M200 480.5h3.5M914 480.5h-3.5" stroke="#000" stroke-width="1"/>
<path d="M248.5 822v-4.8M337.5 822v-4.8M427.5 822v-4.8M516.5 822v-4.8M605.5 822v-4.8M694.5 822v-4.8M784.5 822v-4.8M873.5 822v-4.8" stroke="#000" stroke-width="1"/>
<text x="160" y="829.5" font-size="20" textLength="24.4" lengthAdjust="spacingAndGlyphs">10</text><text x="185.6" y="822.8" font-size="14" textLength="8.2" lengthAdjust="spacingAndGlyphs">0</text>
<text x="161" y="772.2" font-size="20" textLength="24.4" lengthAdjust="spacingAndGlyphs">10</text><text x="186.2" y="765.5" font-size="14" textLength="7.8" lengthAdjust="spacingAndGlyphs">1</text>
<text x="160.6" y="714.8" font-size="20" textLength="24.4" lengthAdjust="spacingAndGlyphs">10</text><text x="186.1" y="708.1" font-size="14" textLength="8" lengthAdjust="spacingAndGlyphs">2</text>
<text x="160.3" y="657.5" font-size="20" textLength="24.4" lengthAdjust="spacingAndGlyphs">10</text><text x="186" y="650.8" font-size="14" textLength="7.9" lengthAdjust="spacingAndGlyphs">3</text>
<text x="159.6" y="600.2" font-size="20" textLength="24.4" lengthAdjust="spacingAndGlyphs">10</text><text x="185.5" y="593.5" font-size="14" textLength="8.2" lengthAdjust="spacingAndGlyphs">4</text>
<text x="160.5" y="542.8" font-size="20" textLength="24.4" lengthAdjust="spacingAndGlyphs">10</text><text x="186.1" y="536.1" font-size="14" textLength="7.7" lengthAdjust="spacingAndGlyphs">5</text>
<text x="160.1" y="485.5" font-size="20" textLength="24.4" lengthAdjust="spacingAndGlyphs">10</text><text x="185.5" y="478.8" font-size="14" textLength="8.4" lengthAdjust="spacingAndGlyphs">6</text>
<path d="M200 978.5h5.7M914 978.5h-5.7M200 940.5h5.7M914 940.5h-5.7M200 902.5h5.7M914 902.5h-5.7M200 864.5h5.7M914 864.5h-5.7" stroke="#000" stroke-width="1"/>
<path d="M248.5 1017v-4.8M337.5 1017v-4.8M427.5 1017v-4.8M516.5 1017v-4.8M605.5 1017v-4.8M694.5 1017v-4.8M784.5 1017v-4.8M873.5 1017v-4.8" stroke="#000" stroke-width="1"/>
<text x="183.6" y="1024.2" font-size="20" textLength="11.7" lengthAdjust="spacingAndGlyphs">0</text>
<text x="184.2" y="986" font-size="20" textLength="11.4" lengthAdjust="spacingAndGlyphs">2</text>
<text x="183.4" y="947.8" font-size="20" textLength="11.7" lengthAdjust="spacingAndGlyphs">4</text>
<text x="183.4" y="909.5" font-size="20" textLength="12" lengthAdjust="spacingAndGlyphs">6</text>
<text x="183.5" y="871.3" font-size="20" textLength="11.8" lengthAdjust="spacingAndGlyphs">8</text>
<text x="235.6" y="1037" font-size="20" textLength="24.3" lengthAdjust="spacingAndGlyphs">17</text>
<text x="324.7" y="1037" font-size="20" textLength="24.5" lengthAdjust="spacingAndGlyphs">18</text>
<text x="414" y="1037" font-size="20" textLength="24.6" lengthAdjust="spacingAndGlyphs">19</text>
<text x="503.4" y="1037" font-size="20" textLength="24.6" lengthAdjust="spacingAndGlyphs">20</text>
<text x="593" y="1037" font-size="20" textLength="24.3" lengthAdjust="spacingAndGlyphs">21</text>
<text x="682.3" y="1037" font-size="20" textLength="24.3" lengthAdjust="spacingAndGlyphs">22</text>
<text x="771.4" y="1037" font-size="20" textLength="24.5" lengthAdjust="spacingAndGlyphs">23</text>
<text x="860.4" y="1037" font-size="20" textLength="24.7" lengthAdjust="spacingAndGlyphs">24</text>
<path d="M976 437.5h5M976 427.5h5M976 420.5h5M976 414.5h5M976 410.5h5M976 406.5h5M976 403.5h5M976 400.5h5M976 380.5h5M976 370.5h5M976 362.5h5M976 357.5h5M976 352.5h5M976 348.5h5M976 345.5h5M976 342.5h5M976 322.5h5M976 312.5h5M976 305.5h5M976 299.5h5M976 295.5h5M976 291.5h5M976 288.5h5M976 285.5h5M976 265.5h5M976 255.5h5M976 247.5h5M976 242.5h5M976 237.5h5M976 233.5h5M976 230.5h5M976 227.5h5M976 207.5h5M976 197.5h5M976 190.5h5M976 184.5h5M976 180.5h5M976 176.5h5M976 173.5h5M976 170.5h5M976 150.5h5M976 140.5h5M976 132.5h5M976 127.5h5M976 122.5h5M976 118.5h5M976 115.5h5M976 112.5h5M976 455.5h5M976 397.5h5M976 340.5h5M976 282.5h5M976 225.5h5M976 167.5h5M976 110.5h5" stroke="#000" stroke-width="1"/>
<text x="987.1" y="462.5" font-size="20" textLength="24.4" lengthAdjust="spacingAndGlyphs">10</text><text x="1012.7" y="455.8" font-size="14" textLength="8.2" lengthAdjust="spacingAndGlyphs">0</text>
<text x="987.1" y="405" font-size="20" textLength="24.4" lengthAdjust="spacingAndGlyphs">10</text><text x="1012.2" y="398.3" font-size="14" textLength="7.8" lengthAdjust="spacingAndGlyphs">1</text>
<text x="987.1" y="347.5" font-size="20" textLength="24.4" lengthAdjust="spacingAndGlyphs">10</text><text x="1012.5" y="340.8" font-size="14" textLength="8" lengthAdjust="spacingAndGlyphs">2</text>
<text x="987.1" y="290" font-size="20" textLength="24.4" lengthAdjust="spacingAndGlyphs">10</text><text x="1012.7" y="283.3" font-size="14" textLength="7.9" lengthAdjust="spacingAndGlyphs">3</text>
<text x="987.1" y="232.5" font-size="20" textLength="24.4" lengthAdjust="spacingAndGlyphs">10</text><text x="1013" y="225.8" font-size="14" textLength="8.2" lengthAdjust="spacingAndGlyphs">4</text>
<text x="987.1" y="175" font-size="20" textLength="24.4" lengthAdjust="spacingAndGlyphs">10</text><text x="1012.7" y="168.3" font-size="14" textLength="7.7" lengthAdjust="spacingAndGlyphs">5</text>
<text x="987.1" y="117.5" font-size="20" textLength="24.4" lengthAdjust="spacingAndGlyphs">10</text><text x="1012.5" y="110.8" font-size="14" textLength="8.4" lengthAdjust="spacingAndGlyphs">6</text>
<path d="M1205 411.5h5.7M1205 368.5h5.7M1205 325.5h5.7M1205 282.5h5.7M1205 239.5h5.7M1205 196.5h5.7M1205 153.5h5.7" stroke="#000" stroke-width="1"/>
<path d="M1800 386.5h-5.7M1800 317.5h-5.7M1800 248.5h-5.7M1800 179.5h-5.7" stroke="#f00" stroke-width="1"/>
<path d="M1244.5 455v-4.8M1318.5 455v-4.8M1393.5 455v-4.8M1467.5 455v-4.8M1542.5 455v-4.8M1616.5 455v-4.8M1691.5 455v-4.8M1765.5 455v-4.8" stroke="#000" stroke-width="1"/>
<text x="1159.8" y="462.2" font-size="20" textLength="40.9" lengthAdjust="spacingAndGlyphs">−20</text>
<text x="1160.2" y="419.1" font-size="20" textLength="40.6" lengthAdjust="spacingAndGlyphs">−15</text>
<text x="1159.8" y="375.9" font-size="20" textLength="40.9" lengthAdjust="spacingAndGlyphs">−10</text>
<text x="1172.9" y="332.8" font-size="20" textLength="27.9" lengthAdjust="spacingAndGlyphs">−5</text>
<text x="1188.9" y="289.7" font-size="20" textLength="11.7" lengthAdjust="spacingAndGlyphs">0</text>
<text x="1189.6" y="246.6" font-size="20" textLength="11.1" lengthAdjust="spacingAndGlyphs">5</text>
<text x="1176.2" y="203.4" font-size="20" textLength="24.4" lengthAdjust="spacingAndGlyphs">10</text>
<text x="1176.6" y="160.3" font-size="20" textLength="24.1" lengthAdjust="spacingAndGlyphs">15</text>
<text x="1176" y="117.2" font-size="20" textLength="24.6" lengthAdjust="spacingAndGlyphs">20</text>
<text x="1805.4" y="462.2" font-size="20" fill="#f00" textLength="11.7" lengthAdjust="spacingAndGlyphs">0</text>
<text x="1805.1" y="393.2" font-size="20" fill="#f00" textLength="37.4" lengthAdjust="spacingAndGlyphs">200</text>
<text x="1805.8" y="324.2" font-size="20" fill="#f00" textLength="37.2" lengthAdjust="spacingAndGlyphs">400</text>
<text x="1805.1" y="255.2" font-size="20" fill="#f00" textLength="37.4" lengthAdjust="spacingAndGlyphs">600</text>
<text x="1805.2" y="186.2" font-size="20" fill="#f00" textLength="37.4" lengthAdjust="spacingAndGlyphs">800</text>
<text x="1804.5" y="117.2" font-size="20" fill="#f00" textLength="49.9" lengthAdjust="spacingAndGlyphs">1000</text>
<path d="M1205 513.5h5.7M1205 581.5h5.7M1205 650.5h5.7M1205 719.5h5.7M1205 788.5h5.7" stroke="#000" stroke-width="1"/>
<path d="M1800 736.5h-5.7M1800 650.5h-5.7M1800 564.5h-5.7" stroke="#f00" stroke-width="1"/>
<path d="M1800 796.5h-3.5M1800 780.5h-3.5M1800 770.5h-3.5M1800 761.5h-3.5M1800 755.5h-3.5M1800 749.5h-3.5M1800 744.5h-3.5M1800 739.5h-3.5M1800 710.5h-3.5M1800 694.5h-3.5M1800 684.5h-3.5M1800 675.5h-3.5M1800 669.5h-3.5M1800 663.5h-3.5M1800 658.5h-3.5M1800 653.5h-3.5M1800 624.5h-3.5M1800 608.5h-3.5M1800 598.5h-3.5M1800 589.5h-3.5M1800 583.5h-3.5M1800 577.5h-3.5M1800 572.5h-3.5M1800 567.5h-3.5M1800 538.5h-3.5M1800 522.5h-3.5M1800 512.5h-3.5M1800 503.5h-3.5M1800 497.5h-3.5M1800 491.5h-3.5M1800 486.5h-3.5M1800 481.5h-3.5" stroke="#f00" stroke-width="1"/>
<path d="M1244.5 822v-4.8M1318.5 822v-4.8M1393.5 822v-4.8M1467.5 822v-4.8M1542.5 822v-4.8M1616.5 822v-4.8M1691.5 822v-4.8M1765.5 822v-4.8" stroke="#000" stroke-width="1"/>
<text x="1187.9" y="520.3" font-size="20" textLength="11.7" lengthAdjust="spacingAndGlyphs">0</text>
<text x="1146.1" y="589.1" font-size="20" textLength="53.6" lengthAdjust="spacingAndGlyphs">−100</text>
<text x="1146.1" y="657.9" font-size="20" textLength="53.6" lengthAdjust="spacingAndGlyphs">−200</text>
<text x="1146.1" y="726.7" font-size="20" textLength="53.6" lengthAdjust="spacingAndGlyphs">−300</text>
<text x="1146.1" y="795.5" font-size="20" textLength="53.6" lengthAdjust="spacingAndGlyphs">−400</text>
<text x="1805.4" y="829.5" font-size="20" fill="#f00" textLength="24.4" lengthAdjust="spacingAndGlyphs">10</text><text x="1830.7" y="822.8" font-size="14" fill="#f00" textLength="19.5" lengthAdjust="spacingAndGlyphs">−2</text>
<text x="1805.4" y="743.5" font-size="20" fill="#f00" textLength="24.4" lengthAdjust="spacingAndGlyphs">10</text><text x="1830.7" y="736.8" font-size="14" fill="#f00" textLength="19.5" lengthAdjust="spacingAndGlyphs">−1</text>
<text x="1805.4" y="657.5" font-size="20" fill="#f00" textLength="24.4" lengthAdjust="spacingAndGlyphs">10</text><text x="1831" y="650.8" font-size="14" fill="#f00" textLength="8.2" lengthAdjust="spacingAndGlyphs">0</text>
<text x="1805.4" y="571.5" font-size="20" fill="#f00" textLength="24.4" lengthAdjust="spacingAndGlyphs">10</text><text x="1830.5" y="564.8" font-size="14" fill="#f00" textLength="7.8" lengthAdjust="spacingAndGlyphs">1</text>
<text x="1805.4" y="485.5" font-size="20" fill="#f00" textLength="24.4" lengthAdjust="spacingAndGlyphs">10</text><text x="1830.8" y="478.8" font-size="14" fill="#f00" textLength="8" lengthAdjust="spacingAndGlyphs">2</text>
<path d="M1205 974.5h5.7M1800 974.5h-5.7M1205 931.5h5.7M1800 931.5h-5.7M1205 888.5h5.7M1800 888.5h-5.7" stroke="#000" stroke-width="1"/>
<path d="M1205 1004.5h3.5M1800 1004.5h-3.5M1205 996.5h3.5M1800 996.5h-3.5M1205 991.5h3.5M1800 991.5h-3.5M1205 986.5h3.5M1800 986.5h-3.5M1205 983.5h3.5M1800 983.5h-3.5M1205 980.5h3.5M1800 980.5h-3.5M1205 978.5h3.5M1800 978.5h-3.5M1205 975.5h3.5M1800 975.5h-3.5M1205 961.5h3.5M1800 961.5h-3.5M1205 953.5h3.5M1800 953.5h-3.5M1205 948.5h3.5M1800 948.5h-3.5M1205 943.5h3.5M1800 943.5h-3.5M1205 940.5h3.5M1800 940.5h-3.5M1205 937.5h3.5M1800 937.5h-3.5M1205 935.5h3.5M1800 935.5h-3.5M1205 932.5h3.5M1800 932.5h-3.5M1205 918.5h3.5M1800 918.5h-3.5M1205 910.5h3.5M1800 910.5h-3.5M1205 905.5h3.5M1800 905.5h-3.5M1205 900.5h3.5M1800 900.5h-3.5M1205 897.5h3.5M1800 897.5h-3.5M1205 894.5h3.5M1800 894.5h-3.5M1205 892.5h3.5M1800 892.5h-3.5M1205 889.5h3.5M1800 889.5h-3.5M1205 875.5h3.5M1800 875.5h-3.5M1205 867.5h3.5M1800 867.5h-3.5M1205 862.5h3.5M1800 862.5h-3.5M1205 857.5h3.5M1800 857.5h-3.5M1205 854.5h3.5M1800 854.5h-3.5M1205 851.5h3.5M1800 851.5h-3.5M1205 849.5h3.5M1800 849.5h-3.5M1205 846.5h3.5M1800 846.5h-3.5" stroke="#000" stroke-width="1"/>
<path d="M1244.5 1017v-4.8M1318.5 1017v-4.8M1393.5 1017v-4.8M1467.5 1017v-4.8M1542.5 1017v-4.8M1616.5 1017v-4.8M1691.5 1017v-4.8M1765.5 1017v-4.8" stroke="#000" stroke-width="1"/>
<text x="1154.2" y="1024.5" font-size="20" textLength="24.4" lengthAdjust="spacingAndGlyphs">10</text><text x="1179.6" y="1017.8" font-size="14" textLength="19.5" lengthAdjust="spacingAndGlyphs">−1</text>
<text x="1165" y="981.5" font-size="20" textLength="24.4" lengthAdjust="spacingAndGlyphs">10</text><text x="1190.6" y="974.8" font-size="14" textLength="8.2" lengthAdjust="spacingAndGlyphs">0</text>
<text x="1166" y="938.5" font-size="20" textLength="24.4" lengthAdjust="spacingAndGlyphs">10</text><text x="1191.2" y="931.8" font-size="14" textLength="7.8" lengthAdjust="spacingAndGlyphs">1</text>
<text x="1165.6" y="895.5" font-size="20" textLength="24.4" lengthAdjust="spacingAndGlyphs">10</text><text x="1191.1" y="888.8" font-size="14" textLength="8" lengthAdjust="spacingAndGlyphs">2</text>
<text x="1165.3" y="852.5" font-size="20" textLength="24.4" lengthAdjust="spacingAndGlyphs">10</text><text x="1191" y="845.8" font-size="14" textLength="7.9" lengthAdjust="spacingAndGlyphs">3</text>
<text x="1231.6" y="1037" font-size="20" textLength="24.3" lengthAdjust="spacingAndGlyphs">17</text>
<text x="1305.8" y="1037" font-size="20" textLength="24.5" lengthAdjust="spacingAndGlyphs">18</text>
<text x="1380.3" y="1037" font-size="20" textLength="24.6" lengthAdjust="spacingAndGlyphs">19</text>
<text x="1454.8" y="1037" font-size="20" textLength="24.6" lengthAdjust="spacingAndGlyphs">20</text>
<text x="1529.5" y="1037" font-size="20" textLength="24.3" lengthAdjust="spacingAndGlyphs">21</text>
<text x="1604" y="1037" font-size="20" textLength="24.3" lengthAdjust="spacingAndGlyphs">22</text>
<text x="1678.2" y="1037" font-size="20" textLength="24.5" lengthAdjust="spacingAndGlyphs">23</text>
<text x="1752.4" y="1037" font-size="20" textLength="24.7" lengthAdjust="spacingAndGlyphs">24</text>
<rect x="200" y="110" width="714" height="345" fill="none" stroke="#000" stroke-width="2"/>
<rect x="200" y="478" width="714" height="344" fill="none" stroke="#000" stroke-width="2"/>
<rect x="200" y="845" width="714" height="172" fill="none" stroke="#000" stroke-width="2"/>
<rect x="959" y="110" width="17" height="345" fill="none" stroke="#000" stroke-width="2"/>
<rect x="1205" y="110" width="595" height="345" fill="none" stroke="#000" stroke-width="2"/><line x1="1800" y1="110" x2="1800" y2="455" stroke="#f00" stroke-width="2"/>
<rect x="1205" y="478" width="595" height="344" fill="none" stroke="#000" stroke-width="2"/><line x1="1800" y1="478" x2="1800" y2="822" stroke="#f00" stroke-width="2"/>
<rect x="1205" y="845" width="595" height="172" fill="none" stroke="#000" stroke-width="2"/>
<text x="538.4" y="41" font-size="26.5" textLength="921.9" lengthAdjust="spacingAndGlyphs">BAS-RBM Relativistic Electron Forecast, issued at 23:10 UT, 23 January 2019</text>
<text x="204.4" y="92.8" font-size="25" textLength="349" lengthAdjust="spacingAndGlyphs">&gt;2.0 MeV Electron Flux at 88</text>
<circle cx="564.2" cy="78" r="2.3" fill="none" stroke="#000" stroke-width="1.1"/>
<text x="581" y="92.8" font-size="25" textLength="149" lengthAdjust="spacingAndGlyphs">pitch angle (</text>
<text x="739.9" y="92.8" font-size="25" textLength="36" lengthAdjust="spacingAndGlyphs">cm</text>
<text x="777" y="82.2" font-size="17" textLength="23.2" lengthAdjust="spacingAndGlyphs">−2</text>
<text x="805.8" y="92.8" font-size="25" textLength="12.8" lengthAdjust="spacingAndGlyphs">s</text>
<text x="818.5" y="82.2" font-size="17" textLength="24.2" lengthAdjust="spacingAndGlyphs">−1</text>
<text x="848.4" y="92.8" font-size="25" textLength="21.5" lengthAdjust="spacingAndGlyphs">sr</text>
<text x="870.3" y="82.2" font-size="17" textLength="24.2" lengthAdjust="spacingAndGlyphs">−1</text>
<text x="905.5" y="92.8" font-size="25" textLength="7.4" lengthAdjust="spacingAndGlyphs">)</text>
<text x="172.7" y="300.8" font-size="25" textLength="33.4" lengthAdjust="spacingAndGlyphs" transform="rotate(-90 172.7 300.8)">L*</text>
<text x="113.2" y="791.1" font-size="25.5" textLength="280.5" lengthAdjust="spacingAndGlyphs" transform="rotate(-90 113.2 791.1)">&gt;2.0 MeV Electron Flux</text>
<text x="148.5" y="747.7" font-size="25" textLength="9.4" lengthAdjust="spacingAndGlyphs" transform="rotate(-90 148.5 747.7)">(</text>
<text x="146" y="725.1" font-size="25" textLength="35.8" lengthAdjust="spacingAndGlyphs" transform="rotate(-90 146 725.1)">cm</text>
<text x="136" y="689.2" font-size="17" textLength="27.4" lengthAdjust="spacingAndGlyphs" transform="rotate(-90 136 689.2)">−2</text>
<text x="146" y="661.7" font-size="25" textLength="11.5" lengthAdjust="spacingAndGlyphs" transform="rotate(-90 146 661.7)">s</text>
<text x="136" y="650.2" font-size="17" textLength="27.3" lengthAdjust="spacingAndGlyphs" transform="rotate(-90 136 650.2)">−1</text>
<text x="146" y="620.6" font-size="25" textLength="18" lengthAdjust="spacingAndGlyphs" transform="rotate(-90 146 620.6)">sr</text>
<text x="136" y="601.2" font-size="17" textLength="27.3" lengthAdjust="spacingAndGlyphs" transform="rotate(-90 136 601.2)">−1</text>
<text x="148.5" y="563.1" font-size="25" textLength="7.5" lengthAdjust="spacingAndGlyphs" transform="rotate(-90 148.5 563.1)">)</text>
<text x="172.5" y="950.2" font-size="25.5" textLength="30.2" lengthAdjust="spacingAndGlyphs" transform="rotate(-90 172.5 950.2)">Kp</text>
<text x="447.4" y="1066.2" font-size="25" textLength="218.7" lengthAdjust="spacingAndGlyphs">January 2019 (UT)</text>
<text x="1392.6" y="1066.2" font-size="25" textLength="218.9" lengthAdjust="spacingAndGlyphs">January 2019 (UT)</text>
<text x="1116.7" y="322.9" font-size="25.5" textLength="80.2" lengthAdjust="spacingAndGlyphs" transform="rotate(-90 1116.7 322.9)">IMF Bz</text>
<text x="1146.9" y="314.6" font-size="25.5" textLength="63.2" lengthAdjust="spacingAndGlyphs" transform="rotate(-90 1146.9 314.6)">( nT )</text>
<text x="1880" y="355.5" font-size="25.5" fill="#f00" textLength="142.8" lengthAdjust="spacingAndGlyphs" transform="rotate(-90 1880 355.5)">SW Velocity</text>
<text x="1915.5" y="337.6" font-size="25" fill="#f00" textLength="6.8" lengthAdjust="spacingAndGlyphs" transform="rotate(-90 1915.5 337.6)">(</text>
<text x="1912" y="323.2" font-size="25" fill="#f00" textLength="37.7" lengthAdjust="spacingAndGlyphs" transform="rotate(-90 1912 323.2)">km</text>
<text x="1912" y="281.3" font-size="25" fill="#f00" textLength="12.5" lengthAdjust="spacingAndGlyphs" transform="rotate(-90 1912 281.3)">s</text>
<text x="1901.8" y="268.1" font-size="17" fill="#f00" textLength="24" lengthAdjust="spacingAndGlyphs" transform="rotate(-90 1901.8 268.1)">−1</text>
<text x="1915.5" y="233.1" font-size="25" fill="#f00" textLength="7.5" lengthAdjust="spacingAndGlyphs" transform="rotate(-90 1915.5 233.1)">)</text>
<text x="1106.3" y="674.1" font-size="25.5" textLength="40" lengthAdjust="spacingAndGlyphs" transform="rotate(-90 1106.3 674.1)">Dst</text>
<text x="1132.8" y="682.1" font-size="25.5" textLength="63.7" lengthAdjust="spacingAndGlyphs" transform="rotate(-90 1132.8 682.1)">( nT )</text>
<text x="1876.7" y="725.4" font-size="25.5" fill="#f00" textLength="149.1" lengthAdjust="spacingAndGlyphs" transform="rotate(-90 1876.7 725.4)">SW Pressure</text>
<text x="1904" y="688" font-size="25.5" fill="#f00" textLength="86.4" lengthAdjust="spacingAndGlyphs" transform="rotate(-90 1904 688)">( nPa )</text>
<text x="1106.7" y="1058.3" font-size="25.5" textLength="252.3" lengthAdjust="spacingAndGlyphs" transform="rotate(-90 1106.7 1058.3)">&gt;10 MeV Proton Flux</text>
<text x="1141.5" y="1019" font-size="25" textLength="9.2" lengthAdjust="spacingAndGlyphs" transform="rotate(-90 1141.5 1019)">(</text>
<text x="1139" y="999.9" font-size="25" textLength="31.4" lengthAdjust="spacingAndGlyphs" transform="rotate(-90 1139 999.9)">cm</text>
<text x="1129" y="969.8" font-size="17" textLength="19.6" lengthAdjust="spacingAndGlyphs" transform="rotate(-90 1129 969.8)">2</text>
<text x="1139" y="950.8" font-size="25" textLength="12.6" lengthAdjust="spacingAndGlyphs" transform="rotate(-90 1139 950.8)">s</text>
<text x="1129" y="938.4" font-size="17" textLength="25.9" lengthAdjust="spacingAndGlyphs" transform="rotate(-90 1129 938.4)">−1</text>
<text x="1139" y="908.8" font-size="25" textLength="21.2" lengthAdjust="spacingAndGlyphs" transform="rotate(-90 1139 908.8)">sr</text>
<text x="1129" y="887.5" font-size="17" textLength="25.9" lengthAdjust="spacingAndGlyphs" transform="rotate(-90 1129 887.5)">−1</text>
<text x="1141.5" y="851.9" font-size="25" textLength="7.9" lengthAdjust="spacingAndGlyphs" transform="rotate(-90 1141.5 851.9)">)</text>
</svg></body></html>
